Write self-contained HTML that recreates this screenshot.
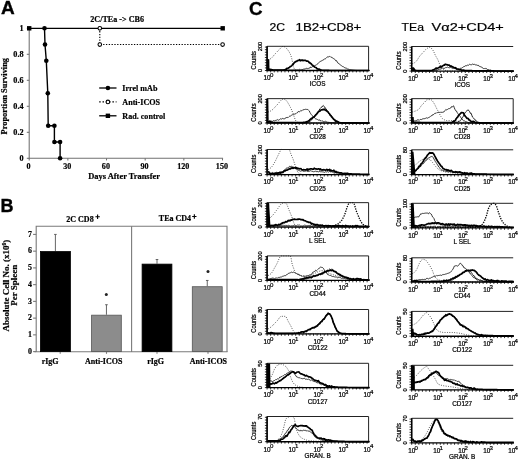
<!DOCTYPE html><html><head><meta charset="utf-8"><style>html,body{margin:0;padding:0;background:#fff;}svg{display:block;filter:blur(0.3px);}text{font-family:"Liberation Sans",sans-serif;}.s{font-family:"Liberation Serif",serif;font-weight:bold;stroke:#000;stroke-width:0.2px;}.c{stroke:#000;stroke-width:0.22px;}.t{stroke:#000;stroke-width:0.2px;}</style></head><body>
<svg width="520" height="460" viewBox="0 0 520 460">
<text x="1.1" y="14" stroke="#000" stroke-width="0.35" style="font-family:'Liberation Sans';font-weight:bold;font-size:19px">A</text>
<g stroke="#707070" stroke-width="1.05" fill="none">
<line x1="29.2" y1="27" x2="29.2" y2="158.8"/>
<line x1="28.7" y1="158.3" x2="223.1" y2="158.3"/>
<line x1="26.8" y1="158.3" x2="29.2" y2="158.3"/>
<line x1="26.8" y1="132.3" x2="29.2" y2="132.3"/>
<line x1="26.8" y1="106.3" x2="29.2" y2="106.3"/>
<line x1="26.8" y1="80.3" x2="29.2" y2="80.3"/>
<line x1="26.8" y1="54.3" x2="29.2" y2="54.3"/>
<line x1="26.8" y1="28.3" x2="29.2" y2="28.3"/>
<line x1="29.2" y1="158.3" x2="29.2" y2="160.4"/>
<line x1="67.86" y1="158.3" x2="67.86" y2="160.4"/>
<line x1="106.52" y1="158.3" x2="106.52" y2="160.4"/>
<line x1="145.18" y1="158.3" x2="145.18" y2="160.4"/>
<line x1="183.84" y1="158.3" x2="183.84" y2="160.4"/>
<line x1="222.5" y1="158.3" x2="222.5" y2="160.4"/>
</g>
<text class="s" x="23.6" y="160.9" text-anchor="end" font-size="8.2">0</text>
<text class="s" x="23.6" y="134.9" text-anchor="end" font-size="8.2">0.2</text>
<text class="s" x="23.6" y="108.9" text-anchor="end" font-size="8.2">0.4</text>
<text class="s" x="23.6" y="82.9" text-anchor="end" font-size="8.2">0.6</text>
<text class="s" x="23.6" y="56.9" text-anchor="end" font-size="8.2">0.8</text>
<text class="s" x="23.6" y="30.9" text-anchor="end" font-size="8.2">1</text>
<text class="s" x="28.6" y="168.9" text-anchor="middle" font-size="8.1">0</text>
<text class="s" x="67.26" y="168.9" text-anchor="middle" font-size="8.1">30</text>
<text class="s" x="105.92" y="168.9" text-anchor="middle" font-size="8.1">60</text>
<text class="s" x="144.58" y="168.9" text-anchor="middle" font-size="8.1">90</text>
<text class="s" x="183.24" y="168.9" text-anchor="middle" font-size="8.1">120</text>
<text class="s" x="221.91" y="168.9" text-anchor="middle" font-size="8.1">150</text>
<text class="s" x="124.1" y="179.4" text-anchor="middle" font-size="8.45">Days After Transfer</text>
<text class="s" transform="translate(7.2,96.2) rotate(-90)" text-anchor="middle" font-size="8.4">Proportion Surviving</text>
<text class="s" x="90.3" y="21.9" font-size="8.1">2C/TEa -&gt; CB6</text>
<line x1="29.2" y1="28.30000000000001" x2="222.6" y2="28.30000000000001" stroke="#000" stroke-width="1.2"/>
<rect x="27" y="26.100000000000012" width="4.4" height="4.4" fill="#000"/>
<rect x="220.5" y="26.100000000000012" width="4.4" height="4.4" fill="#000"/>
<path d="M99.8,28.30000000000001 V44.55000000000001 H222.6" stroke="#000" stroke-width="1.1" stroke-dasharray="1.3,1.5" fill="none"/>
<circle cx="99.8" cy="28.3" r="1.8" fill="#fff" stroke="#000" stroke-width="1.05"/>
<circle cx="99.8" cy="44.55" r="1.8" fill="#fff" stroke="#000" stroke-width="1.05"/>
<circle cx="222.6" cy="44.55" r="1.8" fill="#fff" stroke="#000" stroke-width="1.05"/>
<path d="M44.5,28.30000000000001 L45,44.55 L46.3,60.8 L47.8,93.3 L48.2,125.8 H54.4 V142.05 H60.1 V158.3" stroke="#000" stroke-width="1.4" fill="none"/>
<circle cx="44.5" cy="28.3" r="2.3" fill="#000"/>
<circle cx="45" cy="44.55" r="2.3" fill="#000"/>
<circle cx="46.3" cy="60.8" r="2.3" fill="#000"/>
<circle cx="47.8" cy="93.3" r="2.3" fill="#000"/>
<circle cx="48.2" cy="125.8" r="2.3" fill="#000"/>
<circle cx="54.4" cy="125.8" r="2.3" fill="#000"/>
<circle cx="54.4" cy="142.05" r="2.3" fill="#000"/>
<circle cx="60.1" cy="142.05" r="2.3" fill="#000"/>
<circle cx="60.1" cy="158.3" r="2.3" fill="#000"/>
<line x1="99.2" y1="88" x2="116.5" y2="88" stroke="#000" stroke-width="1.3"/>
<circle cx="107.9" cy="88" r="2.3" fill="#000"/>
<text class="s" x="122.3" y="90.9" font-size="8.1">Irrel mAb</text>
<line x1="99.2" y1="101.9" x2="116.5" y2="101.9" stroke="#000" stroke-width="1.2" stroke-dasharray="1.5,1.8"/>
<circle cx="107.9" cy="101.9" r="1.8" fill="#fff" stroke="#000" stroke-width="1.05"/>
<text class="s" x="122.3" y="104.8" font-size="8.1">Anti-ICOS</text>
<line x1="99.2" y1="115.8" x2="116.5" y2="115.8" stroke="#000" stroke-width="1.3"/>
<rect x="105.7" y="113.6" width="4.4" height="4.4" fill="#000"/>
<text class="s" x="122.3" y="118.7" font-size="8.1">Rad. control</text>
<text x="0.4" y="211.5" stroke="#000" stroke-width="0.35" style="font-family:'Liberation Sans';font-weight:bold;font-size:18px">B</text>
<g stroke="#7a7a7a" stroke-width="1.1" fill="none">
<path d="M36.2,352 V226.2 H227 V352"/>
<line x1="131.6" y1="226.2" x2="131.6" y2="352"/>
<line x1="34.5" y1="351.7" x2="227.5" y2="351.7"/>
<line x1="33.1" y1="351.6" x2="36.2" y2="351.6"/>
<line x1="33.1" y1="334.86" x2="36.2" y2="334.86"/>
<line x1="33.1" y1="318.12" x2="36.2" y2="318.12"/>
<line x1="33.1" y1="301.38" x2="36.2" y2="301.38"/>
<line x1="33.1" y1="284.64" x2="36.2" y2="284.64"/>
<line x1="33.1" y1="267.9" x2="36.2" y2="267.9"/>
<line x1="33.1" y1="251.16" x2="36.2" y2="251.16"/>
<line x1="33.1" y1="234.42" x2="36.2" y2="234.42"/>
<line x1="60.2" y1="351.6" x2="60.2" y2="353.8"/>
<line x1="106.5" y1="351.6" x2="106.5" y2="353.8"/>
<line x1="157" y1="351.6" x2="157" y2="353.8"/>
<line x1="208" y1="351.6" x2="208" y2="353.8"/>
</g>
<text class="s" x="31.9" y="353.9" text-anchor="end" font-size="7.9">0</text>
<text class="s" x="31.9" y="337.16" text-anchor="end" font-size="7.9">1</text>
<text class="s" x="31.9" y="320.42" text-anchor="end" font-size="7.9">2</text>
<text class="s" x="31.9" y="303.68" text-anchor="end" font-size="7.9">3</text>
<text class="s" x="31.9" y="286.94" text-anchor="end" font-size="7.9">4</text>
<text class="s" x="31.9" y="270.2" text-anchor="end" font-size="7.9">5</text>
<text class="s" x="31.9" y="253.46" text-anchor="end" font-size="7.9">6</text>
<text class="s" x="31.9" y="236.72" text-anchor="end" font-size="7.9">7</text>
<line x1="55.4" y1="251.16" x2="55.4" y2="234.42" stroke="#555" stroke-width="0.9"/>
<line x1="54.1" y1="234.42" x2="56.7" y2="234.42" stroke="#555" stroke-width="0.9"/>
<rect x="40.4" y="251.56" width="30" height="100.04" fill="#000" stroke="#000" stroke-width="0.8"/>
<line x1="106.45" y1="314.77" x2="106.45" y2="304.73" stroke="#555" stroke-width="0.9"/>
<line x1="105.15" y1="304.73" x2="107.75" y2="304.73" stroke="#555" stroke-width="0.9"/>
<rect x="91.6" y="315.17" width="29.7" height="36.43" fill="#8c8c8c" stroke="#555" stroke-width="0.8"/>
<line x1="157" y1="263.72" x2="157" y2="259.53" stroke="#555" stroke-width="0.9"/>
<line x1="155.7" y1="259.53" x2="158.3" y2="259.53" stroke="#555" stroke-width="0.9"/>
<rect x="142.1" y="264.12" width="29.8" height="87.48" fill="#000" stroke="#000" stroke-width="0.8"/>
<line x1="207.25" y1="286.31" x2="207.25" y2="280.46" stroke="#555" stroke-width="0.9"/>
<line x1="205.95" y1="280.46" x2="208.55" y2="280.46" stroke="#555" stroke-width="0.9"/>
<rect x="192.3" y="286.71" width="29.9" height="64.89" fill="#8c8c8c" stroke="#555" stroke-width="0.8"/>
<circle cx="106.3" cy="294.4" r="1.5" fill="#222"/>
<circle cx="208" cy="271.4" r="1.5" fill="#222"/>
<text class="s" x="50.1" y="364.2" text-anchor="middle" font-size="8">rIgG</text>
<text class="s" x="103.7" y="364.2" text-anchor="middle" font-size="8">Anti-ICOS</text>
<text class="s" x="155.6" y="364.2" text-anchor="middle" font-size="8">rIgG</text>
<text class="s" x="208.4" y="364.2" text-anchor="middle" font-size="8">Anti-ICOS</text>
<text class="s" x="66.3" y="221.5" font-size="8">2C CD8</text><path d="M95.4,216.7 H99.8 M97.6,214.5 V218.9" stroke="#000" stroke-width="1.1"/>
<text class="s" x="158.8" y="221" font-size="8">TEa CD4</text><path d="M192.2,216.5 H196.5 M194.35,214.3 V218.7" stroke="#000" stroke-width="1.1"/>
<text class="s" transform="translate(8.8,285.7) rotate(-90)" text-anchor="middle" font-size="9">Absolute Cell No. (x10<tspan dy="-3" font-size="5.5">6</tspan><tspan dy="3">)</tspan></text>
<text class="s" transform="translate(16.9,285.3) rotate(-90)" text-anchor="middle" font-size="9">Per Spleen</text>
<text x="249.1" y="14.9" stroke="#000" stroke-width="0.3" style="font-family:'Liberation Sans';font-weight:bold;font-size:18.8px">C</text>
<text x="269.4" y="30.9" font-size="11.6" class="t" textLength="15.6" lengthAdjust="spacingAndGlyphs">2C</text>
<text x="295.5" y="30.9" font-size="11.6" class="t" textLength="65.8" lengthAdjust="spacingAndGlyphs">1B2+CD8+</text>
<text x="401.6" y="30.8" font-size="11.6" class="t" textLength="22.4" lengthAdjust="spacingAndGlyphs">TEa</text>
<text x="431.6" y="30.8" font-size="11.6" class="t" textLength="72.2" lengthAdjust="spacingAndGlyphs">V&#945;2+CD4+</text>
<path d="M268,59.61 L268.7,59.49 L269.4,59.25 L270.1,58.94 L270.8,58.59 L271.5,58.08 L272.2,57.38 L272.9,56.57 L273.6,55.7 L274.3,54.84 L275,54.04 L275.7,53.29 L276.4,52.54 L277.1,51.78 L277.8,51.03 L278.5,50.31 L279.2,49.63 L279.9,48.95 L280.6,48.19 L281.3,47.44 L282,46.8 L282.7,46.4 L283.4,46.31 L284.1,46.54 L284.8,46.91 L285.5,47.38 L286.2,48.05 L286.9,48.84 L287.6,49.69 L288.3,50.61 L289,51.65 L289.7,52.86 L290.4,54.29 L291.1,56.23 L291.8,58.74 L292.5,62.09 L293.2,65.79 L293.9,67.93 L294.6,69.38 L295.3,69.91 L296,70.17 L296.7,70.36 L297.4,70.47 L298.1,70.5 L298.8,70.5 L299.5,70.5 L300.2,70.5 L300.9,70.5 L301.6,70.5 L302.3,70.5 L303,70.5 L303.7,70.5 L304.4,70.5 L305.1,70.5 L305.8,70.5 L306.5,70.5 L307.2,70.5 L307.9,70.5 L308.6,70.5 L309.3,70.5 L310,70.5 L310.7,70.5 L311.4,70.5 L312.1,70.5 L312.8,70.5 L313.5,70.5 L314.2,70.5 L314.9,70.5 L315.6,70.5 L316.3,70.5 L317,70.5 L317.7,70.5 L318.4,70.5 L319.1,70.5 L319.8,70.5 L320.5,70.5 L321.2,70.5 L321.9,70.5 L322.6,70.5 L323.3,70.5 L324,70.5 L324.7,70.5 L325.4,70.5 L326.1,70.5 L326.8,70.5 L327.5,70.5 L328.2,70.5 L328.9,70.5 L329.6,70.5 L330.3,70.5 L331,70.5 L331.7,70.5 L332.4,70.5 L333.1,70.5 L333.8,70.5 L334.5,70.5 L335.2,70.5 L335.9,70.5 L336.6,70.5 L337.3,70.5 L338,70.5 L338.7,70.5 L339.4,70.5 L340.1,70.5 L340.8,70.5 L341.5,70.5 L342.2,70.5 L342.9,70.5 L343.6,70.5 L344.3,70.5 L345,70.5 L345.7,70.5 L346.4,70.5 L347.1,70.5 L347.8,70.5 L348.5,70.5 L349.2,70.5 L349.9,70.5 L350.6,70.5 L351.3,70.5 L352,70.5 L352.7,70.5 L353.4,70.5 L354.1,70.5 L354.8,70.5 L355.5,70.5 L356.2,70.5 L356.9,70.5 L357.6,70.5 L358.3,70.5 L359,70.5 L359.7,70.5 L360.4,70.5 L361.1,70.5 L361.8,70.5 L362.5,70.5 L363.2,70.5 L363.9,70.5 L364.6,70.5 L365.3,70.5 L366,70.5 L366.7,70.5 L367.4,70.5 L368.1,70.5 L368.8,70.5 L369.5,70.5" stroke="#3a3a3a" stroke-width="0.95" fill="none" stroke-dasharray="0.9,1.5"/>
<path d="M268,70.02 L268.7,70.02 L269.4,70.02 L270.1,70.02 L270.8,70.02 L271.5,70.02 L272.2,70.02 L272.9,70.02 L273.6,70.02 L274.3,70.02 L275,70.02 L275.7,70.02 L276.4,70.02 L277.1,70.02 L277.8,70.02 L278.5,70.02 L279.2,70.02 L279.9,70.02 L280.6,70.02 L281.3,70.02 L282,70.02 L282.7,70.02 L283.4,70.02 L284.1,70.02 L284.8,70.02 L285.5,70.02 L286.2,70.02 L286.9,70.02 L287.6,70.02 L288.3,70.02 L289,70.01 L289.7,70.01 L290.4,70 L291.1,69.99 L291.8,69.97 L292.5,69.96 L293.2,69.94 L293.9,69.92 L294.6,69.9 L295.3,69.88 L296,69.85 L296.7,69.83 L297.4,69.8 L298.1,69.72 L298.8,69.87 L299.5,69.33 L300.2,69.36 L300.9,70.36 L301.6,69.49 L302.3,69.89 L303,69.01 L303.7,69.19 L304.4,68.98 L305.1,69.34 L305.8,68.38 L306.5,68.18 L307.2,68.9 L307.9,68.3 L308.6,68.4 L309.3,67.98 L310,68.1 L310.7,66.93 L311.4,67.47 L312.1,66.99 L312.8,66.45 L313.5,66.47 L314.2,66.02 L314.9,65.77 L315.6,65.24 L316.3,65.05 L317,64.3 L317.7,63.65 L318.4,63.11 L319.1,62.43 L319.8,62.01 L320.5,61.24 L321.2,61.09 L321.9,60.59 L322.6,60.31 L323.3,59.85 L324,59.65 L324.7,58.72 L325.4,58.79 L326.1,58.23 L326.8,57.39 L327.5,56.9 L328.2,56.76 L328.9,57.05 L329.6,56.4 L330.3,56.62 L331,57.4 L331.7,57.13 L332.4,57.97 L333.1,58.53 L333.8,58.61 L334.5,59.19 L335.2,59.7 L335.9,60.93 L336.6,60.7 L337.3,62.18 L338,63.22 L338.7,63.31 L339.4,64.23 L340.1,64.58 L340.8,65.28 L341.5,65.68 L342.2,66.06 L342.9,66.79 L343.6,66.79 L344.3,67.51 L345,67.98 L345.7,68.02 L346.4,68.2 L347.1,68.67 L347.8,69.13 L348.5,68.95 L349.2,69.88 L349.9,69.88 L350.6,69.75 L351.3,69.91 L352,70.02 L352.7,70.1 L353.4,70.19 L354.1,70.27 L354.8,70.34 L355.5,70.4 L356.2,70.44 L356.9,70.48 L357.6,70.5 L358.3,70.5 L359,70.5 L359.7,70.5 L360.4,70.5 L361.1,70.5 L361.8,70.5 L362.5,70.5 L363.2,70.5 L363.9,70.5 L364.6,70.5 L365.3,70.5 L366,70.5 L366.7,70.5 L367.4,70.5 L368.1,70.5 L368.8,70.5 L369.5,70.5" stroke="#2a2a2a" stroke-width="0.95" fill="none"/>
<path d="M268,69.25 L268.7,69.06 L269.4,69.25 L270.1,69.23 L270.8,69.69 L271.5,69.49 L272.2,69.9 L272.9,70.01 L273.6,70.02 L274.3,70.02 L275,70.02 L275.7,70.02 L276.4,70.02 L277.1,70.02 L277.8,70.02 L278.5,70.02 L279.2,70.02 L279.9,70.02 L280.6,70.02 L281.3,70.02 L282,70.02 L282.7,70.02 L283.4,70 L284.1,69.87 L284.8,70.06 L285.5,69.38 L286.2,69.51 L286.9,68.26 L287.6,68.31 L288.3,68.1 L289,67.75 L289.7,67.1 L290.4,66.51 L291.1,66.17 L291.8,65.55 L292.5,64.75 L293.2,64.25 L293.9,63.15 L294.6,62.37 L295.3,62.02 L296,61.31 L296.7,61.45 L297.4,60.61 L298.1,60.55 L298.8,60.2 L299.5,59.72 L300.2,60.76 L300.9,60.02 L301.6,60.44 L302.3,60 L303,60.62 L303.7,60.45 L304.4,60.33 L305.1,60.32 L305.8,60.62 L306.5,61.05 L307.2,61.19 L307.9,61.06 L308.6,61.76 L309.3,62.79 L310,62.69 L310.7,63.48 L311.4,64.02 L312.1,65.02 L312.8,65.27 L313.5,66.34 L314.2,66.42 L314.9,67.28 L315.6,67.47 L316.3,67.86 L317,68.8 L317.7,68.95 L318.4,69.18 L319.1,69.08 L319.8,69.44 L320.5,69.84 L321.2,70.01 L321.9,70.14 L322.6,70.23 L323.3,70.27 L324,70.31 L324.7,70.34 L325.4,70.37 L326.1,70.39 L326.8,70.42 L327.5,70.44 L328.2,70.46 L328.9,70.47 L329.6,70.48 L330.3,70.49 L331,70.5 L331.7,70.5 L332.4,70.5 L333.1,70.5 L333.8,70.5 L334.5,70.5 L335.2,70.5 L335.9,70.5 L336.6,70.5 L337.3,70.5 L338,70.5 L338.7,70.5 L339.4,70.5 L340.1,70.5 L340.8,70.5 L341.5,70.5 L342.2,70.5 L342.9,70.5 L343.6,70.5 L344.3,70.5 L345,70.5 L345.7,70.5 L346.4,70.5 L347.1,70.5 L347.8,70.5 L348.5,70.5 L349.2,70.5 L349.9,70.5 L350.6,70.5 L351.3,70.5 L352,70.5 L352.7,70.5 L353.4,70.5 L354.1,70.5 L354.8,70.5 L355.5,70.5 L356.2,70.5 L356.9,70.5 L357.6,70.5 L358.3,70.5 L359,70.5 L359.7,70.5 L360.4,70.5 L361.1,70.5 L361.8,70.5 L362.5,70.5 L363.2,70.5 L363.9,70.5 L364.6,70.5 L365.3,70.5 L366,70.5 L366.7,70.5 L367.4,70.5 L368.1,70.5 L368.8,70.5 L369.5,70.5" stroke="#000" stroke-width="1.7" fill="none" stroke-linejoin="round"/>
<path d="M266.7,70.5 V59.13 H269.3 L269.5,70.5 Z" fill="#000"/>
<path d="M267.1,70.5 V46.3 H368.6 V70.5" stroke="#222" stroke-width="1" fill="none"/>
<line x1="266.6" y1="70.5" x2="369" y2="70.5" stroke="#000" stroke-width="1.4"/>
<path d="M267.1,70.5 v1.9 M270.67,70.5 v1.9 M274.24,70.5 v1.9 M277.81,70.5 v1.9 M281.39,70.5 v1.9 M284.96,70.5 v1.9 M288.53,70.5 v1.9 M292.1,70.5 v1.9 M295.67,70.5 v1.9 M299.24,70.5 v1.9 M302.81,70.5 v1.9 M306.39,70.5 v1.9 M309.96,70.5 v1.9 M313.53,70.5 v1.9 M317.1,70.5 v1.9 M320.67,70.5 v1.9 M324.24,70.5 v1.9 M327.81,70.5 v1.9 M331.39,70.5 v1.9 M334.96,70.5 v1.9 M338.53,70.5 v1.9 M342.1,70.5 v1.9 M345.67,70.5 v1.9 M349.24,70.5 v1.9 M352.81,70.5 v1.9 M356.39,70.5 v1.9 M359.96,70.5 v1.9 M363.53,70.5 v1.9 M367.1,70.5 v1.9" stroke="#000" stroke-width="0.8"/>
<path d="M267.1,70.5 h-2.2 M267.1,67.9 h-2.2 M267.1,65.3 h-2.2 M267.1,62.69 h-2.2 M267.1,60.09 h-2.2 M267.1,57.49 h-2.2 M267.1,54.89 h-2.2 M267.1,52.28 h-2.2 M267.1,49.68 h-2.2 M267.1,47.08 h-2.2" stroke="#000" stroke-width="0.8"/>
<line x1="267.1" y1="46.3" x2="267.1" y2="70.5" stroke="#000" stroke-width="1.5"/>
<text class="c" x="267.1" y="80.3" text-anchor="middle" font-size="6.4">10</text>
<text class="c" x="270" y="77.1" font-size="6.1">0</text>
<text class="c" x="292.1" y="80.3" text-anchor="middle" font-size="6.4">10</text>
<text class="c" x="295" y="77.1" font-size="6.1">1</text>
<text class="c" x="317.1" y="80.3" text-anchor="middle" font-size="6.4">10</text>
<text class="c" x="320" y="77.1" font-size="6.1">2</text>
<text class="c" x="342.1" y="80.3" text-anchor="middle" font-size="6.4">10</text>
<text class="c" x="345" y="77.1" font-size="6.1">3</text>
<text class="c" x="367.1" y="80.3" text-anchor="middle" font-size="6.4">10</text>
<text class="c" x="370" y="77.1" font-size="6.1">4</text>
<text x="317.6" y="86.4" text-anchor="middle" font-size="6.4" class="c">ICOS</text>
<text transform="translate(261.9,46.5) rotate(-90)" text-anchor="middle" font-size="5.7" class="c">200</text>
<text transform="translate(261.9,70.5) rotate(-90)" text-anchor="middle" font-size="5.7" class="c">0</text>
<text transform="translate(255.9,60.2) rotate(-90)" text-anchor="middle" font-size="7" class="c" textLength="18.4" lengthAdjust="spacingAndGlyphs">Counts</text>
<path d="M268,112.04 L268.7,111.84 L269.4,111.57 L270.1,111.24 L270.8,110.87 L271.5,110.46 L272.2,109.94 L272.9,109.33 L273.6,108.63 L274.3,107.88 L275,107.11 L275.7,106.33 L276.4,105.58 L277.1,104.88 L277.8,104.13 L278.5,103.29 L279.2,102.41 L279.9,101.55 L280.6,100.75 L281.3,100.06 L282,99.53 L282.7,99.21 L283.4,99.14 L284.1,99.28 L284.8,99.54 L285.5,99.87 L286.2,100.41 L286.9,101.26 L287.6,102.32 L288.3,103.49 L289,104.66 L289.7,105.9 L290.4,107.27 L291.1,108.75 L291.8,110.34 L292.5,112.04 L293.2,114 L293.9,116.12 L294.6,118.01 L295.3,119.82 L296,121.05 L296.7,121.76 L297.4,122.27 L298.1,122.54 L298.8,122.68 L299.5,122.8 L300.2,122.89 L300.9,122.96 L301.6,122.99 L302.3,123 L303,123 L303.7,123 L304.4,123 L305.1,123 L305.8,123 L306.5,123 L307.2,123 L307.9,123 L308.6,123 L309.3,123 L310,123 L310.7,123 L311.4,123 L312.1,123 L312.8,123 L313.5,123 L314.2,123 L314.9,123 L315.6,123 L316.3,123 L317,123 L317.7,123 L318.4,123 L319.1,123 L319.8,123 L320.5,123 L321.2,123 L321.9,123 L322.6,123 L323.3,123 L324,123 L324.7,123 L325.4,123 L326.1,123 L326.8,123 L327.5,123 L328.2,123 L328.9,123 L329.6,123 L330.3,123 L331,123 L331.7,123 L332.4,123 L333.1,123 L333.8,123 L334.5,123 L335.2,123 L335.9,123 L336.6,123 L337.3,123 L338,123 L338.7,123 L339.4,123 L340.1,123 L340.8,123 L341.5,123 L342.2,123 L342.9,123 L343.6,123 L344.3,123 L345,123 L345.7,123 L346.4,123 L347.1,123 L347.8,123 L348.5,123 L349.2,123 L349.9,123 L350.6,123 L351.3,123 L352,123 L352.7,123 L353.4,123 L354.1,123 L354.8,123 L355.5,123 L356.2,123 L356.9,123 L357.6,123 L358.3,123 L359,123 L359.7,123 L360.4,123 L361.1,123 L361.8,123 L362.5,123 L363.2,123 L363.9,123 L364.6,123 L365.3,123 L366,123 L366.7,123 L367.4,123 L368.1,123 L368.8,123 L369.5,123" stroke="#3a3a3a" stroke-width="0.95" fill="none" stroke-dasharray="0.9,1.5"/>
<path d="M268,121.99 L268.7,121.36 L269.4,121.71 L270.1,122.08 L270.8,121.43 L271.5,120.94 L272.2,121.73 L272.9,120.8 L273.6,120.67 L274.3,120.87 L275,120.77 L275.7,120.36 L276.4,120.28 L277.1,119.63 L277.8,119.76 L278.5,120.2 L279.2,119.86 L279.9,119.27 L280.6,118.79 L281.3,119.09 L282,118.97 L282.7,118.36 L283.4,118.75 L284.1,118.66 L284.8,118.79 L285.5,118.31 L286.2,117.27 L286.9,118.05 L287.6,117.34 L288.3,117.44 L289,116.66 L289.7,116.1 L290.4,116.09 L291.1,115.46 L291.8,115.12 L292.5,114.87 L293.2,114.17 L293.9,114.12 L294.6,114.11 L295.3,113.89 L296,113.61 L296.7,112.89 L297.4,112.79 L298.1,111.58 L298.8,111.51 L299.5,111.74 L300.2,111.37 L300.9,110.37 L301.6,111.02 L302.3,110.24 L303,109.52 L303.7,109.83 L304.4,109.55 L305.1,109.47 L305.8,109.2 L306.5,109.41 L307.2,109.43 L307.9,109.54 L308.6,110.32 L309.3,110.94 L310,112.53 L310.7,113.68 L311.4,114.65 L312.1,115.54 L312.8,116.16 L313.5,116.56 L314.2,117.54 L314.9,118.3 L315.6,118.84 L316.3,119.03 L317,119.3 L317.7,119.63 L318.4,120.14 L319.1,120.09 L319.8,119.87 L320.5,121.01 L321.2,120.65 L321.9,121.4 L322.6,120.93 L323.3,121.41 L324,122 L324.7,121.56 L325.4,121.24 L326.1,121.9 L326.8,121.74 L327.5,122.22 L328.2,122.29 L328.9,122.38 L329.6,122.45 L330.3,122.53 L331,122.59 L331.7,122.65 L332.4,122.7 L333.1,122.73 L333.8,122.75 L334.5,122.76 L335.2,122.78 L335.9,122.79 L336.6,122.8 L337.3,122.81 L338,122.81 L338.7,122.82 L339.4,122.83 L340.1,122.84 L340.8,122.85 L341.5,122.86 L342.2,122.87 L342.9,122.87 L343.6,122.88 L344.3,122.89 L345,122.89 L345.7,122.9 L346.4,122.91 L347.1,122.91 L347.8,122.92 L348.5,122.93 L349.2,122.93 L349.9,122.94 L350.6,122.94 L351.3,122.95 L352,122.95 L352.7,122.95 L353.4,122.96 L354.1,122.96 L354.8,122.97 L355.5,122.97 L356.2,122.97 L356.9,122.98 L357.6,122.98 L358.3,122.98 L359,122.98 L359.7,122.99 L360.4,122.99 L361.1,122.99 L361.8,122.99 L362.5,122.99 L363.2,122.99 L363.9,123 L364.6,123 L365.3,123 L366,123 L366.7,123 L367.4,123 L368.1,123 L368.8,123 L369.5,123" stroke="#2a2a2a" stroke-width="0.95" fill="none"/>
<path d="M268,123 L268.7,123 L269.4,123 L270.1,123 L270.8,123 L271.5,123 L272.2,123 L272.9,123 L273.6,123 L274.3,123 L275,123 L275.7,123 L276.4,123 L277.1,123 L277.8,123 L278.5,123 L279.2,123 L279.9,123 L280.6,123 L281.3,123 L282,123 L282.7,123 L283.4,123 L284.1,123 L284.8,123 L285.5,123 L286.2,123 L286.9,123 L287.6,123 L288.3,123 L289,123 L289.7,123 L290.4,123 L291.1,123 L291.8,123 L292.5,123 L293.2,123 L293.9,123 L294.6,123 L295.3,123 L296,123 L296.7,123 L297.4,123 L298.1,123 L298.8,123 L299.5,123 L300.2,123 L300.9,123 L301.6,123 L302.3,123 L303,123 L303.7,123 L304.4,122.99 L305.1,122.96 L305.8,122.89 L306.5,122.79 L307.2,122.67 L307.9,122.53 L308.6,122.3 L309.3,121.42 L310,121.67 L310.7,120.73 L311.4,119.94 L312.1,118.85 L312.8,117.96 L313.5,117.82 L314.2,117.03 L314.9,116.24 L315.6,114.39 L316.3,113.87 L317,113.06 L317.7,111.89 L318.4,111.63 L319.1,110.45 L319.8,108.84 L320.5,108.21 L321.2,107.46 L321.9,107.03 L322.6,106.01 L323.3,105.45 L324,106.63 L324.7,107.03 L325.4,108.17 L326.1,108.99 L326.8,109.99 L327.5,110.95 L328.2,112.11 L328.9,112.8 L329.6,113.91 L330.3,114.68 L331,115.57 L331.7,116.28 L332.4,117.54 L333.1,118.29 L333.8,118.62 L334.5,119.64 L335.2,120.29 L335.9,120.55 L336.6,121.24 L337.3,121.72 L338,121.98 L338.7,122.62 L339.4,122.44 L340.1,122.62 L340.8,122.77 L341.5,122.89 L342.2,122.97 L342.9,123 L343.6,123 L344.3,123 L345,123 L345.7,123 L346.4,123 L347.1,123 L347.8,123 L348.5,123 L349.2,123 L349.9,123 L350.6,123 L351.3,123 L352,123 L352.7,123 L353.4,123 L354.1,123 L354.8,123 L355.5,123 L356.2,123 L356.9,123 L357.6,123 L358.3,123 L359,123 L359.7,123 L360.4,123 L361.1,123 L361.8,123 L362.5,123 L363.2,123 L363.9,123 L364.6,123 L365.3,123 L366,123 L366.7,123 L367.4,123 L368.1,123 L368.8,123 L369.5,123" stroke="#000" stroke-width="0.85" fill="none"/>
<path d="M268,121.47 L268.7,121.78 L269.4,121.42 L270.1,121.16 L270.8,122.16 L271.5,122.13 L272.2,122.36 L272.9,122.51 L273.6,122.51 L274.3,122.51 L275,122.51 L275.7,122.51 L276.4,122.51 L277.1,122.51 L277.8,122.51 L278.5,122.51 L279.2,122.51 L279.9,122.51 L280.6,122.51 L281.3,122.51 L282,122.51 L282.7,122.51 L283.4,122.51 L284.1,122.51 L284.8,122.51 L285.5,122.51 L286.2,122.51 L286.9,122.51 L287.6,122.51 L288.3,122.51 L289,122.51 L289.7,122.51 L290.4,122.51 L291.1,122.51 L291.8,122.51 L292.5,122.51 L293.2,122.51 L293.9,122.51 L294.6,122.51 L295.3,122.51 L296,122.51 L296.7,122.51 L297.4,122.51 L298.1,122.51 L298.8,122.51 L299.5,122.51 L300.2,122.51 L300.9,122.51 L301.6,122.51 L302.3,122.51 L303,122.47 L303.7,122.41 L304.4,122.31 L305.1,122.41 L305.8,122.14 L306.5,121.86 L307.2,121.68 L307.9,121.36 L308.6,120.85 L309.3,120.53 L310,119.56 L310.7,119 L311.4,118.41 L312.1,118.65 L312.8,117.36 L313.5,117.06 L314.2,116.92 L314.9,115.89 L315.6,115.08 L316.3,114.53 L317,113.68 L317.7,112.73 L318.4,111.84 L319.1,111.29 L319.8,111.21 L320.5,110.39 L321.2,109.87 L321.9,109.95 L322.6,109.49 L323.3,109.39 L324,109.62 L324.7,109.25 L325.4,110.38 L326.1,110.21 L326.8,111.03 L327.5,111.71 L328.2,112.09 L328.9,113.35 L329.6,113.85 L330.3,115.31 L331,115.81 L331.7,116.95 L332.4,117.65 L333.1,118.51 L333.8,119.44 L334.5,119.55 L335.2,120.72 L335.9,121.2 L336.6,121.12 L337.3,121.46 L338,121.83 L338.7,122.28 L339.4,122.5 L340.1,122.66 L340.8,122.75 L341.5,122.77 L342.2,122.78 L342.9,122.8 L343.6,122.81 L344.3,122.82 L345,122.83 L345.7,122.85 L346.4,122.86 L347.1,122.87 L347.8,122.88 L348.5,122.89 L349.2,122.9 L349.9,122.9 L350.6,122.91 L351.3,122.92 L352,122.93 L352.7,122.93 L353.4,122.94 L354.1,122.95 L354.8,122.95 L355.5,122.96 L356.2,122.96 L356.9,122.97 L357.6,122.97 L358.3,122.98 L359,122.98 L359.7,122.98 L360.4,122.98 L361.1,122.99 L361.8,122.99 L362.5,122.99 L363.2,122.99 L363.9,122.99 L364.6,123 L365.3,123 L366,123 L366.7,123 L367.4,123 L368.1,123 L368.8,123 L369.5,123" stroke="#000" stroke-width="1.7" fill="none" stroke-linejoin="round"/>
<path d="M266.7,123 V98.65 H268.3 L268.7,123 Z" fill="#000"/>
<path d="M267.1,123 V98.65 H368.6 V123" stroke="#222" stroke-width="1" fill="none"/>
<line x1="266.6" y1="123" x2="369" y2="123" stroke="#000" stroke-width="1.4"/>
<path d="M267.1,123 v1.9 M270.67,123 v1.9 M274.24,123 v1.9 M277.81,123 v1.9 M281.39,123 v1.9 M284.96,123 v1.9 M288.53,123 v1.9 M292.1,123 v1.9 M295.67,123 v1.9 M299.24,123 v1.9 M302.81,123 v1.9 M306.39,123 v1.9 M309.96,123 v1.9 M313.53,123 v1.9 M317.1,123 v1.9 M320.67,123 v1.9 M324.24,123 v1.9 M327.81,123 v1.9 M331.39,123 v1.9 M334.96,123 v1.9 M338.53,123 v1.9 M342.1,123 v1.9 M345.67,123 v1.9 M349.24,123 v1.9 M352.81,123 v1.9 M356.39,123 v1.9 M359.96,123 v1.9 M363.53,123 v1.9 M367.1,123 v1.9" stroke="#000" stroke-width="0.8"/>
<path d="M267.1,123 h-2.2 M267.1,120.38 h-2.2 M267.1,117.76 h-2.2 M267.1,115.15 h-2.2 M267.1,112.53 h-2.2 M267.1,109.91 h-2.2 M267.1,107.29 h-2.2 M267.1,104.67 h-2.2 M267.1,102.05 h-2.2 M267.1,99.44 h-2.2" stroke="#000" stroke-width="0.8"/>
<line x1="267.1" y1="98.65" x2="267.1" y2="123" stroke="#000" stroke-width="1.5"/>
<text class="c" x="267.1" y="132.8" text-anchor="middle" font-size="6.4">10</text>
<text class="c" x="270" y="129.6" font-size="6.1">0</text>
<text class="c" x="292.1" y="132.8" text-anchor="middle" font-size="6.4">10</text>
<text class="c" x="295" y="129.6" font-size="6.1">1</text>
<text class="c" x="317.1" y="132.8" text-anchor="middle" font-size="6.4">10</text>
<text class="c" x="320" y="129.6" font-size="6.1">2</text>
<text class="c" x="342.1" y="132.8" text-anchor="middle" font-size="6.4">10</text>
<text class="c" x="345" y="129.6" font-size="6.1">3</text>
<text class="c" x="367.1" y="132.8" text-anchor="middle" font-size="6.4">10</text>
<text class="c" x="370" y="129.6" font-size="6.1">4</text>
<text x="317.6" y="138.9" text-anchor="middle" font-size="6.4" class="c">CD28</text>
<text transform="translate(261.9,98.85) rotate(-90)" text-anchor="middle" font-size="5.7" class="c">200</text>
<text transform="translate(261.9,123) rotate(-90)" text-anchor="middle" font-size="5.7" class="c">0</text>
<text transform="translate(255.9,112.62) rotate(-90)" text-anchor="middle" font-size="7" class="c" textLength="18.4" lengthAdjust="spacingAndGlyphs">Counts</text>
<path d="M268,169.58 L268.7,169.3 L269.4,168.89 L270.1,168.37 L270.8,167.78 L271.5,167.12 L272.2,166.29 L272.9,165.28 L273.6,164.15 L274.3,162.97 L275,161.72 L275.7,160.32 L276.4,158.84 L277.1,157.35 L277.8,155.92 L278.5,154.49 L279.2,153.06 L279.9,151.65 L280.6,150.04 L281.3,149.5 L282,149.5 L282.7,149.5 L283.4,149.5 L284.1,149.5 L284.8,149.5 L285.5,149.5 L286.2,149.5 L286.9,149.5 L287.6,149.5 L288.3,149.5 L289,149.5 L289.7,150.46 L290.4,152.53 L291.1,154.51 L291.8,156.12 L292.5,157.74 L293.2,159.46 L293.9,161.45 L294.6,163.83 L295.3,166.12 L296,168.35 L296.7,170.27 L297.4,171.43 L298.1,172.35 L298.8,173.09 L299.5,173.62 L300.2,173.91 L300.9,174.12 L301.6,174.3 L302.3,174.44 L303,174.54 L303.7,174.59 L304.4,174.6 L305.1,174.6 L305.8,174.6 L306.5,174.6 L307.2,174.6 L307.9,174.6 L308.6,174.6 L309.3,174.6 L310,174.6 L310.7,174.6 L311.4,174.6 L312.1,174.6 L312.8,174.6 L313.5,174.6 L314.2,174.6 L314.9,174.6 L315.6,174.6 L316.3,174.6 L317,174.6 L317.7,174.6 L318.4,174.6 L319.1,174.6 L319.8,174.6 L320.5,174.6 L321.2,174.6 L321.9,174.6 L322.6,174.6 L323.3,174.6 L324,174.6 L324.7,174.6 L325.4,174.6 L326.1,174.6 L326.8,174.6 L327.5,174.6 L328.2,174.6 L328.9,174.6 L329.6,174.6 L330.3,174.6 L331,174.6 L331.7,174.6 L332.4,174.6 L333.1,174.6 L333.8,174.6 L334.5,174.6 L335.2,174.6 L335.9,174.6 L336.6,174.6 L337.3,174.6 L338,174.6 L338.7,174.6 L339.4,174.6 L340.1,174.6 L340.8,174.6 L341.5,174.6 L342.2,174.6 L342.9,174.6 L343.6,174.6 L344.3,174.6 L345,174.6 L345.7,174.6 L346.4,174.6 L347.1,174.6 L347.8,174.6 L348.5,174.6 L349.2,174.6 L349.9,174.6 L350.6,174.6 L351.3,174.6 L352,174.6 L352.7,174.6 L353.4,174.6 L354.1,174.6 L354.8,174.6 L355.5,174.6 L356.2,174.6 L356.9,174.6 L357.6,174.6 L358.3,174.6 L359,174.6 L359.7,174.6 L360.4,174.6 L361.1,174.6 L361.8,174.6 L362.5,174.6 L363.2,174.6 L363.9,174.6 L364.6,174.6 L365.3,174.6 L366,174.6 L366.7,174.6 L367.4,174.6 L368.1,174.6 L368.8,174.6 L369.5,174.6" stroke="#3a3a3a" stroke-width="0.95" fill="none" stroke-dasharray="0.9,1.5"/>
<path d="M268,173.33 L268.7,173.33 L269.4,173.57 L270.1,172.55 L270.8,173.37 L271.5,173.06 L272.2,172.62 L272.9,172.53 L273.6,173.1 L274.3,172.84 L275,172.89 L275.7,172.44 L276.4,172.03 L277.1,173.31 L277.8,172.45 L278.5,173.54 L279.2,172.62 L279.9,172.88 L280.6,171.76 L281.3,172.01 L282,171.89 L282.7,171.38 L283.4,170.93 L284.1,170.23 L284.8,169.88 L285.5,169.13 L286.2,168.27 L286.9,167.9 L287.6,167.91 L288.3,167.56 L289,167.02 L289.7,166.28 L290.4,166.53 L291.1,166.53 L291.8,166.3 L292.5,166.97 L293.2,167.21 L293.9,167.07 L294.6,167.67 L295.3,168.16 L296,168.43 L296.7,169.24 L297.4,169.79 L298.1,170.2 L298.8,170.28 L299.5,170.71 L300.2,171.22 L300.9,171.03 L301.6,170.81 L302.3,170.51 L303,171.48 L303.7,171.08 L304.4,171.31 L305.1,171.02 L305.8,171.16 L306.5,170.87 L307.2,171.18 L307.9,171.5 L308.6,171.5 L309.3,171.21 L310,171.22 L310.7,170.61 L311.4,170.83 L312.1,171.69 L312.8,171.23 L313.5,171.74 L314.2,171.84 L314.9,171.13 L315.6,171.22 L316.3,171.73 L317,170.96 L317.7,171.79 L318.4,171.9 L319.1,171.4 L319.8,171.58 L320.5,171.74 L321.2,171.76 L321.9,171.72 L322.6,171.86 L323.3,171.9 L324,172.45 L324.7,172.3 L325.4,171.74 L326.1,172.15 L326.8,171.8 L327.5,171.61 L328.2,172.11 L328.9,171.95 L329.6,171.44 L330.3,171.9 L331,171.62 L331.7,171.8 L332.4,172.14 L333.1,172.52 L333.8,172.86 L334.5,173.08 L335.2,172.73 L335.9,172.87 L336.6,173.19 L337.3,172.99 L338,173.53 L338.7,173.1 L339.4,173.52 L340.1,173.63 L340.8,173.71 L341.5,173.83 L342.2,173.88 L342.9,173.95 L343.6,174.01 L344.3,174.06 L345,174.1 L345.7,174.13 L346.4,174.15 L347.1,174.18 L347.8,174.2 L348.5,174.23 L349.2,174.25 L349.9,174.27 L350.6,174.3 L351.3,174.32 L352,174.34 L352.7,174.36 L353.4,174.38 L354.1,174.4 L354.8,174.41 L355.5,174.43 L356.2,174.45 L356.9,174.46 L357.6,174.48 L358.3,174.49 L359,174.5 L359.7,174.52 L360.4,174.53 L361.1,174.54 L361.8,174.55 L362.5,174.56 L363.2,174.56 L363.9,174.57 L364.6,174.58 L365.3,174.58 L366,174.59 L366.7,174.59 L367.4,174.6 L368.1,174.6 L368.8,174.6 L369.5,174.6" stroke="#2a2a2a" stroke-width="0.95" fill="none"/>
<path d="M268,172.51 L268.7,171.76 L269.4,172.98 L270.1,173.88 L270.8,173.83 L271.5,173.92 L272.2,173.67 L272.9,173.67 L273.6,173.83 L274.3,174.45 L275,173.64 L275.7,173.43 L276.4,173.33 L277.1,173.43 L277.8,173.11 L278.5,172.78 L279.2,173.05 L279.9,172.27 L280.6,173.09 L281.3,172.66 L282,172.32 L282.7,172.55 L283.4,171.87 L284.1,170.95 L284.8,170.71 L285.5,170.79 L286.2,169.98 L286.9,170.07 L287.6,169.93 L288.3,169.34 L289,169.1 L289.7,168.53 L290.4,168.94 L291.1,168 L291.8,168.28 L292.5,167.74 L293.2,168.35 L293.9,167.95 L294.6,167.82 L295.3,167.65 L296,168.42 L296.7,167.7 L297.4,168.23 L298.1,168.69 L298.8,168.33 L299.5,168.86 L300.2,168.76 L300.9,168.64 L301.6,169.31 L302.3,169.86 L303,169.94 L303.7,169.65 L304.4,169.73 L305.1,170.03 L305.8,169.93 L306.5,169.47 L307.2,168.91 L307.9,170.34 L308.6,169.23 L309.3,169.38 L310,168.93 L310.7,168.75 L311.4,168.85 L312.1,169.04 L312.8,169.06 L313.5,169.15 L314.2,168.22 L314.9,168.7 L315.6,168.88 L316.3,168.9 L317,169.35 L317.7,168.97 L318.4,168.79 L319.1,168.94 L319.8,169.83 L320.5,169.01 L321.2,169.71 L321.9,170.11 L322.6,169.95 L323.3,169.91 L324,169.67 L324.7,170.02 L325.4,170.21 L326.1,169.88 L326.8,169.28 L327.5,170.13 L328.2,169.85 L328.9,170.05 L329.6,169.37 L330.3,170.86 L331,170.11 L331.7,170.99 L332.4,170.97 L333.1,171.01 L333.8,170.22 L334.5,171.61 L335.2,172.14 L335.9,171.37 L336.6,172.2 L337.3,172.22 L338,172.36 L338.7,172.53 L339.4,172.8 L340.1,172.84 L340.8,172.95 L341.5,172.91 L342.2,173.39 L342.9,173.56 L343.6,173.73 L344.3,173.3 L345,173.55 L345.7,173.42 L346.4,173.48 L347.1,173.18 L347.8,173.68 L348.5,173.56 L349.2,174.19 L349.9,173.87 L350.6,173.91 L351.3,173.95 L352,173.98 L352.7,174.02 L353.4,174.04 L354.1,174.07 L354.8,174.09 L355.5,174.11 L356.2,174.13 L356.9,174.15 L357.6,174.17 L358.3,174.18 L359,174.2 L359.7,174.22 L360.4,174.23 L361.1,174.25 L361.8,174.26 L362.5,174.28 L363.2,174.29 L363.9,174.3 L364.6,174.31 L365.3,174.32 L366,174.33 L366.7,174.34 L367.4,174.34 L368.1,174.35 L368.8,174.35 L369.5,174.35" stroke="#000" stroke-width="1.7" fill="none" stroke-linejoin="round"/>
<path d="M267.1,174.6 V149.5 H368.6 V174.6" stroke="#222" stroke-width="1" fill="none"/>
<line x1="266.6" y1="174.6" x2="369" y2="174.6" stroke="#000" stroke-width="1.4"/>
<path d="M267.1,174.6 v1.9 M270.67,174.6 v1.9 M274.24,174.6 v1.9 M277.81,174.6 v1.9 M281.39,174.6 v1.9 M284.96,174.6 v1.9 M288.53,174.6 v1.9 M292.1,174.6 v1.9 M295.67,174.6 v1.9 M299.24,174.6 v1.9 M302.81,174.6 v1.9 M306.39,174.6 v1.9 M309.96,174.6 v1.9 M313.53,174.6 v1.9 M317.1,174.6 v1.9 M320.67,174.6 v1.9 M324.24,174.6 v1.9 M327.81,174.6 v1.9 M331.39,174.6 v1.9 M334.96,174.6 v1.9 M338.53,174.6 v1.9 M342.1,174.6 v1.9 M345.67,174.6 v1.9 M349.24,174.6 v1.9 M352.81,174.6 v1.9 M356.39,174.6 v1.9 M359.96,174.6 v1.9 M363.53,174.6 v1.9 M367.1,174.6 v1.9" stroke="#000" stroke-width="0.8"/>
<path d="M267.1,174.6 h-2.2 M267.1,171.9 h-2.2 M267.1,169.2 h-2.2 M267.1,166.5 h-2.2 M267.1,163.8 h-2.2 M267.1,161.11 h-2.2 M267.1,158.41 h-2.2 M267.1,155.71 h-2.2 M267.1,153.01 h-2.2 M267.1,150.31 h-2.2" stroke="#000" stroke-width="0.8"/>
<line x1="267.1" y1="149.5" x2="267.1" y2="174.6" stroke="#000" stroke-width="1.5"/>
<text class="c" x="267.1" y="184.4" text-anchor="middle" font-size="6.4">10</text>
<text class="c" x="270" y="181.2" font-size="6.1">0</text>
<text class="c" x="292.1" y="184.4" text-anchor="middle" font-size="6.4">10</text>
<text class="c" x="295" y="181.2" font-size="6.1">1</text>
<text class="c" x="317.1" y="184.4" text-anchor="middle" font-size="6.4">10</text>
<text class="c" x="320" y="181.2" font-size="6.1">2</text>
<text class="c" x="342.1" y="184.4" text-anchor="middle" font-size="6.4">10</text>
<text class="c" x="345" y="181.2" font-size="6.1">3</text>
<text class="c" x="367.1" y="184.4" text-anchor="middle" font-size="6.4">10</text>
<text class="c" x="370" y="181.2" font-size="6.1">4</text>
<text x="317.6" y="190.5" text-anchor="middle" font-size="6.4" class="c">CD25</text>
<text transform="translate(261.9,149.7) rotate(-90)" text-anchor="middle" font-size="5.7" class="c">200</text>
<text transform="translate(261.9,174.6) rotate(-90)" text-anchor="middle" font-size="5.7" class="c">0</text>
<text transform="translate(255.9,163.85) rotate(-90)" text-anchor="middle" font-size="7" class="c" textLength="18.4" lengthAdjust="spacingAndGlyphs">Counts</text>
<path d="M268,219.69 L268.7,219.14 L269.4,218.54 L270.1,217.91 L270.8,217.23 L271.5,216.53 L272.2,215.79 L272.9,215.03 L273.6,214.23 L274.3,213.36 L275,212.43 L275.7,211.46 L276.4,210.47 L277.1,209.51 L277.8,208.58 L278.5,207.55 L279.2,206.47 L279.9,205.45 L280.6,204.55 L281.3,203.88 L282,203.48 L282.7,203.16 L283.4,202.9 L284.1,202.72 L284.8,202.65 L285.5,202.91 L286.2,203.54 L286.9,204.51 L287.6,206.28 L288.3,208.24 L289,209.96 L289.7,211.66 L290.4,213.36 L291.1,215.03 L291.8,216.73 L292.5,218.78 L293.2,221.15 L293.9,223.14 L294.6,224.51 L295.3,225.66 L296,226.27 L296.7,226.5 L297.4,226.69 L298.1,226.83 L298.8,226.93 L299.5,226.99 L300.2,227 L300.9,227 L301.6,227 L302.3,227 L303,227 L303.7,227 L304.4,227 L305.1,227 L305.8,227 L306.5,227 L307.2,227 L307.9,227 L308.6,227 L309.3,227 L310,227 L310.7,227 L311.4,227 L312.1,227 L312.8,227 L313.5,227 L314.2,227 L314.9,227 L315.6,227 L316.3,227 L317,227 L317.7,227 L318.4,227 L319.1,227 L319.8,227 L320.5,227 L321.2,227 L321.9,227 L322.6,227 L323.3,227 L324,227 L324.7,227 L325.4,227 L326.1,227 L326.8,227 L327.5,227" stroke="#3a3a3a" stroke-width="0.95" fill="none" stroke-dasharray="0.9,1.5"/>
<path d="M328,227 L328.7,226.83 L329.4,226.66 L330.1,226.49 L330.8,226.32 L331.5,226.16 L332.2,225.99 L332.9,225.83 L333.6,225.66 L334.3,225.46 L335,225.25 L335.7,225 L336.4,224.72 L337.1,224.38 L337.8,223.95 L338.5,223.46 L339.2,222.9 L339.9,222.27 L340.6,221.58 L341.3,220.81 L342,219.85 L342.7,218.7 L343.4,217.39 L344.1,215.93 L344.8,214.34 L345.5,212.26 L346.2,209.93 L346.9,207.79 L347.6,205.91 L348.3,204.24 L349,203.3 L349.7,202.72 L350.4,202.65 L351.1,202.65 L351.8,202.65 L352.5,202.65 L353.2,202.69 L353.9,203.36 L354.6,204.88 L355.3,207.72 L356,210.24 L356.7,212.09 L357.4,213.74 L358.1,215.34 L358.8,217 L359.5,218.69 L360.2,220.24 L360.9,221.48 L361.6,222.55 L362.3,223.51 L363,224.3 L363.7,224.88 L364.4,225.32 L365.1,225.7 L365.8,226.02 L366.5,226.29 L367.2,226.51 L367.9,226.7 L368.6,226.86 L369.3,226.98" stroke="#000" stroke-width="1.3" fill="none" stroke-dasharray="1.3,1.2"/>
<path d="M268,226.74 L268.7,226 L269.4,225.92 L270.1,225.84 L270.8,226.25 L271.5,225.84 L272.2,225.86 L272.9,226.42 L273.6,226.53 L274.3,225.73 L275,226.13 L275.7,225.55 L276.4,225.2 L277.1,225.97 L277.8,225.99 L278.5,225.77 L279.2,225.55 L279.9,226.06 L280.6,225.34 L281.3,225.39 L282,225.47 L282.7,225.8 L283.4,225.35 L284.1,225.35 L284.8,225.93 L285.5,224.95 L286.2,225.64 L286.9,225.44 L287.6,225.69 L288.3,225.43 L289,225.2 L289.7,225.77 L290.4,226.02 L291.1,225.67 L291.8,225.92 L292.5,225.76 L293.2,225.58 L293.9,225.56 L294.6,225.16 L295.3,225.84 L296,225.44 L296.7,225.69 L297.4,225.14 L298.1,224.8 L298.8,225.45 L299.5,225.05 L300.2,225.69 L300.9,226.01 L301.6,225.91 L302.3,226 L303,225.82 L303.7,225.61 L304.4,225.2 L305.1,225.33 L305.8,225.4 L306.5,225.66 L307.2,225.75 L307.9,225.53 L308.6,225.5 L309.3,225.47 L310,225.45 L310.7,225.61 L311.4,226.15 L312.1,225.94 L312.8,225.87 L313.5,225.16 L314.2,225.8 L314.9,225.5 L315.6,225.3 L316.3,225.65 L317,225.88 L317.7,225.86 L318.4,226.09 L319.1,225.71 L319.8,225.48 L320.5,225.65 L321.2,225.61 L321.9,225.63 L322.6,225.26 L323.3,226.04 L324,225.82 L324.7,225.67 L325.4,225.52 L326.1,226.6 L326.8,226.05 L327.5,225.97 L328.2,226.21 L328.9,225.67 L329.6,225.86 L330.3,226.05 L331,226.42 L331.7,226.34 L332.4,226.25 L333.1,225.83 L333.8,226.33 L334.5,226.59 L335.2,226.41 L335.9,226.17 L336.6,225.52 L337.3,225.29 L338,226.17 L338.7,225.76 L339.4,225.64 L340.1,225.68 L340.8,226.1 L341.5,226.46 L342.2,226.23 L342.9,226.65 L343.6,226.04 L344.3,225.9 L345,226.69 L345.7,226.16 L346.4,226.07 L347.1,225.81 L347.8,225.78 L348.5,225.96 L349.2,226.41 L349.9,226.33 L350.6,225.88 L351.3,226.42 L352,226.27 L352.7,225.81 L353.4,226.28 L354.1,226.29 L354.8,226.3 L355.5,226.31 L356.2,226.32 L356.9,226.33 L357.6,226.34 L358.3,226.35 L359,226.36 L359.7,226.37 L360.4,226.38 L361.1,226.39 L361.8,226.4 L362.5,226.41 L363.2,226.42 L363.9,226.43 L364.6,226.44 L365.3,226.45 L366,226.46 L366.7,226.47 L367.4,226.48 L368.1,226.49 L368.8,226.5 L369.5,226.51" stroke="#2a2a2a" stroke-width="0.95" fill="none"/>
<path d="M268,225.66 L268.7,225.43 L269.4,225.33 L270.1,225.4 L270.8,225.75 L271.5,225.4 L272.2,225.52 L272.9,225.47 L273.6,225.89 L274.3,225.13 L275,225.29 L275.7,224.67 L276.4,224.89 L277.1,225.3 L277.8,225.27 L278.5,224.42 L279.2,224.89 L279.9,224.3 L280.6,224.38 L281.3,223.4 L282,223.67 L282.7,222.9 L283.4,222.6 L284.1,222.8 L284.8,222.47 L285.5,221.69 L286.2,221.87 L286.9,221.89 L287.6,221.06 L288.3,220.44 L289,220.98 L289.7,220.35 L290.4,220.58 L291.1,219.89 L291.8,220.09 L292.5,219.38 L293.2,219.38 L293.9,219.41 L294.6,219.16 L295.3,219.35 L296,219.52 L296.7,219.5 L297.4,219.21 L298.1,219.5 L298.8,219.08 L299.5,219.11 L300.2,219.23 L300.9,219.65 L301.6,219.65 L302.3,219.86 L303,219.65 L303.7,220.45 L304.4,220.56 L305.1,220.79 L305.8,221.07 L306.5,221.57 L307.2,221.87 L307.9,221.71 L308.6,222.5 L309.3,222.33 L310,222.29 L310.7,222.8 L311.4,223.99 L312.1,223.5 L312.8,223.84 L313.5,224.05 L314.2,224.89 L314.9,224.4 L315.6,225.13 L316.3,224.61 L317,224.82 L317.7,224.5 L318.4,225.42 L319.1,225.81 L319.8,225.11 L320.5,225.21 L321.2,225.62 L321.9,225.15 L322.6,225.38 L323.3,225.99 L324,225.74 L324.7,225.8 L325.4,225.72 L326.1,225.66 L326.8,225.94 L327.5,225.81 L328.2,225.6 L328.9,225.81 L329.6,225.88 L330.3,225.91 L331,225.86 L331.7,226.4 L332.4,225.81 L333.1,226.17 L333.8,225.85 L334.5,226.32 L335.2,225.63 L335.9,225.84 L336.6,226.31 L337.3,225.86 L338,226.16 L338.7,225.42 L339.4,225.81 L340.1,226.2 L340.8,225.91 L341.5,225.99 L342.2,225.65 L342.9,225.9 L343.6,225.87 L344.3,226.35 L345,225.81 L345.7,225.44 L346.4,225.87 L347.1,226.08 L347.8,226.03 L348.5,226.37 L349.2,226.05 L349.9,226.44 L350.6,226.11 L351.3,226.25 L352,226.39 L352.7,225.99 L353.4,226.61 L354.1,226.19 L354.8,226.58 L355.5,225.67 L356.2,225.64 L356.9,225.98 L357.6,225.69 L358.3,226.28 L359,226.29 L359.7,226.3 L360.4,226.32 L361.1,226.33 L361.8,226.34 L362.5,226.36 L363.2,226.37 L363.9,226.39 L364.6,226.4 L365.3,226.42 L366,226.43 L366.7,226.45 L367.4,226.46 L368.1,226.48 L368.8,226.5 L369.5,226.51" stroke="#000" stroke-width="1.7" fill="none" stroke-linejoin="round"/>
<path d="M266.7,227 V202.65 H269.1 L270.5,227 Z" fill="#000"/>
<path d="M267.1,227 V202.65 H368.6 V227" stroke="#222" stroke-width="1" fill="none"/>
<line x1="266.6" y1="227" x2="369" y2="227" stroke="#000" stroke-width="1.4"/>
<path d="M267.1,227 v1.9 M270.67,227 v1.9 M274.24,227 v1.9 M277.81,227 v1.9 M281.39,227 v1.9 M284.96,227 v1.9 M288.53,227 v1.9 M292.1,227 v1.9 M295.67,227 v1.9 M299.24,227 v1.9 M302.81,227 v1.9 M306.39,227 v1.9 M309.96,227 v1.9 M313.53,227 v1.9 M317.1,227 v1.9 M320.67,227 v1.9 M324.24,227 v1.9 M327.81,227 v1.9 M331.39,227 v1.9 M334.96,227 v1.9 M338.53,227 v1.9 M342.1,227 v1.9 M345.67,227 v1.9 M349.24,227 v1.9 M352.81,227 v1.9 M356.39,227 v1.9 M359.96,227 v1.9 M363.53,227 v1.9 M367.1,227 v1.9" stroke="#000" stroke-width="0.8"/>
<path d="M267.1,227 h-2.2 M267.1,224.38 h-2.2 M267.1,221.76 h-2.2 M267.1,219.15 h-2.2 M267.1,216.53 h-2.2 M267.1,213.91 h-2.2 M267.1,211.29 h-2.2 M267.1,208.67 h-2.2 M267.1,206.05 h-2.2 M267.1,203.44 h-2.2" stroke="#000" stroke-width="0.8"/>
<line x1="267.1" y1="202.65" x2="267.1" y2="227" stroke="#000" stroke-width="1.5"/>
<text class="c" x="267.1" y="236.8" text-anchor="middle" font-size="6.4">10</text>
<text class="c" x="270" y="233.6" font-size="6.1">0</text>
<text class="c" x="292.1" y="236.8" text-anchor="middle" font-size="6.4">10</text>
<text class="c" x="295" y="233.6" font-size="6.1">1</text>
<text class="c" x="317.1" y="236.8" text-anchor="middle" font-size="6.4">10</text>
<text class="c" x="320" y="233.6" font-size="6.1">2</text>
<text class="c" x="342.1" y="236.8" text-anchor="middle" font-size="6.4">10</text>
<text class="c" x="345" y="233.6" font-size="6.1">3</text>
<text class="c" x="367.1" y="236.8" text-anchor="middle" font-size="6.4">10</text>
<text class="c" x="370" y="233.6" font-size="6.1">4</text>
<text x="317.6" y="242.9" text-anchor="middle" font-size="6.4" class="c">L SEL</text>
<text transform="translate(261.9,202.85) rotate(-90)" text-anchor="middle" font-size="5.7" class="c">200</text>
<text transform="translate(261.9,227) rotate(-90)" text-anchor="middle" font-size="5.7" class="c">0</text>
<text transform="translate(255.9,216.62) rotate(-90)" text-anchor="middle" font-size="7" class="c" textLength="18.4" lengthAdjust="spacingAndGlyphs">Counts</text>
<path d="M268,275.5 L268.7,275.29 L269.4,274.9 L270.1,274.38 L270.8,273.77 L271.5,273.09 L272.2,272.13 L272.9,270.93 L273.6,269.62 L274.3,268.33 L275,267.11 L275.7,265.9 L276.4,264.65 L277.1,263.32 L277.8,261.85 L278.5,260.07 L279.2,258.37 L279.9,257.12 L280.6,256.11 L281.3,255.9 L282,255.9 L282.7,255.9 L283.4,255.9 L284.1,255.9 L284.8,255.9 L285.5,255.9 L286.2,255.9 L286.9,255.9 L287.6,255.9 L288.3,255.9 L289,255.9 L289.7,255.9 L290.4,255.9 L291.1,258.04 L291.8,262.57 L292.5,265.16 L293.2,267.08 L293.9,269.02 L294.6,271.1 L295.3,272.43 L296,273.14 L296.7,273.68 L297.4,274.1 L298.1,274.43 L298.8,274.73 L299.5,275.02 L300.2,275.29 L300.9,275.53 L301.6,275.73 L302.3,275.88 L303,275.97 L303.7,275.99 L304.4,275.99 L305.1,275.99 L305.8,275.99 L306.5,275.99 L307.2,275.99 L307.9,275.99 L308.6,275.99 L309.3,275.93 L310,275.74 L310.7,275.45 L311.4,275.09 L312.1,274.7 L312.8,274.3 L313.5,273.93 L314.2,273.6 L314.9,273.26 L315.6,272.91 L316.3,272.57 L317,272.24 L317.7,271.94 L318.4,271.67 L319.1,271.38 L319.8,271.1 L320.5,270.86 L321.2,270.68 L321.9,270.6 L322.6,270.65 L323.3,270.8 L324,271.03 L324.7,271.31 L325.4,271.59 L326.1,271.86 L326.8,272.14 L327.5,272.45 L328.2,272.79 L328.9,273.12 L329.6,273.45 L330.3,273.76 L331,274.03 L331.7,274.27 L332.4,274.49 L333.1,274.69 L333.8,274.89 L334.5,275.08 L335.2,275.27 L335.9,275.47 L336.6,275.67 L337.3,275.88 L338,276.08 L338.7,276.29 L339.4,276.49 L340.1,276.69 L340.8,276.89 L341.5,277.08 L342.2,277.26 L342.9,277.44 L343.6,277.6 L344.3,277.77 L345,277.93 L345.7,278.09 L346.4,278.25 L347.1,278.4 L347.8,278.54 L348.5,278.67 L349.2,278.8 L349.9,278.91 L350.6,279.02 L351.3,279.13 L352,279.23 L352.7,279.33 L353.4,279.43 L354.1,279.52 L354.8,279.61 L355.5,279.69 L356.2,279.76 L356.9,279.83 L357.6,279.88 L358.3,279.93 L359,279.97 L359.7,280.02 L360.4,280.06 L361.1,280.11 L361.8,280.15 L362.5,280.18 L363.2,280.22 L363.9,280.26 L364.6,280.29 L365.3,280.32 L366,280.34 L366.7,280.36 L367.4,280.38 L368.1,280.39 L368.8,280.4 L369.5,280.4" stroke="#3a3a3a" stroke-width="0.95" fill="none" stroke-dasharray="0.9,1.5"/>
<path d="M268,279.83 L268.7,279.09 L269.4,279.08 L270.1,278.93 L270.8,278.5 L271.5,278.37 L272.2,278.2 L272.9,277.95 L273.6,278.27 L274.3,278.76 L275,278.16 L275.7,278.12 L276.4,278.01 L277.1,278.1 L277.8,278.07 L278.5,277.45 L279.2,277.26 L279.9,277.71 L280.6,277.02 L281.3,277 L282,276.8 L282.7,276.2 L283.4,276.12 L284.1,275.96 L284.8,275.48 L285.5,275.74 L286.2,274.92 L286.9,274.45 L287.6,274.3 L288.3,273.44 L289,273.06 L289.7,273.06 L290.4,272.76 L291.1,272.35 L291.8,272.11 L292.5,272.56 L293.2,272.21 L293.9,272.11 L294.6,272.64 L295.3,273.14 L296,273.44 L296.7,273.61 L297.4,274.22 L298.1,273.76 L298.8,274.96 L299.5,275.07 L300.2,275.41 L300.9,275.48 L301.6,275.97 L302.3,276.42 L303,275.71 L303.7,276.35 L304.4,276.38 L305.1,276.41 L305.8,276.1 L306.5,276.12 L307.2,275.78 L307.9,275.58 L308.6,275.44 L309.3,275.04 L310,274.98 L310.7,274.96 L311.4,274.03 L312.1,273.79 L312.8,272.2 L313.5,271.97 L314.2,271.55 L314.9,271.53 L315.6,270.26 L316.3,270.89 L317,270.21 L317.7,269.5 L318.4,268.99 L319.1,268.17 L319.8,267.79 L320.5,267.11 L321.2,267.37 L321.9,267.3 L322.6,267.55 L323.3,268.25 L324,269.44 L324.7,270.78 L325.4,271.51 L326.1,272.36 L326.8,272.98 L327.5,274.47 L328.2,274.85 L328.9,274.76 L329.6,275.46 L330.3,275.33 L331,275.8 L331.7,276.12 L332.4,276.49 L333.1,276.32 L333.8,276.69 L334.5,276.84 L335.2,277.01 L335.9,276.93 L336.6,277.08 L337.3,277.77 L338,277.45 L338.7,277.41 L339.4,277.35 L340.1,277.55 L340.8,277.85 L341.5,278.38 L342.2,278.41 L342.9,278.05 L343.6,278.67 L344.3,278.29 L345,278.35 L345.7,279.16 L346.4,278.83 L347.1,279.1 L347.8,278.56 L348.5,278.98 L349.2,279.45 L349.9,279.24 L350.6,279.69 L351.3,279.52 L352,279.47 L352.7,279.54 L353.4,279.54 L354.1,279.68 L354.8,279.73 L355.5,279.77 L356.2,279.81 L356.9,279.85 L357.6,279.89 L358.3,279.93 L359,279.96 L359.7,280 L360.4,280.04 L361.1,280.07 L361.8,280.11 L362.5,280.14 L363.2,280.17 L363.9,280.2 L364.6,280.23 L365.3,280.26 L366,280.29 L366.7,280.31 L367.4,280.34 L368.1,280.36 L368.8,280.38 L369.5,280.4" stroke="#2a2a2a" stroke-width="0.95" fill="none"/>
<path d="M268,279.91 L268.7,279.91 L269.4,279.91 L270.1,279.91 L270.8,279.91 L271.5,279.91 L272.2,279.91 L272.9,279.91 L273.6,279.91 L274.3,279.91 L275,279.91 L275.7,279.91 L276.4,279.91 L277.1,279.91 L277.8,279.91 L278.5,279.91 L279.2,279.91 L279.9,279.91 L280.6,279.91 L281.3,279.91 L282,279.91 L282.7,279.91 L283.4,279.91 L284.1,279.91 L284.8,279.91 L285.5,279.91 L286.2,279.91 L286.9,279.91 L287.6,279.91 L288.3,279.91 L289,279.91 L289.7,279.91 L290.4,279.91 L291.1,279.91 L291.8,279.91 L292.5,279.91 L293.2,279.91 L293.9,279.91 L294.6,279.91 L295.3,279.91 L296,279.91 L296.7,279.91 L297.4,279.91 L298.1,279.91 L298.8,279.9 L299.5,279.86 L300.2,279.81 L300.9,279.73 L301.6,279.22 L302.3,279.35 L303,279.76 L303.7,279.56 L304.4,279.37 L305.1,279.06 L305.8,279.02 L306.5,278.86 L307.2,278.88 L307.9,278.18 L308.6,278.06 L309.3,277.86 L310,277.98 L310.7,277.61 L311.4,277.8 L312.1,277.59 L312.8,277.21 L313.5,276.63 L314.2,276.58 L314.9,276.6 L315.6,275.96 L316.3,275.58 L317,275.37 L317.7,275.33 L318.4,274.82 L319.1,274.65 L319.8,274.3 L320.5,273.88 L321.2,273.28 L321.9,272.6 L322.6,272.32 L323.3,272.23 L324,272.19 L324.7,271.8 L325.4,271.41 L326.1,270.61 L326.8,271.39 L327.5,270.15 L328.2,270.5 L328.9,269.65 L329.6,269.03 L330.3,269.49 L331,269.8 L331.7,268.93 L332.4,269.32 L333.1,270.21 L333.8,270.57 L334.5,271.7 L335.2,271.68 L335.9,272.13 L336.6,273.04 L337.3,273.73 L338,273.98 L338.7,274.5 L339.4,275.45 L340.1,275.2 L340.8,275.73 L341.5,276.23 L342.2,276.21 L342.9,276.61 L343.6,276.94 L344.3,277.56 L345,277.4 L345.7,278.19 L346.4,278.1 L347.1,278.75 L347.8,278.94 L348.5,278.49 L349.2,278.81 L349.9,278.92 L350.6,278.91 L351.3,279.11 L352,279.57 L352.7,279.37 L353.4,279.47 L354.1,279.66 L354.8,279.6 L355.5,279.72 L356.2,279.85 L356.9,279.71 L357.6,279.75 L358.3,279.8 L359,279.84 L359.7,279.88 L360.4,279.91 L361.1,279.95 L361.8,279.98 L362.5,280.01 L363.2,280.04 L363.9,280.06 L364.6,280.08 L365.3,280.1 L366,280.12 L366.7,280.13 L367.4,280.14 L368.1,280.15 L368.8,280.15 L369.5,280.15" stroke="#000" stroke-width="0.85" fill="none"/>
<path d="M268,279.07 L268.7,279.87 L269.4,279.55 L270.1,279.7 L270.8,279.47 L271.5,279.56 L272.2,279.5 L272.9,279.63 L273.6,279.66 L274.3,280.04 L275,279.6 L275.7,279.52 L276.4,279.81 L277.1,279.85 L277.8,279.85 L278.5,279.66 L279.2,279.66 L279.9,279.66 L280.6,279.66 L281.3,279.66 L282,279.66 L282.7,279.66 L283.4,279.66 L284.1,279.66 L284.8,279.66 L285.5,279.66 L286.2,279.66 L286.9,279.66 L287.6,279.66 L288.3,279.66 L289,279.66 L289.7,279.66 L290.4,279.66 L291.1,279.66 L291.8,279.66 L292.5,279.66 L293.2,279.66 L293.9,279.66 L294.6,279.66 L295.3,279.66 L296,279.66 L296.7,279.66 L297.4,279.66 L298.1,279.88 L298.8,279.71 L299.5,279.9 L300.2,279.11 L300.9,279.8 L301.6,279.03 L302.3,278.93 L303,278.69 L303.7,278.93 L304.4,278.15 L305.1,278 L305.8,278.08 L306.5,277.88 L307.2,277.86 L307.9,277.47 L308.6,277.73 L309.3,277.16 L310,277.03 L310.7,277.38 L311.4,277.56 L312.1,276.64 L312.8,276.46 L313.5,275.87 L314.2,276.01 L314.9,275.97 L315.6,276.02 L316.3,275.44 L317,275.37 L317.7,275.3 L318.4,274.8 L319.1,274.22 L319.8,274.27 L320.5,274.37 L321.2,273.71 L321.9,273.86 L322.6,273.71 L323.3,272.77 L324,272.73 L324.7,271.89 L325.4,271.79 L326.1,271.8 L326.8,271.23 L327.5,270.65 L328.2,270.81 L328.9,270.81 L329.6,270.49 L330.3,270.39 L331,270.46 L331.7,270.6 L332.4,270.33 L333.1,270.46 L333.8,271.28 L334.5,271.33 L335.2,271.66 L335.9,271.83 L336.6,272.82 L337.3,273.33 L338,273.57 L338.7,274.12 L339.4,274.47 L340.1,274.53 L340.8,275.37 L341.5,275.49 L342.2,276.15 L342.9,276.19 L343.6,276.62 L344.3,276.91 L345,277 L345.7,277.31 L346.4,277.32 L347.1,277.46 L347.8,278.41 L348.5,277.94 L349.2,279.13 L349.9,278.61 L350.6,278.62 L351.3,279.11 L352,279 L352.7,279.16 L353.4,278.67 L354.1,279.86 L354.8,279.22 L355.5,279.5 L356.2,278.87 L356.9,278.55 L357.6,278.58 L358.3,278.75 L359,278.93 L359.7,279.32 L360.4,278.85 L361.1,279.15 L361.8,279.7 L362.5,279.93 L363.2,279.82 L363.9,279.68 L364.6,279.73 L365.3,279.77 L366,279.81 L366.7,279.84 L367.4,279.87 L368.1,279.89 L368.8,279.91 L369.5,279.91" stroke="#000" stroke-width="1.7" fill="none" stroke-linejoin="round"/>
<path d="M267.1,280.4 V255.9 H368.6 V280.4" stroke="#222" stroke-width="1" fill="none"/>
<line x1="266.6" y1="280.4" x2="369" y2="280.4" stroke="#000" stroke-width="1.4"/>
<path d="M267.1,280.4 v1.9 M270.67,280.4 v1.9 M274.24,280.4 v1.9 M277.81,280.4 v1.9 M281.39,280.4 v1.9 M284.96,280.4 v1.9 M288.53,280.4 v1.9 M292.1,280.4 v1.9 M295.67,280.4 v1.9 M299.24,280.4 v1.9 M302.81,280.4 v1.9 M306.39,280.4 v1.9 M309.96,280.4 v1.9 M313.53,280.4 v1.9 M317.1,280.4 v1.9 M320.67,280.4 v1.9 M324.24,280.4 v1.9 M327.81,280.4 v1.9 M331.39,280.4 v1.9 M334.96,280.4 v1.9 M338.53,280.4 v1.9 M342.1,280.4 v1.9 M345.67,280.4 v1.9 M349.24,280.4 v1.9 M352.81,280.4 v1.9 M356.39,280.4 v1.9 M359.96,280.4 v1.9 M363.53,280.4 v1.9 M367.1,280.4 v1.9" stroke="#000" stroke-width="0.8"/>
<path d="M267.1,280.4 h-2.2 M267.1,277.77 h-2.2 M267.1,275.13 h-2.2 M267.1,272.5 h-2.2 M267.1,269.86 h-2.2 M267.1,267.23 h-2.2 M267.1,264.59 h-2.2 M267.1,261.96 h-2.2 M267.1,259.32 h-2.2 M267.1,256.69 h-2.2" stroke="#000" stroke-width="0.8"/>
<line x1="267.1" y1="255.9" x2="267.1" y2="280.4" stroke="#000" stroke-width="1.5"/>
<text class="c" x="267.1" y="290.2" text-anchor="middle" font-size="6.4">10</text>
<text class="c" x="270" y="287" font-size="6.1">0</text>
<text class="c" x="292.1" y="290.2" text-anchor="middle" font-size="6.4">10</text>
<text class="c" x="295" y="287" font-size="6.1">1</text>
<text class="c" x="317.1" y="290.2" text-anchor="middle" font-size="6.4">10</text>
<text class="c" x="320" y="287" font-size="6.1">2</text>
<text class="c" x="342.1" y="290.2" text-anchor="middle" font-size="6.4">10</text>
<text class="c" x="345" y="287" font-size="6.1">3</text>
<text class="c" x="367.1" y="290.2" text-anchor="middle" font-size="6.4">10</text>
<text class="c" x="370" y="287" font-size="6.1">4</text>
<text x="317.6" y="296.3" text-anchor="middle" font-size="6.4" class="c">CD44</text>
<text transform="translate(261.9,256.1) rotate(-90)" text-anchor="middle" font-size="5.7" class="c">200</text>
<text transform="translate(261.9,280.4) rotate(-90)" text-anchor="middle" font-size="5.7" class="c">0</text>
<text transform="translate(255.9,269.95) rotate(-90)" text-anchor="middle" font-size="7" class="c" textLength="18.4" lengthAdjust="spacingAndGlyphs">Counts</text>
<path d="M268,329.02 L268.7,328.63 L269.4,328.19 L270.1,327.69 L270.8,327.16 L271.5,326.59 L272.2,325.98 L272.9,325.27 L273.6,324.51 L274.3,323.76 L275,323.04 L275.7,322.34 L276.4,321.63 L277.1,320.91 L277.8,320.13 L278.5,319.13 L279.2,318.07 L279.9,317.12 L280.6,316.49 L281.3,316.33 L282,316.33 L282.7,316.33 L283.4,316.33 L284.1,316.33 L284.8,316.33 L285.5,316.37 L286.2,317.1 L286.9,318.44 L287.6,320.04 L288.3,321.52 L289,322.75 L289.7,323.98 L290.4,325.23 L291.1,326.53 L291.8,328 L292.5,329.48 L293.2,330.62 L293.9,331.56 L294.6,332.41 L295.3,333.07 L296,333.41 L296.7,333.56 L297.4,333.68 L298.1,333.78 L298.8,333.85 L299.5,333.89 L300.2,333.9 L300.9,333.9 L301.6,333.9 L302.3,333.9 L303,333.9 L303.7,333.9 L304.4,333.9 L305.1,333.9 L305.8,333.9 L306.5,333.9 L307.2,333.9 L307.9,333.9 L308.6,333.9 L309.3,333.9 L310,333.9 L310.7,333.9 L311.4,333.9 L312.1,333.9 L312.8,333.9 L313.5,333.9 L314.2,333.9 L314.9,333.9 L315.6,333.9 L316.3,333.9 L317,333.9 L317.7,333.9 L318.4,333.9 L319.1,333.9 L319.8,333.9 L320.5,333.9 L321.2,333.9 L321.9,333.9 L322.6,333.9 L323.3,333.9 L324,333.9 L324.7,333.9 L325.4,333.9 L326.1,333.9 L326.8,333.9 L327.5,333.9 L328.2,333.9 L328.9,333.9 L329.6,333.9 L330.3,333.9 L331,333.9 L331.7,333.9 L332.4,333.9 L333.1,333.9 L333.8,333.9 L334.5,333.9 L335.2,333.9 L335.9,333.9 L336.6,333.9 L337.3,333.9 L338,333.9 L338.7,333.9 L339.4,333.9 L340.1,333.9 L340.8,333.9 L341.5,333.9 L342.2,333.9 L342.9,333.9 L343.6,333.9 L344.3,333.9 L345,333.9 L345.7,333.9 L346.4,333.9 L347.1,333.9 L347.8,333.9 L348.5,333.9 L349.2,333.9 L349.9,333.9 L350.6,333.9 L351.3,333.9 L352,333.9 L352.7,333.9 L353.4,333.9 L354.1,333.9 L354.8,333.9 L355.5,333.9 L356.2,333.9 L356.9,333.9 L357.6,333.9 L358.3,333.9 L359,333.9 L359.7,333.9 L360.4,333.9 L361.1,333.9 L361.8,333.9 L362.5,333.9 L363.2,333.9 L363.9,333.9 L364.6,333.9 L365.3,333.9 L366,333.9 L366.7,333.9 L367.4,333.9 L368.1,333.9 L368.8,333.9 L369.5,333.9" stroke="#3a3a3a" stroke-width="0.95" fill="none" stroke-dasharray="0.9,1.5"/>
<path d="M268,333.41 L268.7,333.41 L269.4,333.41 L270.1,333.41 L270.8,333.41 L271.5,333.41 L272.2,333.41 L272.9,333.41 L273.6,333.41 L274.3,333.41 L275,333.41 L275.7,333.4 L276.4,333.4 L277.1,333.4 L277.8,333.4 L278.5,333.4 L279.2,333.39 L279.9,333.39 L280.6,333.39 L281.3,333.38 L282,333.38 L282.7,333.37 L283.4,333.37 L284.1,333.36 L284.8,333.36 L285.5,333.35 L286.2,333.35 L286.9,333.34 L287.6,333.33 L288.3,333.33 L289,333.32 L289.7,333.31 L290.4,333.3 L291.1,333.29 L291.8,333.28 L292.5,333.27 L293.2,333.26 L293.9,333.25 L294.6,333.24 L295.3,333.22 L296,333.21 L296.7,333.2 L297.4,333.18 L298.1,333.59 L298.8,332.81 L299.5,332.84 L300.2,332.17 L300.9,332.1 L301.6,331.78 L302.3,331.6 L303,331.58 L303.7,331.44 L304.4,331.71 L305.1,331.65 L305.8,330.5 L306.5,330.42 L307.2,330.7 L307.9,329.35 L308.6,329.74 L309.3,329.01 L310,328.66 L310.7,328.4 L311.4,327.93 L312.1,328.2 L312.8,327.5 L313.5,327.25 L314.2,326.82 L314.9,326.57 L315.6,326.28 L316.3,325.87 L317,324.89 L317.7,324.83 L318.4,323.86 L319.1,323.21 L319.8,322.65 L320.5,321.79 L321.2,321.04 L321.9,320.64 L322.6,319.64 L323.3,318.41 L324,318.47 L324.7,317.41 L325.4,316.68 L326.1,314.82 L326.8,314.56 L327.5,313.17 L328.2,312.67 L328.9,313.61 L329.6,314.17 L330.3,315.29 L331,316.6 L331.7,317.83 L332.4,319.5 L333.1,321.58 L333.8,323.34 L334.5,325.14 L335.2,326.69 L335.9,328.98 L336.6,329.87 L337.3,331.29 L338,332.35 L338.7,332.57 L339.4,332.57 L340.1,332.94 L340.8,333.26 L341.5,333.45 L342.2,333.58 L342.9,333.65 L343.6,333.67 L344.3,333.69 L345,333.7 L345.7,333.71 L346.4,333.73 L347.1,333.74 L347.8,333.75 L348.5,333.76 L349.2,333.77 L349.9,333.79 L350.6,333.79 L351.3,333.8 L352,333.81 L352.7,333.82 L353.4,333.83 L354.1,333.84 L354.8,333.84 L355.5,333.85 L356.2,333.85 L356.9,333.86 L357.6,333.87 L358.3,333.87 L359,333.87 L359.7,333.88 L360.4,333.88 L361.1,333.88 L361.8,333.89 L362.5,333.89 L363.2,333.89 L363.9,333.89 L364.6,333.9 L365.3,333.9 L366,333.9 L366.7,333.9 L367.4,333.9 L368.1,333.9 L368.8,333.9 L369.5,333.9" stroke="#2a2a2a" stroke-width="0.95" fill="none"/>
<path d="M268,333.5 L268.7,332.82 L269.4,333.07 L270.1,333.24 L270.8,332.65 L271.5,332.58 L272.2,333.17 L272.9,332.87 L273.6,333.43 L274.3,333.19 L275,333.25 L275.7,333.31 L276.4,333.36 L277.1,333.39 L277.8,333.41 L278.5,333.41 L279.2,333.41 L279.9,333.41 L280.6,333.41 L281.3,333.41 L282,333.41 L282.7,333.4 L283.4,333.4 L284.1,333.4 L284.8,333.39 L285.5,333.39 L286.2,333.38 L286.9,333.38 L287.6,333.37 L288.3,333.36 L289,333.36 L289.7,333.35 L290.4,333.34 L291.1,333.33 L291.8,333.32 L292.5,333.3 L293.2,333.29 L293.9,333.28 L294.6,333.26 L295.3,333.24 L296,333.23 L296.7,333.21 L297.4,333.19 L298.1,333.24 L298.8,332.71 L299.5,333.1 L300.2,332.74 L300.9,332.25 L301.6,331.93 L302.3,331.88 L303,331.74 L303.7,332.48 L304.4,331.57 L305.1,331.44 L305.8,331.17 L306.5,331.3 L307.2,330.63 L307.9,330.12 L308.6,329.56 L309.3,329.56 L310,329.65 L310.7,328.91 L311.4,328.44 L312.1,328.19 L312.8,327.51 L313.5,327.84 L314.2,327.78 L314.9,327.35 L315.6,326.62 L316.3,326.62 L317,326.21 L317.7,325.6 L318.4,324.39 L319.1,324.02 L319.8,323.5 L320.5,322.44 L321.2,321.75 L321.9,321.49 L322.6,320.18 L323.3,319.5 L324,319.28 L324.7,318.14 L325.4,316.86 L326.1,315.87 L326.8,315.04 L327.5,314.31 L328.2,313.39 L328.9,314.02 L329.6,313.83 L330.3,314.84 L331,315.75 L331.7,317.46 L332.4,319.09 L333.1,322.1 L333.8,323.62 L334.5,325.16 L335.2,327.24 L335.9,328.2 L336.6,329.92 L337.3,331.32 L338,331.47 L338.7,332.37 L339.4,332.58 L340.1,333.2 L340.8,333.26 L341.5,333.45 L342.2,333.58 L342.9,333.65 L343.6,333.67 L344.3,333.69 L345,333.7 L345.7,333.71 L346.4,333.73 L347.1,333.74 L347.8,333.75 L348.5,333.76 L349.2,333.77 L349.9,333.79 L350.6,333.79 L351.3,333.8 L352,333.81 L352.7,333.82 L353.4,333.83 L354.1,333.84 L354.8,333.84 L355.5,333.85 L356.2,333.85 L356.9,333.86 L357.6,333.87 L358.3,333.87 L359,333.87 L359.7,333.88 L360.4,333.88 L361.1,333.88 L361.8,333.89 L362.5,333.89 L363.2,333.89 L363.9,333.89 L364.6,333.9 L365.3,333.9 L366,333.9 L366.7,333.9 L367.4,333.9 L368.1,333.9 L368.8,333.9 L369.5,333.9" stroke="#000" stroke-width="1.7" fill="none" stroke-linejoin="round"/>
<path d="M267.1,333.9 V309.5 H368.6 V333.9" stroke="#222" stroke-width="1" fill="none"/>
<line x1="266.6" y1="333.9" x2="369" y2="333.9" stroke="#000" stroke-width="1.4"/>
<path d="M267.1,333.9 v1.9 M270.67,333.9 v1.9 M274.24,333.9 v1.9 M277.81,333.9 v1.9 M281.39,333.9 v1.9 M284.96,333.9 v1.9 M288.53,333.9 v1.9 M292.1,333.9 v1.9 M295.67,333.9 v1.9 M299.24,333.9 v1.9 M302.81,333.9 v1.9 M306.39,333.9 v1.9 M309.96,333.9 v1.9 M313.53,333.9 v1.9 M317.1,333.9 v1.9 M320.67,333.9 v1.9 M324.24,333.9 v1.9 M327.81,333.9 v1.9 M331.39,333.9 v1.9 M334.96,333.9 v1.9 M338.53,333.9 v1.9 M342.1,333.9 v1.9 M345.67,333.9 v1.9 M349.24,333.9 v1.9 M352.81,333.9 v1.9 M356.39,333.9 v1.9 M359.96,333.9 v1.9 M363.53,333.9 v1.9 M367.1,333.9 v1.9" stroke="#000" stroke-width="0.8"/>
<path d="M267.1,333.9 h-2.2 M267.1,331.28 h-2.2 M267.1,328.65 h-2.2 M267.1,326.03 h-2.2 M267.1,323.41 h-2.2 M267.1,320.78 h-2.2 M267.1,318.16 h-2.2 M267.1,315.53 h-2.2 M267.1,312.91 h-2.2 M267.1,310.29 h-2.2" stroke="#000" stroke-width="0.8"/>
<line x1="267.1" y1="309.5" x2="267.1" y2="333.9" stroke="#000" stroke-width="1.5"/>
<text class="c" x="267.1" y="343.7" text-anchor="middle" font-size="6.4">10</text>
<text class="c" x="270" y="340.5" font-size="6.1">0</text>
<text class="c" x="292.1" y="343.7" text-anchor="middle" font-size="6.4">10</text>
<text class="c" x="295" y="340.5" font-size="6.1">1</text>
<text class="c" x="317.1" y="343.7" text-anchor="middle" font-size="6.4">10</text>
<text class="c" x="320" y="340.5" font-size="6.1">2</text>
<text class="c" x="342.1" y="343.7" text-anchor="middle" font-size="6.4">10</text>
<text class="c" x="345" y="340.5" font-size="6.1">3</text>
<text class="c" x="367.1" y="343.7" text-anchor="middle" font-size="6.4">10</text>
<text class="c" x="370" y="340.5" font-size="6.1">4</text>
<text x="317.6" y="349.8" text-anchor="middle" font-size="6.4" class="c">CD122</text>
<text transform="translate(261.9,309.7) rotate(-90)" text-anchor="middle" font-size="5.7" class="c">80</text>
<text transform="translate(261.9,333.9) rotate(-90)" text-anchor="middle" font-size="5.7" class="c">0</text>
<text transform="translate(255.9,323.5) rotate(-90)" text-anchor="middle" font-size="7" class="c" textLength="18.4" lengthAdjust="spacingAndGlyphs">Counts</text>
<path d="M268,380.31 L268.7,379.86 L269.4,379.17 L270.1,378.3 L270.8,377.27 L271.5,376.12 L272.2,374.9 L272.9,373.33 L273.6,371.32 L274.3,369.56 L275,368.33 L275.7,367.2 L276.4,366.24 L277.1,365.52 L277.8,365.08 L278.5,364.72 L279.2,364.41 L279.9,364.18 L280.6,364.05 L281.3,364.04 L282,364.19 L282.7,364.47 L283.4,364.84 L284.1,365.27 L284.8,365.73 L285.5,366.27 L286.2,366.98 L286.9,367.86 L287.6,368.89 L288.3,370.18 L289,372.1 L289.7,374.31 L290.4,376.4 L291.1,378.27 L291.8,380.1 L292.5,381.6 L293.2,382.71 L293.9,383.67 L294.6,384.45 L295.3,384.99 L296,385.4 L296.7,385.77 L297.4,386.09 L298.1,386.36 L298.8,386.58 L299.5,386.77 L300.2,386.91 L300.9,387.04 L301.6,387.16 L302.3,387.28 L303,387.38 L303.7,387.46 L304.4,387.53 L305.1,387.58 L305.8,387.6 L306.5,387.6 L307.2,387.6 L307.9,387.6 L308.6,387.6 L309.3,387.6 L310,387.6 L310.7,387.6 L311.4,387.6 L312.1,387.6 L312.8,387.6 L313.5,387.6 L314.2,387.6 L314.9,387.6 L315.6,387.6 L316.3,387.6 L317,387.6 L317.7,387.6 L318.4,387.6 L319.1,387.6 L319.8,387.6 L320.5,387.6 L321.2,387.6 L321.9,387.6 L322.6,387.6 L323.3,387.6 L324,387.6 L324.7,387.6 L325.4,387.6 L326.1,387.6 L326.8,387.6 L327.5,387.6 L328.2,387.6 L328.9,387.6 L329.6,387.6 L330.3,387.6 L331,387.6 L331.7,387.6 L332.4,387.6 L333.1,387.6 L333.8,387.6 L334.5,387.6 L335.2,387.6 L335.9,387.6 L336.6,387.6 L337.3,387.6 L338,387.6 L338.7,387.6 L339.4,387.6 L340.1,387.6 L340.8,387.6 L341.5,387.6 L342.2,387.6 L342.9,387.6 L343.6,387.6 L344.3,387.6 L345,387.6 L345.7,387.6 L346.4,387.6 L347.1,387.6 L347.8,387.6 L348.5,387.6 L349.2,387.6 L349.9,387.6 L350.6,387.6 L351.3,387.6 L352,387.6 L352.7,387.6 L353.4,387.6 L354.1,387.6 L354.8,387.6 L355.5,387.6 L356.2,387.6 L356.9,387.6 L357.6,387.6 L358.3,387.6 L359,387.6 L359.7,387.6 L360.4,387.6 L361.1,387.6 L361.8,387.6 L362.5,387.6 L363.2,387.6 L363.9,387.6 L364.6,387.6 L365.3,387.6 L366,387.6 L366.7,387.6 L367.4,387.6 L368.1,387.6 L368.8,387.6 L369.5,387.6" stroke="#3a3a3a" stroke-width="0.95" fill="none" stroke-dasharray="0.9,1.5"/>
<path d="M268,379.88 L268.7,380.81 L269.4,380.04 L270.1,380.77 L270.8,381.02 L271.5,380.82 L272.2,381.96 L272.9,381.25 L273.6,380.89 L274.3,380.59 L275,380.29 L275.7,379.5 L276.4,379.62 L277.1,379.01 L277.8,378.71 L278.5,378.95 L279.2,378.29 L279.9,376.97 L280.6,377.16 L281.3,376.61 L282,376.51 L282.7,375.79 L283.4,375.69 L284.1,375.13 L284.8,374.45 L285.5,374.52 L286.2,374.12 L286.9,373.19 L287.6,373.06 L288.3,372.59 L289,371.82 L289.7,371.63 L290.4,371.1 L291.1,371.44 L291.8,370.87 L292.5,371.63 L293.2,372.13 L293.9,373.29 L294.6,373.88 L295.3,374.98 L296,375.96 L296.7,376.98 L297.4,377.19 L298.1,377.32 L298.8,377.86 L299.5,377.77 L300.2,377.8 L300.9,378.5 L301.6,378.49 L302.3,378.77 L303,378.39 L303.7,378.54 L304.4,378.14 L305.1,379.03 L305.8,379.42 L306.5,379.13 L307.2,379.42 L307.9,379.4 L308.6,379.19 L309.3,379.76 L310,379.61 L310.7,380.63 L311.4,379.94 L312.1,380.48 L312.8,380.89 L313.5,381.28 L314.2,381.04 L314.9,381.93 L315.6,381.72 L316.3,382.52 L317,382.66 L317.7,382.87 L318.4,382.69 L319.1,383.51 L319.8,383.81 L320.5,384.18 L321.2,384.5 L321.9,384.83 L322.6,384.34 L323.3,384.65 L324,385.48 L324.7,385.43 L325.4,386.01 L326.1,385.58 L326.8,385.82 L327.5,386.15 L328.2,386.56 L328.9,386.23 L329.6,386.39 L330.3,386.72 L331,386.54 L331.7,387.24 L332.4,386.93 L333.1,387.01 L333.8,387.09 L334.5,387.16 L335.2,387.22 L335.9,387.27 L336.6,387.31 L337.3,387.34 L338,387.36 L338.7,387.37 L339.4,387.38 L340.1,387.39 L340.8,387.4 L341.5,387.41 L342.2,387.42 L342.9,387.43 L343.6,387.44 L344.3,387.45 L345,387.46 L345.7,387.47 L346.4,387.48 L347.1,387.48 L347.8,387.49 L348.5,387.5 L349.2,387.51 L349.9,387.51 L350.6,387.52 L351.3,387.53 L352,387.53 L352.7,387.54 L353.4,387.54 L354.1,387.55 L354.8,387.55 L355.5,387.56 L356.2,387.56 L356.9,387.57 L357.6,387.57 L358.3,387.57 L359,387.58 L359.7,387.58 L360.4,387.58 L361.1,387.59 L361.8,387.59 L362.5,387.59 L363.2,387.59 L363.9,387.59 L364.6,387.6 L365.3,387.6 L366,387.6 L366.7,387.6 L367.4,387.6 L368.1,387.6 L368.8,387.6 L369.5,387.6" stroke="#2a2a2a" stroke-width="0.95" fill="none"/>
<path d="M268,383.99 L268.7,383.7 L269.4,383.43 L270.1,383.86 L270.8,384.27 L271.5,383.81 L272.2,383.85 L272.9,382.94 L273.6,383.38 L274.3,383.81 L275,383.38 L275.7,382.65 L276.4,383.08 L277.1,382.49 L277.8,381.92 L278.5,381.52 L279.2,381.21 L279.9,380.58 L280.6,380.58 L281.3,379.86 L282,379.37 L282.7,378.77 L283.4,378.25 L284.1,377.65 L284.8,377.26 L285.5,376.78 L286.2,376.06 L286.9,375.4 L287.6,374.88 L288.3,375.01 L289,374.11 L289.7,373.49 L290.4,373.3 L291.1,372.51 L291.8,372.16 L292.5,371.59 L293.2,372.02 L293.9,371.91 L294.6,372.88 L295.3,373.24 L296,372.95 L296.7,372.28 L297.4,371.98 L298.1,371.99 L298.8,371.91 L299.5,372.66 L300.2,373.34 L300.9,373.88 L301.6,373.74 L302.3,374.18 L303,374.53 L303.7,374.9 L304.4,374.91 L305.1,375.83 L305.8,376.01 L306.5,375.4 L307.2,375.87 L307.9,376.31 L308.6,376.96 L309.3,376.79 L310,376.9 L310.7,377.23 L311.4,377.68 L312.1,378.39 L312.8,378.56 L313.5,379.75 L314.2,379.89 L314.9,380.35 L315.6,380.25 L316.3,380.73 L317,380.85 L317.7,381.37 L318.4,380.64 L319.1,381.87 L319.8,382.66 L320.5,382.8 L321.2,383.27 L321.9,383.26 L322.6,383.52 L323.3,384.01 L324,384.5 L324.7,384.96 L325.4,384.6 L326.1,385.02 L326.8,386.45 L327.5,385.78 L328.2,386.22 L328.9,386.24 L329.6,385.77 L330.3,386.72 L331,386.81 L331.7,385.9 L332.4,386.85 L333.1,386.87 L333.8,386.87 L334.5,386.95 L335.2,387.02 L335.9,387.09 L336.6,387.16 L337.3,387.22 L338,387.27 L338.7,387.31 L339.4,387.34 L340.1,387.36 L340.8,387.37 L341.5,387.38 L342.2,387.39 L342.9,387.41 L343.6,387.42 L344.3,387.43 L345,387.44 L345.7,387.45 L346.4,387.46 L347.1,387.47 L347.8,387.48 L348.5,387.48 L349.2,387.49 L349.9,387.5 L350.6,387.51 L351.3,387.51 L352,387.52 L352.7,387.53 L353.4,387.53 L354.1,387.54 L354.8,387.55 L355.5,387.55 L356.2,387.56 L356.9,387.56 L357.6,387.57 L358.3,387.57 L359,387.57 L359.7,387.58 L360.4,387.58 L361.1,387.58 L361.8,387.59 L362.5,387.59 L363.2,387.59 L363.9,387.59 L364.6,387.59 L365.3,387.6 L366,387.6 L366.7,387.6 L367.4,387.6 L368.1,387.6 L368.8,387.6 L369.5,387.6" stroke="#000" stroke-width="1.7" fill="none" stroke-linejoin="round"/>
<path d="M266.7,387.6 V363.3 H270.1 L270.5,387.6 Z" fill="#000"/>
<path d="M267.1,387.6 V363.3 H368.6 V387.6" stroke="#222" stroke-width="1" fill="none"/>
<line x1="266.6" y1="387.6" x2="369" y2="387.6" stroke="#000" stroke-width="1.4"/>
<path d="M267.1,387.6 v1.9 M270.67,387.6 v1.9 M274.24,387.6 v1.9 M277.81,387.6 v1.9 M281.39,387.6 v1.9 M284.96,387.6 v1.9 M288.53,387.6 v1.9 M292.1,387.6 v1.9 M295.67,387.6 v1.9 M299.24,387.6 v1.9 M302.81,387.6 v1.9 M306.39,387.6 v1.9 M309.96,387.6 v1.9 M313.53,387.6 v1.9 M317.1,387.6 v1.9 M320.67,387.6 v1.9 M324.24,387.6 v1.9 M327.81,387.6 v1.9 M331.39,387.6 v1.9 M334.96,387.6 v1.9 M338.53,387.6 v1.9 M342.1,387.6 v1.9 M345.67,387.6 v1.9 M349.24,387.6 v1.9 M352.81,387.6 v1.9 M356.39,387.6 v1.9 M359.96,387.6 v1.9 M363.53,387.6 v1.9 M367.1,387.6 v1.9" stroke="#000" stroke-width="0.8"/>
<path d="M267.1,387.6 h-2.2 M267.1,384.99 h-2.2 M267.1,382.37 h-2.2 M267.1,379.76 h-2.2 M267.1,377.15 h-2.2 M267.1,374.54 h-2.2 M267.1,371.92 h-2.2 M267.1,369.31 h-2.2 M267.1,366.7 h-2.2 M267.1,364.08 h-2.2" stroke="#000" stroke-width="0.8"/>
<line x1="267.1" y1="363.3" x2="267.1" y2="387.6" stroke="#000" stroke-width="1.5"/>
<text class="c" x="267.1" y="397.4" text-anchor="middle" font-size="6.4">10</text>
<text class="c" x="270" y="394.2" font-size="6.1">0</text>
<text class="c" x="292.1" y="397.4" text-anchor="middle" font-size="6.4">10</text>
<text class="c" x="295" y="394.2" font-size="6.1">1</text>
<text class="c" x="317.1" y="397.4" text-anchor="middle" font-size="6.4">10</text>
<text class="c" x="320" y="394.2" font-size="6.1">2</text>
<text class="c" x="342.1" y="397.4" text-anchor="middle" font-size="6.4">10</text>
<text class="c" x="345" y="394.2" font-size="6.1">3</text>
<text class="c" x="367.1" y="397.4" text-anchor="middle" font-size="6.4">10</text>
<text class="c" x="370" y="394.2" font-size="6.1">4</text>
<text x="317.6" y="403.5" text-anchor="middle" font-size="6.4" class="c">CD127</text>
<text transform="translate(261.9,363.5) rotate(-90)" text-anchor="middle" font-size="5.7" class="c">50</text>
<text transform="translate(261.9,387.6) rotate(-90)" text-anchor="middle" font-size="5.7" class="c">0</text>
<text transform="translate(255.9,377.25) rotate(-90)" text-anchor="middle" font-size="7" class="c" textLength="18.4" lengthAdjust="spacingAndGlyphs">Counts</text>
<path d="M268,441.7 L268.7,441.7 L269.4,441.69 L270.1,441.67 L270.8,441.64 L271.5,441.61 L272.2,441.57 L272.9,441.52 L273.6,441.46 L274.3,441.39 L275,441.32 L275.7,441.23 L276.4,441.09 L277.1,440.69 L277.8,440.07 L278.5,439.29 L279.2,438.43 L279.9,437.52 L280.6,436.39 L281.3,435 L282,433.38 L282.7,431.37 L283.4,428.74 L284.1,425.96 L284.8,422.91 L285.5,419.99 L286.2,418.69 L286.9,417.91 L287.6,417.4 L288.3,417.1 L289,416.85 L289.7,416.66 L290.4,416.54 L291.1,416.5 L291.8,416.54 L292.5,416.65 L293.2,416.85 L293.9,417.15 L294.6,419.91 L295.3,425.03 L296,427.96 L296.7,430.3 L297.4,432.09 L298.1,433.6 L298.8,434.91 L299.5,435.99 L300.2,436.82 L300.9,437.42 L301.6,437.92 L302.3,438.34 L303,438.7 L303.7,439.02 L304.4,439.32 L305.1,439.61 L305.8,439.88 L306.5,440.11 L307.2,440.29 L307.9,440.43 L308.6,440.52 L309.3,440.6 L310,440.67 L310.7,440.74 L311.4,440.8 L312.1,440.85 L312.8,440.9 L313.5,440.94 L314.2,440.98 L314.9,441.02 L315.6,441.06 L316.3,441.1 L317,441.14 L317.7,441.18 L318.4,441.22 L319.1,441.27 L319.8,441.31 L320.5,441.36 L321.2,441.41 L321.9,441.45 L322.6,441.5 L323.3,441.54 L324,441.58 L324.7,441.62 L325.4,441.65 L326.1,441.67 L326.8,441.69 L327.5,441.7 L328.2,441.7 L328.9,441.7 L329.6,441.7 L330.3,441.7 L331,441.7 L331.7,441.7 L332.4,441.7 L333.1,441.7 L333.8,441.7 L334.5,441.7 L335.2,441.7 L335.9,441.7 L336.6,441.7 L337.3,441.7 L338,441.7 L338.7,441.7 L339.4,441.7 L340.1,441.7 L340.8,441.7 L341.5,441.7 L342.2,441.7 L342.9,441.7 L343.6,441.7 L344.3,441.7 L345,441.7 L345.7,441.7 L346.4,441.7 L347.1,441.7 L347.8,441.7 L348.5,441.7 L349.2,441.7 L349.9,441.7 L350.6,441.7 L351.3,441.7 L352,441.7 L352.7,441.7 L353.4,441.7 L354.1,441.7 L354.8,441.7 L355.5,441.7 L356.2,441.7 L356.9,441.7 L357.6,441.7 L358.3,441.7 L359,441.7 L359.7,441.7 L360.4,441.7 L361.1,441.7 L361.8,441.7 L362.5,441.7 L363.2,441.7 L363.9,441.7 L364.6,441.7 L365.3,441.7 L366,441.7 L366.7,441.7 L367.4,441.7 L368.1,441.7 L368.8,441.7 L369.5,441.7" stroke="#3a3a3a" stroke-width="0.95" fill="none" stroke-dasharray="0.9,1.5"/>
<path d="M268,441.7 L268.7,441.7 L269.4,441.68 L270.1,441.66 L270.8,441.64 L271.5,441.6 L272.2,441.56 L272.9,441.51 L273.6,441.45 L274.3,441.39 L275,441.31 L275.7,441.23 L276.4,441.12 L277.1,441.16 L277.8,440.52 L278.5,439.75 L279.2,440 L279.9,439.72 L280.6,438.75 L281.3,437.99 L282,437.25 L282.7,437.08 L283.4,436.71 L284.1,434.94 L284.8,434.18 L285.5,433.04 L286.2,432.78 L286.9,431.24 L287.6,430.04 L288.3,429.91 L289,428.16 L289.7,427.16 L290.4,426.53 L291.1,425.82 L291.8,425.38 L292.5,425.69 L293.2,426.2 L293.9,426.29 L294.6,426.55 L295.3,427.74 L296,428.11 L296.7,429.09 L297.4,429.49 L298.1,430.44 L298.8,430.14 L299.5,430.72 L300.2,430.16 L300.9,431.14 L301.6,430.52 L302.3,430.74 L303,430.73 L303.7,430.1 L304.4,430.33 L305.1,430.88 L305.8,430.2 L306.5,430.85 L307.2,430.47 L307.9,431.32 L308.6,431 L309.3,431.13 L310,431.32 L310.7,432.17 L311.4,432.95 L312.1,433.15 L312.8,433.71 L313.5,434.66 L314.2,435.64 L314.9,436.85 L315.6,437.19 L316.3,437.79 L317,438.26 L317.7,438.37 L318.4,438.71 L319.1,438.94 L319.8,439.4 L320.5,439.8 L321.2,439.8 L321.9,440.01 L322.6,440.58 L323.3,440.35 L324,440.89 L324.7,441.11 L325.4,440.88 L326.1,440.94 L326.8,440.62 L327.5,441 L328.2,440.96 L328.9,441.02 L329.6,441.07 L330.3,441.12 L331,441.16 L331.7,441.21 L332.4,441.25 L333.1,441.28 L333.8,441.32 L334.5,441.35 L335.2,441.37 L335.9,441.4 L336.6,441.42 L337.3,441.44 L338,441.45 L338.7,441.46 L339.4,441.47 L340.1,441.48 L340.8,441.49 L341.5,441.5 L342.2,441.51 L342.9,441.52 L343.6,441.53 L344.3,441.54 L345,441.55 L345.7,441.56 L346.4,441.56 L347.1,441.57 L347.8,441.58 L348.5,441.59 L349.2,441.59 L349.9,441.6 L350.6,441.61 L351.3,441.61 L352,441.62 L352.7,441.63 L353.4,441.63 L354.1,441.64 L354.8,441.64 L355.5,441.65 L356.2,441.65 L356.9,441.66 L357.6,441.66 L358.3,441.67 L359,441.67 L359.7,441.68 L360.4,441.68 L361.1,441.68 L361.8,441.68 L362.5,441.69 L363.2,441.69 L363.9,441.69 L364.6,441.69 L365.3,441.7 L366,441.7 L366.7,441.7 L367.4,441.7 L368.1,441.7 L368.8,441.7 L369.5,441.7" stroke="#2a2a2a" stroke-width="0.95" fill="none"/>
<path d="M268,440.94 L268.7,440.94 L269.4,440.94 L270.1,440.94 L270.8,440.94 L271.5,440.94 L272.2,440.94 L272.9,440.94 L273.6,440.94 L274.3,440.94 L275,440.94 L275.7,440.94 L276.4,440.94 L277.1,440.94 L277.8,440.94 L278.5,440.4 L279.2,440.9 L279.9,440.54 L280.6,439.94 L281.3,439.19 L282,439.28 L282.7,439.07 L283.4,438.64 L284.1,437.75 L284.8,437.42 L285.5,435.91 L286.2,435.6 L286.9,436.26 L287.6,434.83 L288.3,433.61 L289,432.12 L289.7,432.5 L290.4,431.06 L291.1,429.61 L291.8,429.14 L292.5,427.79 L293.2,426.89 L293.9,425.6 L294.6,425.31 L295.3,424.57 L296,425.71 L296.7,425.97 L297.4,426.38 L298.1,426.39 L298.8,426.04 L299.5,425.73 L300.2,425.69 L300.9,425.53 L301.6,425.5 L302.3,425.68 L303,425.91 L303.7,425.93 L304.4,426.04 L305.1,425.87 L305.8,426.09 L306.5,425.77 L307.2,426.74 L307.9,427.08 L308.6,427.75 L309.3,428.04 L310,428.73 L310.7,429.43 L311.4,429.8 L312.1,430.18 L312.8,431.88 L313.5,433.33 L314.2,434.43 L314.9,435.26 L315.6,435.71 L316.3,436.92 L317,437.21 L317.7,437.72 L318.4,438.01 L319.1,438.11 L319.8,438.5 L320.5,438.21 L321.2,438.19 L321.9,438.84 L322.6,439.06 L323.3,438.61 L324,439.23 L324.7,438.87 L325.4,440.34 L326.1,439.65 L326.8,440.04 L327.5,440.03 L328.2,439.76 L328.9,439.81 L329.6,440.33 L330.3,440.13 L331,440.89 L331.7,440.59 L332.4,440.83 L333.1,441.39 L333.8,440.94 L334.5,441 L335.2,441.06 L335.9,441.11 L336.6,441.16 L337.3,441.21 L338,441.25 L338.7,441.29 L339.4,441.33 L340.1,441.36 L340.8,441.39 L341.5,441.41 L342.2,441.43 L342.9,441.45 L343.6,441.46 L344.3,441.47 L345,441.48 L345.7,441.5 L346.4,441.51 L347.1,441.52 L347.8,441.53 L348.5,441.54 L349.2,441.55 L349.9,441.56 L350.6,441.57 L351.3,441.58 L352,441.59 L352.7,441.6 L353.4,441.6 L354.1,441.61 L354.8,441.62 L355.5,441.63 L356.2,441.63 L356.9,441.64 L357.6,441.65 L358.3,441.65 L359,441.66 L359.7,441.66 L360.4,441.67 L361.1,441.67 L361.8,441.68 L362.5,441.68 L363.2,441.68 L363.9,441.69 L364.6,441.69 L365.3,441.69 L366,441.7 L366.7,441.7 L367.4,441.7 L368.1,441.7 L368.8,441.7 L369.5,441.7" stroke="#000" stroke-width="1.7" fill="none" stroke-linejoin="round"/>
<path d="M267.1,441.7 V416.5 H368.6 V441.7" stroke="#222" stroke-width="1" fill="none"/>
<line x1="266.6" y1="441.7" x2="369" y2="441.7" stroke="#000" stroke-width="1.4"/>
<path d="M267.1,441.7 v1.9 M270.67,441.7 v1.9 M274.24,441.7 v1.9 M277.81,441.7 v1.9 M281.39,441.7 v1.9 M284.96,441.7 v1.9 M288.53,441.7 v1.9 M292.1,441.7 v1.9 M295.67,441.7 v1.9 M299.24,441.7 v1.9 M302.81,441.7 v1.9 M306.39,441.7 v1.9 M309.96,441.7 v1.9 M313.53,441.7 v1.9 M317.1,441.7 v1.9 M320.67,441.7 v1.9 M324.24,441.7 v1.9 M327.81,441.7 v1.9 M331.39,441.7 v1.9 M334.96,441.7 v1.9 M338.53,441.7 v1.9 M342.1,441.7 v1.9 M345.67,441.7 v1.9 M349.24,441.7 v1.9 M352.81,441.7 v1.9 M356.39,441.7 v1.9 M359.96,441.7 v1.9 M363.53,441.7 v1.9 M367.1,441.7 v1.9" stroke="#000" stroke-width="0.8"/>
<path d="M267.1,441.7 h-2.2 M267.1,438.99 h-2.2 M267.1,436.28 h-2.2 M267.1,433.57 h-2.2 M267.1,430.86 h-2.2 M267.1,428.15 h-2.2 M267.1,425.44 h-2.2 M267.1,422.73 h-2.2 M267.1,420.02 h-2.2 M267.1,417.31 h-2.2" stroke="#000" stroke-width="0.8"/>
<line x1="267.1" y1="416.5" x2="267.1" y2="441.7" stroke="#000" stroke-width="1.5"/>
<text class="c" x="267.1" y="451.5" text-anchor="middle" font-size="6.4">10</text>
<text class="c" x="270" y="448.3" font-size="6.1">0</text>
<text class="c" x="292.1" y="451.5" text-anchor="middle" font-size="6.4">10</text>
<text class="c" x="295" y="448.3" font-size="6.1">1</text>
<text class="c" x="317.1" y="451.5" text-anchor="middle" font-size="6.4">10</text>
<text class="c" x="320" y="448.3" font-size="6.1">2</text>
<text class="c" x="342.1" y="451.5" text-anchor="middle" font-size="6.4">10</text>
<text class="c" x="345" y="448.3" font-size="6.1">3</text>
<text class="c" x="367.1" y="451.5" text-anchor="middle" font-size="6.4">10</text>
<text class="c" x="370" y="448.3" font-size="6.1">4</text>
<text x="317.6" y="457.6" text-anchor="middle" font-size="6.4" class="c">GRAN. B</text>
<text transform="translate(261.9,416.7) rotate(-90)" text-anchor="middle" font-size="5.7" class="c">70</text>
<text transform="translate(261.9,441.7) rotate(-90)" text-anchor="middle" font-size="5.7" class="c">0</text>
<text transform="translate(255.9,430.9) rotate(-90)" text-anchor="middle" font-size="7" class="c" textLength="18.4" lengthAdjust="spacingAndGlyphs">Counts</text>
<path d="M412.3,63.72 L413,63.56 L413.7,63.24 L414.4,62.81 L415.1,62.29 L415.8,61.7 L416.5,61.06 L417.2,60.14 L417.9,58.99 L418.6,57.79 L419.3,56.72 L420,55.84 L420.7,55.02 L421.4,54.24 L422.1,53.49 L422.8,52.76 L423.5,52.02 L424.2,51.24 L424.9,50.43 L425.6,49.67 L426.3,49.01 L427,48.52 L427.7,48.05 L428.4,47.64 L429.1,47.35 L429.8,47.24 L430.5,47.46 L431.2,48.04 L431.9,48.86 L432.6,49.79 L433.3,50.81 L434,52.24 L434.7,53.87 L435.4,55.41 L436.1,56.68 L436.8,57.85 L437.5,59.06 L438.2,60.51 L438.9,62.47 L439.6,64.1 L440.3,65.49 L441,66.65 L441.7,67.54 L442.4,68.35 L443.1,69.04 L443.8,69.58 L444.5,69.96 L445.2,70.29 L445.9,70.58 L446.6,70.82 L447.3,71 L448,71.09 L448.7,71.1 L449.4,71.1 L450.1,71.1 L450.8,71.1 L451.5,71.1 L452.2,71.1 L452.9,71.1 L453.6,71.1 L454.3,71.1 L455,71.1 L455.7,71.1 L456.4,71.1 L457.1,71.1 L457.8,71.1 L458.5,71.1 L459.2,71.1 L459.9,71.1 L460.6,71.1 L461.3,71.1 L462,71.1 L462.7,71.1 L463.4,71.1 L464.1,71.1 L464.8,71.1 L465.5,71.1 L466.2,71.1 L466.9,71.1 L467.6,71.1 L468.3,71.1 L469,71.1 L469.7,71.1 L470.4,71.1 L471.1,71.1 L471.8,71.1 L472.5,71.1 L473.2,71.1 L473.9,71.1 L474.6,71.1 L475.3,71.1 L476,71.1 L476.7,71.1 L477.4,71.1 L478.1,71.1 L478.8,71.1 L479.5,71.1 L480.2,71.1 L480.9,71.1 L481.6,71.1 L482.3,71.1 L483,71.1 L483.7,71.1 L484.4,71.1 L485.1,71.1 L485.8,71.1 L486.5,71.1 L487.2,71.1 L487.9,71.1 L488.6,71.1 L489.3,71.1 L490,71.1 L490.7,71.1 L491.4,71.1 L492.1,71.1 L492.8,71.1 L493.5,71.1 L494.2,71.1 L494.9,71.1 L495.6,71.1 L496.3,71.1 L497,71.1 L497.7,71.1 L498.4,71.1 L499.1,71.1 L499.8,71.1 L500.5,71.1 L501.2,71.1 L501.9,71.1 L502.6,71.1 L503.3,71.1 L504,71.1 L504.7,71.1 L505.4,71.1 L506.1,71.1 L506.8,71.1 L507.5,71.1 L508.2,71.1 L508.9,71.1 L509.6,71.1 L510.3,71.1 L511,71.1 L511.7,71.1 L512.4,71.1 L513.1,71.1 L513.8,71.1" stroke="#3a3a3a" stroke-width="0.95" fill="none" stroke-dasharray="0.9,1.5"/>
<path d="M412.3,70.61 L413,70.61 L413.7,70.61 L414.4,70.61 L415.1,70.61 L415.8,70.61 L416.5,70.61 L417.2,70.61 L417.9,70.61 L418.6,70.61 L419.3,70.61 L420,70.61 L420.7,70.61 L421.4,70.61 L422.1,70.61 L422.8,70.61 L423.5,70.61 L424.2,70.61 L424.9,70.61 L425.6,70.61 L426.3,70.61 L427,70.61 L427.7,70.61 L428.4,70.61 L429.1,70.61 L429.8,70.61 L430.5,70.61 L431.2,70.61 L431.9,70.61 L432.6,70.61 L433.3,70.6 L434,70.58 L434.7,70.55 L435.4,70.52 L436.1,70.47 L436.8,70.41 L437.5,70.37 L438.2,69.67 L438.9,69.42 L439.6,69.18 L440.3,68.85 L441,69.41 L441.7,68.26 L442.4,68.08 L443.1,67.76 L443.8,68.78 L444.5,68.28 L445.2,68.08 L445.9,67.3 L446.6,67.52 L447.3,67.06 L448,67.36 L448.7,67.62 L449.4,67.79 L450.1,67.61 L450.8,67.15 L451.5,68 L452.2,68.49 L452.9,68.1 L453.6,67.96 L454.3,67.81 L455,68.35 L455.7,68.62 L456.4,69.57 L457.1,69.23 L457.8,69.22 L458.5,69.01 L459.2,69.24 L459.9,68.63 L460.6,68.28 L461.3,68.27 L462,67.97 L462.7,67.37 L463.4,66.87 L464.1,66.36 L464.8,66.56 L465.5,65.61 L466.2,65.77 L466.9,65.59 L467.6,65.12 L468.3,65.35 L469,64.74 L469.7,64.25 L470.4,64.65 L471.1,64.62 L471.8,64.74 L472.5,64.09 L473.2,64.14 L473.9,64.9 L474.6,64.19 L475.3,64.77 L476,65.09 L476.7,64.97 L477.4,65.38 L478.1,65.1 L478.8,66.06 L479.5,66.35 L480.2,66.61 L480.9,66.76 L481.6,66.96 L482.3,67.85 L483,68.1 L483.7,68.65 L484.4,68.5 L485.1,68.99 L485.8,68.27 L486.5,68.55 L487.2,69.59 L487.9,69.46 L488.6,69.55 L489.3,70.01 L490,70.14 L490.7,70 L491.4,70.42 L492.1,70.47 L492.8,70.57 L493.5,70.65 L494.2,70.72 L494.9,70.79 L495.6,70.86 L496.3,70.92 L497,70.97 L497.7,71.02 L498.4,71.05 L499.1,71.08 L499.8,71.1 L500.5,71.1 L501.2,71.1 L501.9,71.1 L502.6,71.1 L503.3,71.1 L504,71.1 L504.7,71.1 L505.4,71.1 L506.1,71.1 L506.8,71.1 L507.5,71.1 L508.2,71.1 L508.9,71.1 L509.6,71.1 L510.3,71.1 L511,71.1 L511.7,71.1 L512.4,71.1 L513.1,71.1 L513.8,71.1" stroke="#2a2a2a" stroke-width="0.95" fill="none"/>
<path d="M412.3,68.43 L413,67.91 L413.7,68.44 L414.4,69.53 L415.1,70.39 L415.8,70.44 L416.5,70.48 L417.2,70.51 L417.9,70.54 L418.6,70.56 L419.3,70.58 L420,70.59 L420.7,70.6 L421.4,70.61 L422.1,70.61 L422.8,70.61 L423.5,70.61 L424.2,70.61 L424.9,70.61 L425.6,70.61 L426.3,70.61 L427,70.61 L427.7,70.61 L428.4,70.61 L429.1,70.61 L429.8,70.61 L430.5,70.6 L431.2,70.48 L431.9,70.35 L432.6,70.12 L433.3,69.74 L434,69.56 L434.7,69.15 L435.4,68.72 L436.1,68.02 L436.8,68.85 L437.5,68.51 L438.2,67.84 L438.9,67.53 L439.6,67.25 L440.3,66.35 L441,67.09 L441.7,66.25 L442.4,66.23 L443.1,65.62 L443.8,65.05 L444.5,65.26 L445.2,64.2 L445.9,64.52 L446.6,64.53 L447.3,64.87 L448,64.89 L448.7,65.27 L449.4,65.15 L450.1,66.17 L450.8,65.97 L451.5,66.12 L452.2,66.78 L452.9,66.82 L453.6,67.57 L454.3,67.56 L455,68.1 L455.7,67.68 L456.4,68.71 L457.1,68.99 L457.8,69.01 L458.5,69.49 L459.2,69.59 L459.9,69.61 L460.6,69.61 L461.3,70.18 L462,70.1 L462.7,70.26 L463.4,70.09 L464.1,70.37 L464.8,70.45 L465.5,70.51 L466.2,70.56 L466.9,70.59 L467.6,70.62 L468.3,70.64 L469,70.66 L469.7,70.67 L470.4,70.69 L471.1,70.71 L471.8,70.72 L472.5,70.73 L473.2,70.74 L473.9,70.76 L474.6,70.77 L475.3,70.78 L476,70.79 L476.7,70.79 L477.4,70.8 L478.1,70.81 L478.8,70.82 L479.5,70.82 L480.2,70.83 L480.9,70.84 L481.6,70.85 L482.3,70.85 L483,70.86 L483.7,70.87 L484.4,70.88 L485.1,70.88 L485.8,70.89 L486.5,70.9 L487.2,70.91 L487.9,70.91 L488.6,70.92 L489.3,70.93 L490,70.94 L490.7,70.94 L491.4,70.95 L492.1,70.96 L492.8,70.96 L493.5,70.97 L494.2,70.98 L494.9,70.98 L495.6,70.99 L496.3,71 L497,71 L497.7,71.01 L498.4,71.02 L499.1,71.02 L499.8,71.03 L500.5,71.03 L501.2,71.04 L501.9,71.04 L502.6,71.05 L503.3,71.05 L504,71.06 L504.7,71.06 L505.4,71.07 L506.1,71.07 L506.8,71.07 L507.5,71.08 L508.2,71.08 L508.9,71.08 L509.6,71.09 L510.3,71.09 L511,71.09 L511.7,71.09 L512.4,71.1 L513.1,71.1 L513.8,71.1" stroke="#000" stroke-width="1.7" fill="none" stroke-linejoin="round"/>
<path d="M411.3,71.1 V67.9 H413.9 L414.3,71.1 Z" fill="#000"/>
<path d="M411.7,71.1 V46.5 H513.2" stroke="#222" stroke-width="1" fill="none"/>
<line x1="411.2" y1="71.1" x2="513.6" y2="71.1" stroke="#000" stroke-width="1.4"/>
<path d="M411.7,71.1 v1.9 M415.27,71.1 v1.9 M418.84,71.1 v1.9 M422.41,71.1 v1.9 M425.99,71.1 v1.9 M429.56,71.1 v1.9 M433.13,71.1 v1.9 M436.7,71.1 v1.9 M440.27,71.1 v1.9 M443.84,71.1 v1.9 M447.41,71.1 v1.9 M450.99,71.1 v1.9 M454.56,71.1 v1.9 M458.13,71.1 v1.9 M461.7,71.1 v1.9 M465.27,71.1 v1.9 M468.84,71.1 v1.9 M472.41,71.1 v1.9 M475.99,71.1 v1.9 M479.56,71.1 v1.9 M483.13,71.1 v1.9 M486.7,71.1 v1.9 M490.27,71.1 v1.9 M493.84,71.1 v1.9 M497.41,71.1 v1.9 M500.99,71.1 v1.9 M504.56,71.1 v1.9 M508.13,71.1 v1.9 M511.7,71.1 v1.9" stroke="#000" stroke-width="0.8"/>
<path d="M411.7,71.1 h-2.2 M411.7,68.45 h-2.2 M411.7,65.81 h-2.2 M411.7,63.16 h-2.2 M411.7,60.52 h-2.2 M411.7,57.87 h-2.2 M411.7,55.23 h-2.2 M411.7,52.58 h-2.2 M411.7,49.94 h-2.2 M411.7,47.29 h-2.2" stroke="#000" stroke-width="0.8"/>
<line x1="411.7" y1="46.5" x2="411.7" y2="71.1" stroke="#000" stroke-width="1.5"/>
<text class="c" x="411.7" y="80.9" text-anchor="middle" font-size="6.4">10</text>
<text class="c" x="414.6" y="77.7" font-size="6.1">0</text>
<text class="c" x="436.7" y="80.9" text-anchor="middle" font-size="6.4">10</text>
<text class="c" x="439.6" y="77.7" font-size="6.1">1</text>
<text class="c" x="461.7" y="80.9" text-anchor="middle" font-size="6.4">10</text>
<text class="c" x="464.6" y="77.7" font-size="6.1">2</text>
<text class="c" x="486.7" y="80.9" text-anchor="middle" font-size="6.4">10</text>
<text class="c" x="489.6" y="77.7" font-size="6.1">3</text>
<text class="c" x="511.7" y="80.9" text-anchor="middle" font-size="6.4">10</text>
<text class="c" x="514.6" y="77.7" font-size="6.1">4</text>
<text x="462.2" y="87" text-anchor="middle" font-size="6.4" class="c">ICOS</text>
<text transform="translate(406.5,46.7) rotate(-90)" text-anchor="middle" font-size="5.7" class="c">200</text>
<text transform="translate(406.5,71.1) rotate(-90)" text-anchor="middle" font-size="5.7" class="c">0</text>
<text transform="translate(400.5,60.6) rotate(-90)" text-anchor="middle" font-size="7" class="c" textLength="18.4" lengthAdjust="spacingAndGlyphs">Counts</text>
<path d="M412.3,112.04 L413,111.85 L413.7,111.64 L414.4,111.4 L415.1,111.14 L415.8,110.88 L416.5,110.61 L417.2,110.3 L417.9,109.93 L418.6,109.45 L419.3,108.66 L420,107.64 L420.7,106.56 L421.4,105.59 L422.1,104.8 L422.8,104.08 L423.5,103.39 L424.2,102.71 L424.9,101.96 L425.6,101.03 L426.3,100.16 L427,99.65 L427.7,99.62 L428.4,99.62 L429.1,99.62 L429.8,99.62 L430.5,99.62 L431.2,99.72 L431.9,100.26 L432.6,101.15 L433.3,102.21 L434,103.28 L434.7,104.47 L435.4,105.89 L436.1,107.38 L436.8,108.77 L437.5,110.1 L438.2,111.41 L438.9,112.71 L439.6,114.02 L440.3,115.38 L441,116.61 L441.7,117.63 L442.4,118.55 L443.1,119.23 L443.8,119.6 L444.5,119.91 L445.2,120.18 L445.9,120.39 L446.6,120.52 L447.3,120.56 L448,120.56 L448.7,120.56 L449.4,120.56 L450.1,120.56 L450.8,120.56 L451.5,120.56 L452.2,120.56 L452.9,120.58 L453.6,120.64 L454.3,120.73 L455,120.85 L455.7,120.98 L456.4,121.12 L457.1,121.26 L457.8,121.4 L458.5,121.57 L459.2,121.76 L459.9,121.96 L460.6,122.15 L461.3,122.33 L462,122.47 L462.7,122.57 L463.4,122.67 L464.1,122.76 L464.8,122.84 L465.5,122.91 L466.2,122.97 L466.9,123 L467.6,123 L468.3,123 L469,123 L469.7,123 L470.4,123 L471.1,123 L471.8,123 L472.5,123 L473.2,123 L473.9,123 L474.6,123 L475.3,123 L476,123 L476.7,123 L477.4,123 L478.1,123 L478.8,123 L479.5,123 L480.2,123 L480.9,123 L481.6,123 L482.3,123 L483,123 L483.7,123 L484.4,123 L485.1,123 L485.8,123 L486.5,123 L487.2,123 L487.9,123 L488.6,123 L489.3,123 L490,123 L490.7,123 L491.4,123 L492.1,123 L492.8,123 L493.5,123 L494.2,123 L494.9,123 L495.6,123 L496.3,123 L497,123 L497.7,123 L498.4,123 L499.1,123 L499.8,123 L500.5,123 L501.2,123 L501.9,123 L502.6,123 L503.3,123 L504,123 L504.7,123 L505.4,123 L506.1,123 L506.8,123 L507.5,123 L508.2,123 L508.9,123 L509.6,123 L510.3,123 L511,123 L511.7,123 L512.4,123 L513.1,123 L513.8,123" stroke="#3a3a3a" stroke-width="0.95" fill="none" stroke-dasharray="0.9,1.5"/>
<path d="M412.3,121.53 L413,121.78 L413.7,121.19 L414.4,120.86 L415.1,120.77 L415.8,120.82 L416.5,120.71 L417.2,119.71 L417.9,120.13 L418.6,119.87 L419.3,120.27 L420,119.49 L420.7,119.46 L421.4,119.63 L422.1,118.84 L422.8,119.06 L423.5,118.7 L424.2,118.58 L424.9,118.74 L425.6,118.28 L426.3,117.78 L427,118.32 L427.7,118.09 L428.4,117.81 L429.1,117.06 L429.8,117.06 L430.5,116.42 L431.2,115.71 L431.9,115.9 L432.6,114.66 L433.3,114.63 L434,114.29 L434.7,113.38 L435.4,113.25 L436.1,113.34 L436.8,112.62 L437.5,112.58 L438.2,112.21 L438.9,112.42 L439.6,112.39 L440.3,112.01 L441,112.78 L441.7,112.2 L442.4,112.35 L443.1,111.91 L443.8,112.14 L444.5,111.06 L445.2,110.33 L445.9,109.36 L446.6,109.91 L447.3,109.59 L448,109.06 L448.7,108.64 L449.4,108.62 L450.1,108.03 L450.8,108.06 L451.5,106.61 L452.2,106.8 L452.9,106.43 L453.6,105.84 L454.3,107.81 L455,109.45 L455.7,110.72 L456.4,110.92 L457.1,112.37 L457.8,113.49 L458.5,114.33 L459.2,115.42 L459.9,116.13 L460.6,117.16 L461.3,118.17 L462,118.98 L462.7,120.07 L463.4,120.74 L464.1,120.73 L464.8,121.11 L465.5,121.54 L466.2,121.76 L466.9,121.89 L467.6,122.29 L468.3,122.48 L469,122.63 L469.7,122.72 L470.4,122.76 L471.1,122.77 L471.8,122.78 L472.5,122.79 L473.2,122.8 L473.9,122.81 L474.6,122.81 L475.3,122.82 L476,122.83 L476.7,122.84 L477.4,122.85 L478.1,122.85 L478.8,122.86 L479.5,122.87 L480.2,122.88 L480.9,122.88 L481.6,122.89 L482.3,122.89 L483,122.9 L483.7,122.91 L484.4,122.91 L485.1,122.92 L485.8,122.92 L486.5,122.93 L487.2,122.93 L487.9,122.94 L488.6,122.94 L489.3,122.94 L490,122.95 L490.7,122.95 L491.4,122.96 L492.1,122.96 L492.8,122.96 L493.5,122.97 L494.2,122.97 L494.9,122.97 L495.6,122.97 L496.3,122.98 L497,122.98 L497.7,122.98 L498.4,122.98 L499.1,122.98 L499.8,122.99 L500.5,122.99 L501.2,122.99 L501.9,122.99 L502.6,122.99 L503.3,122.99 L504,122.99 L504.7,122.99 L505.4,123 L506.1,123 L506.8,123 L507.5,123 L508.2,123 L508.9,123 L509.6,123 L510.3,123 L511,123 L511.7,123 L512.4,123 L513.1,123 L513.8,123" stroke="#2a2a2a" stroke-width="0.95" fill="none"/>
<path d="M412.3,123 L413,123 L413.7,123 L414.4,123 L415.1,123 L415.8,123 L416.5,123 L417.2,123 L417.9,123 L418.6,123 L419.3,123 L420,122.99 L420.7,122.99 L421.4,122.99 L422.1,122.99 L422.8,122.99 L423.5,122.99 L424.2,122.98 L424.9,122.98 L425.6,122.98 L426.3,122.97 L427,122.97 L427.7,122.97 L428.4,122.96 L429.1,122.96 L429.8,122.96 L430.5,122.95 L431.2,122.95 L431.9,122.94 L432.6,122.94 L433.3,122.93 L434,122.92 L434.7,122.92 L435.4,122.91 L436.1,122.9 L436.8,122.9 L437.5,122.89 L438.2,122.88 L438.9,122.87 L439.6,122.86 L440.3,122.85 L441,122.84 L441.7,122.83 L442.4,122.82 L443.1,122.81 L443.8,122.8 L444.5,122.79 L445.2,122.78 L445.9,122.76 L446.6,122.75 L447.3,122.74 L448,122.72 L448.7,122.71 L449.4,122.69 L450.1,122.68 L450.8,122.66 L451.5,122.64 L452.2,122.63 L452.9,122.61 L453.6,122.59 L454.3,122.57 L455,122.55 L455.7,122.53 L456.4,122.51 L457.1,122.35 L457.8,122.21 L458.5,121.21 L459.2,121.41 L459.9,120.98 L460.6,120.26 L461.3,119.43 L462,117.94 L462.7,117.37 L463.4,116.12 L464.1,114.32 L464.8,113.19 L465.5,112.15 L466.2,111.51 L466.9,110.89 L467.6,110 L468.3,109.85 L469,111.01 L469.7,111.68 L470.4,113.39 L471.1,113.19 L471.8,115.2 L472.5,117.02 L473.2,117.61 L473.9,118.76 L474.6,119.33 L475.3,119.67 L476,121.11 L476.7,121.29 L477.4,121.83 L478.1,122.22 L478.8,122.27 L479.5,122.48 L480.2,122.68 L480.9,122.84 L481.6,122.96 L482.3,123 L483,123 L483.7,123 L484.4,123 L485.1,123 L485.8,123 L486.5,123 L487.2,123 L487.9,123 L488.6,123 L489.3,123 L490,123 L490.7,123 L491.4,123 L492.1,123 L492.8,123 L493.5,123 L494.2,123 L494.9,123 L495.6,123 L496.3,123 L497,123 L497.7,123 L498.4,123 L499.1,123 L499.8,123 L500.5,123 L501.2,123 L501.9,123 L502.6,123 L503.3,123 L504,123 L504.7,123 L505.4,123 L506.1,123 L506.8,123 L507.5,123 L508.2,123 L508.9,123 L509.6,123 L510.3,123 L511,123 L511.7,123 L512.4,123 L513.1,123 L513.8,123" stroke="#000" stroke-width="0.85" fill="none"/>
<path d="M412.3,122.27 L413,122.27 L413.7,122.27 L414.4,122.27 L415.1,122.27 L415.8,122.28 L416.5,122.3 L417.2,122.33 L417.9,122.36 L418.6,122.4 L419.3,122.43 L420,122.46 L420.7,122.49 L421.4,122.5 L422.1,122.51 L422.8,122.51 L423.5,122.51 L424.2,122.51 L424.9,122.51 L425.6,122.51 L426.3,122.51 L427,122.51 L427.7,122.51 L428.4,122.51 L429.1,122.51 L429.8,122.51 L430.5,122.51 L431.2,122.51 L431.9,122.51 L432.6,122.51 L433.3,122.51 L434,122.51 L434.7,122.51 L435.4,122.51 L436.1,122.51 L436.8,122.51 L437.5,122.51 L438.2,122.51 L438.9,122.51 L439.6,122.51 L440.3,122.51 L441,122.51 L441.7,122.51 L442.4,122.51 L443.1,122.51 L443.8,122.51 L444.5,122.51 L445.2,122.51 L445.9,122.51 L446.6,122.51 L447.3,122.51 L448,122.51 L448.7,122.51 L449.4,122.51 L450.1,122.51 L450.8,122.48 L451.5,122.36 L452.2,122.22 L452.9,121.86 L453.6,121.12 L454.3,121.24 L455,120.81 L455.7,119.56 L456.4,118.58 L457.1,117.41 L457.8,116.97 L458.5,115.44 L459.2,114.77 L459.9,114.09 L460.6,113.47 L461.3,112.67 L462,112.56 L462.7,112.74 L463.4,112.9 L464.1,114.44 L464.8,115.66 L465.5,116.48 L466.2,117.33 L466.9,118.36 L467.6,118.25 L468.3,118.68 L469,120.01 L469.7,120.08 L470.4,120.98 L471.1,121.28 L471.8,121.87 L472.5,121.61 L473.2,121.44 L473.9,121.61 L474.6,121.99 L475.3,122.31 L476,122.46 L476.7,122.6 L477.4,122.7 L478.1,122.75 L478.8,122.77 L479.5,122.78 L480.2,122.79 L480.9,122.8 L481.6,122.81 L482.3,122.82 L483,122.83 L483.7,122.84 L484.4,122.85 L485.1,122.86 L485.8,122.87 L486.5,122.87 L487.2,122.88 L487.9,122.89 L488.6,122.9 L489.3,122.9 L490,122.91 L490.7,122.92 L491.4,122.92 L492.1,122.93 L492.8,122.93 L493.5,122.94 L494.2,122.94 L494.9,122.95 L495.6,122.95 L496.3,122.96 L497,122.96 L497.7,122.96 L498.4,122.97 L499.1,122.97 L499.8,122.97 L500.5,122.98 L501.2,122.98 L501.9,122.98 L502.6,122.98 L503.3,122.99 L504,122.99 L504.7,122.99 L505.4,122.99 L506.1,122.99 L506.8,122.99 L507.5,123 L508.2,123 L508.9,123 L509.6,123 L510.3,123 L511,123 L511.7,123 L512.4,123 L513.1,123 L513.8,123" stroke="#000" stroke-width="1.7" fill="none" stroke-linejoin="round"/>
<path d="M411.3,123 V116.91 H413.7 L414.1,123 Z" fill="#000"/>
<path d="M411.7,123 V98.65 H513.2 V123" stroke="#222" stroke-width="1" fill="none"/>
<line x1="411.2" y1="123" x2="513.6" y2="123" stroke="#000" stroke-width="1.4"/>
<path d="M411.7,123 v1.9 M415.27,123 v1.9 M418.84,123 v1.9 M422.41,123 v1.9 M425.99,123 v1.9 M429.56,123 v1.9 M433.13,123 v1.9 M436.7,123 v1.9 M440.27,123 v1.9 M443.84,123 v1.9 M447.41,123 v1.9 M450.99,123 v1.9 M454.56,123 v1.9 M458.13,123 v1.9 M461.7,123 v1.9 M465.27,123 v1.9 M468.84,123 v1.9 M472.41,123 v1.9 M475.99,123 v1.9 M479.56,123 v1.9 M483.13,123 v1.9 M486.7,123 v1.9 M490.27,123 v1.9 M493.84,123 v1.9 M497.41,123 v1.9 M500.99,123 v1.9 M504.56,123 v1.9 M508.13,123 v1.9 M511.7,123 v1.9" stroke="#000" stroke-width="0.8"/>
<path d="M411.7,123 h-2.2 M411.7,120.38 h-2.2 M411.7,117.76 h-2.2 M411.7,115.15 h-2.2 M411.7,112.53 h-2.2 M411.7,109.91 h-2.2 M411.7,107.29 h-2.2 M411.7,104.67 h-2.2 M411.7,102.05 h-2.2 M411.7,99.44 h-2.2" stroke="#000" stroke-width="0.8"/>
<line x1="411.7" y1="98.65" x2="411.7" y2="123" stroke="#000" stroke-width="1.5"/>
<text class="c" x="411.7" y="132.8" text-anchor="middle" font-size="6.4">10</text>
<text class="c" x="414.6" y="129.6" font-size="6.1">0</text>
<text class="c" x="436.7" y="132.8" text-anchor="middle" font-size="6.4">10</text>
<text class="c" x="439.6" y="129.6" font-size="6.1">1</text>
<text class="c" x="461.7" y="132.8" text-anchor="middle" font-size="6.4">10</text>
<text class="c" x="464.6" y="129.6" font-size="6.1">2</text>
<text class="c" x="486.7" y="132.8" text-anchor="middle" font-size="6.4">10</text>
<text class="c" x="489.6" y="129.6" font-size="6.1">3</text>
<text class="c" x="511.7" y="132.8" text-anchor="middle" font-size="6.4">10</text>
<text class="c" x="514.6" y="129.6" font-size="6.1">4</text>
<text x="462.2" y="138.9" text-anchor="middle" font-size="6.4" class="c">CD28</text>
<text transform="translate(406.5,98.85) rotate(-90)" text-anchor="middle" font-size="5.7" class="c">200</text>
<text transform="translate(406.5,123) rotate(-90)" text-anchor="middle" font-size="5.7" class="c">0</text>
<text transform="translate(400.5,112.62) rotate(-90)" text-anchor="middle" font-size="7" class="c" textLength="18.4" lengthAdjust="spacingAndGlyphs">Counts</text>
<path d="M412.3,167.16 L413,166.78 L413.7,166.35 L414.4,165.86 L415.1,165.33 L415.8,164.73 L416.5,164.01 L417.2,163.24 L417.9,162.54 L418.6,161.97 L419.3,161.44 L420,160.95 L420.7,160.5 L421.4,160.11 L422.1,159.79 L422.8,159.54 L423.5,159.3 L424.2,159.08 L424.9,158.89 L425.6,158.77 L426.3,158.73 L427,158.76 L427.7,158.85 L428.4,158.99 L429.1,159.17 L429.8,159.47 L430.5,160.08 L431.2,160.88 L431.9,161.74 L432.6,162.54 L433.3,163.41 L434,164.34 L434.7,165.27 L435.4,166.16 L436.1,166.96 L436.8,167.65 L437.5,168.32 L438.2,168.95 L438.9,169.53 L439.6,170.01 L440.3,170.38 L441,170.68 L441.7,170.94 L442.4,171.18 L443.1,171.4 L443.8,171.59 L444.5,171.76 L445.2,171.91 L445.9,172.05 L446.6,172.17 L447.3,172.28 L448,172.39 L448.7,172.49 L449.4,172.59 L450.1,172.68 L450.8,172.76 L451.5,172.84 L452.2,172.92 L452.9,172.99 L453.6,173.06 L454.3,173.12 L455,173.18 L455.7,173.24 L456.4,173.29 L457.1,173.35 L457.8,173.39 L458.5,173.44 L459.2,173.49 L459.9,173.54 L460.6,173.58 L461.3,173.63 L462,173.67 L462.7,173.71 L463.4,173.75 L464.1,173.79 L464.8,173.82 L465.5,173.86 L466.2,173.89 L466.9,173.92 L467.6,173.95 L468.3,173.98 L469,174.01 L469.7,174.03 L470.4,174.06 L471.1,174.08 L471.8,174.09 L472.5,174.11 L473.2,174.12 L473.9,174.14 L474.6,174.15 L475.3,174.17 L476,174.18 L476.7,174.19 L477.4,174.21 L478.1,174.22 L478.8,174.24 L479.5,174.25 L480.2,174.26 L480.9,174.27 L481.6,174.29 L482.3,174.3 L483,174.31 L483.7,174.32 L484.4,174.34 L485.1,174.35 L485.8,174.36 L486.5,174.37 L487.2,174.38 L487.9,174.39 L488.6,174.4 L489.3,174.41 L490,174.42 L490.7,174.43 L491.4,174.44 L492.1,174.45 L492.8,174.46 L493.5,174.47 L494.2,174.48 L494.9,174.48 L495.6,174.49 L496.3,174.5 L497,174.51 L497.7,174.52 L498.4,174.52 L499.1,174.53 L499.8,174.54 L500.5,174.54 L501.2,174.55 L501.9,174.55 L502.6,174.56 L503.3,174.56 L504,174.57 L504.7,174.57 L505.4,174.58 L506.1,174.58 L506.8,174.58 L507.5,174.59 L508.2,174.59 L508.9,174.59 L509.6,174.59 L510.3,174.6 L511,174.6 L511.7,174.6 L512.4,174.6 L513.1,174.6 L513.8,174.6" stroke="#3a3a3a" stroke-width="0.95" fill="none" stroke-dasharray="0.9,1.5"/>
<path d="M412.3,172.32 L413,172.47 L413.7,171.53 L414.4,171.73 L415.1,171.36 L415.8,171.35 L416.5,170.33 L417.2,169.27 L417.9,168.58 L418.6,168.57 L419.3,167.58 L420,166.7 L420.7,166.58 L421.4,165.51 L422.1,164.44 L422.8,163.58 L423.5,163.57 L424.2,162.69 L424.9,161.24 L425.6,160.96 L426.3,160.03 L427,159.84 L427.7,158.54 L428.4,158.19 L429.1,157.35 L429.8,157.56 L430.5,156.91 L431.2,156.62 L431.9,156.41 L432.6,156.86 L433.3,157.46 L434,159.15 L434.7,160.26 L435.4,161.64 L436.1,162.56 L436.8,163.67 L437.5,164.86 L438.2,165.86 L438.9,167.09 L439.6,167.71 L440.3,168.77 L441,169.55 L441.7,170.15 L442.4,170.2 L443.1,170.46 L443.8,170.32 L444.5,171.12 L445.2,170.66 L445.9,171.67 L446.6,171.32 L447.3,170.66 L448,171.53 L448.7,171.76 L449.4,171.87 L450.1,170.98 L450.8,171.36 L451.5,172 L452.2,172.07 L452.9,172.78 L453.6,172.2 L454.3,171.79 L455,172.93 L455.7,172.13 L456.4,172.36 L457.1,172.16 L457.8,172.87 L458.5,172.71 L459.2,172.47 L459.9,172.8 L460.6,172.81 L461.3,173.2 L462,173.23 L462.7,173.42 L463.4,173.28 L464.1,173.37 L464.8,173.52 L465.5,174.14 L466.2,173.98 L466.9,173.63 L467.6,173.31 L468.3,173.97 L469,173.9 L469.7,173.8 L470.4,173.54 L471.1,173.37 L471.8,173.88 L472.5,173.92 L473.2,173.95 L473.9,173.99 L474.6,174.02 L475.3,174.04 L476,174.07 L476.7,174.09 L477.4,174.11 L478.1,174.12 L478.8,174.14 L479.5,174.16 L480.2,174.17 L480.9,174.19 L481.6,174.2 L482.3,174.22 L483,174.23 L483.7,174.25 L484.4,174.26 L485.1,174.28 L485.8,174.29 L486.5,174.31 L487.2,174.32 L487.9,174.33 L488.6,174.35 L489.3,174.36 L490,174.37 L490.7,174.38 L491.4,174.4 L492.1,174.41 L492.8,174.42 L493.5,174.43 L494.2,174.44 L494.9,174.45 L495.6,174.46 L496.3,174.47 L497,174.48 L497.7,174.49 L498.4,174.5 L499.1,174.51 L499.8,174.52 L500.5,174.52 L501.2,174.53 L501.9,174.54 L502.6,174.55 L503.3,174.55 L504,174.56 L504.7,174.56 L505.4,174.57 L506.1,174.57 L506.8,174.58 L507.5,174.58 L508.2,174.59 L508.9,174.59 L509.6,174.59 L510.3,174.59 L511,174.6 L511.7,174.6 L512.4,174.6 L513.1,174.6 L513.8,174.6" stroke="#2a2a2a" stroke-width="0.95" fill="none"/>
<path d="M412.3,170.67 L413,170.37 L413.7,170.71 L414.4,171.01 L415.1,170.74 L415.8,170.42 L416.5,169.4 L417.2,168.92 L417.9,168.33 L418.6,167.02 L419.3,165.98 L420,166.03 L420.7,164.35 L421.4,163.62 L422.1,163.04 L422.8,162.01 L423.5,160.91 L424.2,159.2 L424.9,158.84 L425.6,157.48 L426.3,157.19 L427,155.78 L427.7,154.76 L428.4,154.13 L429.1,153.28 L429.8,152.63 L430.5,153.25 L431.2,152.79 L431.9,153.17 L432.6,152.82 L433.3,153.37 L434,154.48 L434.7,155.88 L435.4,157.19 L436.1,158.49 L436.8,159.81 L437.5,160.94 L438.2,161.98 L438.9,163.05 L439.6,163.84 L440.3,165.03 L441,166.17 L441.7,166.28 L442.4,167.47 L443.1,168.44 L443.8,168.82 L444.5,169.13 L445.2,169.55 L445.9,169.83 L446.6,169.65 L447.3,170.77 L448,169.91 L448.7,170.34 L449.4,170.48 L450.1,171.06 L450.8,170.49 L451.5,170.41 L452.2,171.29 L452.9,171.87 L453.6,172.21 L454.3,172.03 L455,172.12 L455.7,171.65 L456.4,172.27 L457.1,171.89 L457.8,172.49 L458.5,172.19 L459.2,171.8 L459.9,172.21 L460.6,172.03 L461.3,172.71 L462,172.81 L462.7,172.9 L463.4,173.28 L464.1,173.23 L464.8,172.74 L465.5,173.32 L466.2,173.24 L466.9,172.91 L467.6,173.42 L468.3,173.52 L469,173.67 L469.7,173.24 L470.4,173.35 L471.1,173.07 L471.8,173.12 L472.5,174.24 L473.2,173.86 L473.9,173.92 L474.6,173.97 L475.3,174.02 L476,174.06 L476.7,174.09 L477.4,174.11 L478.1,174.12 L478.8,174.13 L479.5,174.14 L480.2,174.15 L480.9,174.16 L481.6,174.16 L482.3,174.17 L483,174.18 L483.7,174.19 L484.4,174.2 L485.1,174.21 L485.8,174.21 L486.5,174.22 L487.2,174.23 L487.9,174.24 L488.6,174.24 L489.3,174.25 L490,174.26 L490.7,174.26 L491.4,174.27 L492.1,174.27 L492.8,174.28 L493.5,174.28 L494.2,174.29 L494.9,174.29 L495.6,174.3 L496.3,174.3 L497,174.31 L497.7,174.31 L498.4,174.31 L499.1,174.32 L499.8,174.32 L500.5,174.32 L501.2,174.33 L501.9,174.33 L502.6,174.33 L503.3,174.34 L504,174.34 L504.7,174.34 L505.4,174.34 L506.1,174.34 L506.8,174.34 L507.5,174.35 L508.2,174.35 L508.9,174.35 L509.6,174.35 L510.3,174.35 L511,174.35 L511.7,174.35 L512.4,174.35 L513.1,174.35 L513.8,174.35" stroke="#000" stroke-width="1.7" fill="none" stroke-linejoin="round"/>
<path d="M411.3,174.6 V151.78 H413.5 L415.5,174.6 Z" fill="#000"/>
<path d="M411.7,174.6 V149.8 H513.2" stroke="#222" stroke-width="1" fill="none"/>
<line x1="411.2" y1="174.6" x2="513.6" y2="174.6" stroke="#000" stroke-width="1.4"/>
<path d="M411.7,174.6 v1.9 M415.27,174.6 v1.9 M418.84,174.6 v1.9 M422.41,174.6 v1.9 M425.99,174.6 v1.9 M429.56,174.6 v1.9 M433.13,174.6 v1.9 M436.7,174.6 v1.9 M440.27,174.6 v1.9 M443.84,174.6 v1.9 M447.41,174.6 v1.9 M450.99,174.6 v1.9 M454.56,174.6 v1.9 M458.13,174.6 v1.9 M461.7,174.6 v1.9 M465.27,174.6 v1.9 M468.84,174.6 v1.9 M472.41,174.6 v1.9 M475.99,174.6 v1.9 M479.56,174.6 v1.9 M483.13,174.6 v1.9 M486.7,174.6 v1.9 M490.27,174.6 v1.9 M493.84,174.6 v1.9 M497.41,174.6 v1.9 M500.99,174.6 v1.9 M504.56,174.6 v1.9 M508.13,174.6 v1.9 M511.7,174.6 v1.9" stroke="#000" stroke-width="0.8"/>
<path d="M411.7,174.6 h-2.2 M411.7,171.93 h-2.2 M411.7,169.27 h-2.2 M411.7,166.6 h-2.2 M411.7,163.93 h-2.2 M411.7,161.27 h-2.2 M411.7,158.6 h-2.2 M411.7,155.93 h-2.2 M411.7,153.27 h-2.2 M411.7,150.6 h-2.2" stroke="#000" stroke-width="0.8"/>
<line x1="411.7" y1="149.8" x2="411.7" y2="174.6" stroke="#000" stroke-width="1.5"/>
<text class="c" x="411.7" y="184.4" text-anchor="middle" font-size="6.4">10</text>
<text class="c" x="414.6" y="181.2" font-size="6.1">0</text>
<text class="c" x="436.7" y="184.4" text-anchor="middle" font-size="6.4">10</text>
<text class="c" x="439.6" y="181.2" font-size="6.1">1</text>
<text class="c" x="461.7" y="184.4" text-anchor="middle" font-size="6.4">10</text>
<text class="c" x="464.6" y="181.2" font-size="6.1">2</text>
<text class="c" x="486.7" y="184.4" text-anchor="middle" font-size="6.4">10</text>
<text class="c" x="489.6" y="181.2" font-size="6.1">3</text>
<text class="c" x="511.7" y="184.4" text-anchor="middle" font-size="6.4">10</text>
<text class="c" x="514.6" y="181.2" font-size="6.1">4</text>
<text x="462.2" y="190.5" text-anchor="middle" font-size="6.4" class="c">CD25</text>
<text transform="translate(406.5,150) rotate(-90)" text-anchor="middle" font-size="5.7" class="c">80</text>
<text transform="translate(406.5,174.6) rotate(-90)" text-anchor="middle" font-size="5.7" class="c">0</text>
<text transform="translate(400.5,164) rotate(-90)" text-anchor="middle" font-size="7" class="c" textLength="18.4" lengthAdjust="spacingAndGlyphs">Counts</text>
<path d="M412.3,227.41 L413,227.41 L413.7,227.41 L414.4,227.41 L415.1,227.41 L415.8,227.41 L416.5,227.41 L417.2,227.41 L417.9,227.41 L418.6,227.41 L419.3,227.41 L420,227.41 L420.7,227.41 L421.4,227.41 L422.1,227.41 L422.8,227.41 L423.5,227.41 L424.2,227.41 L424.9,227.41 L425.6,227.41 L426.3,227.41 L427,227.41 L427.7,227.41 L428.4,227.41 L429.1,227.41 L429.8,227.41 L430.5,227.41 L431.2,227.41 L431.9,227.41 L432.6,227.41 L433.3,227.41 L434,227.41 L434.7,227.41 L435.4,227.41 L436.1,227.41 L436.8,227.41 L437.5,227.41 L438.2,227.41 L438.9,227.41 L439.6,227.41 L440.3,227.41 L441,227.41 L441.7,227.41 L442.4,227.41 L443.1,227.41 L443.8,227.41 L444.5,227.41 L445.2,227.41 L445.9,227.41 L446.6,227.41 L447.3,227.41 L448,227.41 L448.7,227.41 L449.4,227.41 L450.1,227.41 L450.8,227.41 L451.5,227.41 L452.2,227.41 L452.9,227.41 L453.6,227.41 L454.3,227.41 L455,227.41 L455.7,227.41 L456.4,227.41 L457.1,227.41 L457.8,227.41 L458.5,227.41 L459.2,227.41 L459.9,227.41 L460.6,227.41 L461.3,227.41 L462,227.41 L462.7,227.41 L463.4,227.41 L464.1,227.41 L464.8,227.41 L465.5,227.41 L466.2,227.41 L466.9,227.41 L467.6,227.41 L468.3,227.41 L469,227.41 L469.7,227.41 L470.4,227.41 L471.1,227.41 L471.8,227.41 L472.5,227.41 L473.2,227.4 L473.9,227.38 L474.6,227.35 L475.3,227.31 L476,227.27 L476.7,227.21 L477.4,227.15 L478.1,227.01 L478.8,226.77 L479.5,226.42 L480.2,225.99 L480.9,225.49 L481.6,224.92 L482.3,224.3 L483,223.51 L483.7,222.37 L484.4,220.96 L485.1,219.34 L485.8,217.59 L486.5,215.52 L487.2,212.82 L487.9,210.17 L488.6,208.25 L489.3,206.72 L490,205.45 L490.7,204.61 L491.4,204.13 L492.1,203.73 L492.8,203.45 L493.5,203.31 L494.2,203.41 L494.9,203.9 L495.6,204.64 L496.3,205.58 L497,207.4 L497.7,209.8 L498.4,212.12 L499.1,214.08 L499.8,216.05 L500.5,217.89 L501.2,219.47 L501.9,220.71 L502.6,221.81 L503.3,222.79 L504,223.65 L504.7,224.36 L505.4,224.93 L506.1,225.43 L506.8,225.87 L507.5,226.24 L508.2,226.54 L508.9,226.76 L509.6,226.96 L510.3,227.14 L511,227.31 L511.7,227.45 L512.4,227.56 L513.1,227.63 L513.8,227.65" stroke="#000" stroke-width="1.3" fill="none" stroke-dasharray="1.3,1.2"/>
<path d="M412.3,218.06 L413,218.14 L413.7,217.14 L414.4,217.47 L415.1,217.02 L415.8,217.12 L416.5,217.01 L417.2,216.73 L417.9,216.86 L418.6,217.03 L419.3,215.73 L420,215.21 L420.7,213.78 L421.4,213.94 L422.1,213.47 L422.8,213.39 L423.5,213.46 L424.2,213.33 L424.9,213.22 L425.6,213.1 L426.3,213.07 L427,213.13 L427.7,213.15 L428.4,213.81 L429.1,212.74 L429.8,212.95 L430.5,213.56 L431.2,214.02 L431.9,215.47 L432.6,216.96 L433.3,217.49 L434,218.54 L434.7,220.67 L435.4,221.84 L436.1,222.45 L436.8,222.71 L437.5,223.23 L438.2,223.76 L438.9,224.01 L439.6,223.94 L440.3,224.55 L441,225.24 L441.7,224.7 L442.4,224.89 L443.1,224.63 L443.8,225.04 L444.5,225.12 L445.2,225.2 L445.9,225.44 L446.6,225.15 L447.3,225.42 L448,225.59 L448.7,225.34 L449.4,225.31 L450.1,225.25 L450.8,225.19 L451.5,224.76 L452.2,225.52 L452.9,225.07 L453.6,225.49 L454.3,225.49 L455,225.31 L455.7,225.83 L456.4,225.63 L457.1,225.43 L457.8,226.09 L458.5,225.97 L459.2,225.85 L459.9,225.75 L460.6,225.54 L461.3,226.17 L462,225.4 L462.7,225.63 L463.4,225.69 L464.1,226.47 L464.8,225.82 L465.5,226.17 L466.2,225.75 L466.9,226.02 L467.6,226.14 L468.3,226.31 L469,226.13 L469.7,225.89 L470.4,226.6 L471.1,226.36 L471.8,226.24 L472.5,226.25 L473.2,226.35 L473.9,226.19 L474.6,226.25 L475.3,226.92 L476,226.02 L476.7,226.77 L477.4,226.03 L478.1,226.18 L478.8,226.95 L479.5,226.43 L480.2,226.09 L480.9,226.11 L481.6,226.49 L482.3,226.8 L483,226.24 L483.7,227.07 L484.4,227.09 L485.1,226.45 L485.8,227.06 L486.5,226.57 L487.2,227.07 L487.9,226.97 L488.6,226.46 L489.3,226.85 L490,226.66 L490.7,226.93 L491.4,227.03 L492.1,227.12 L492.8,227.2 L493.5,226.83 L494.2,226.84 L494.9,226.5 L495.6,226.92 L496.3,227.1 L497,226.9 L497.7,226.64 L498.4,227.51 L499.1,226.61 L499.8,227.36 L500.5,227.37 L501.2,226.39 L501.9,227.17 L502.6,227.19 L503.3,227.2 L504,227.22 L504.7,227.23 L505.4,227.25 L506.1,227.26 L506.8,227.28 L507.5,227.29 L508.2,227.31 L508.9,227.32 L509.6,227.34 L510.3,227.35 L511,227.36 L511.7,227.37 L512.4,227.39 L513.1,227.4 L513.8,227.41" stroke="#2a2a2a" stroke-width="0.95" fill="none"/>
<path d="M412.3,227.1 L413,226.67 L413.7,226.07 L414.4,226.66 L415.1,226.5 L415.8,226.68 L416.5,227.46 L417.2,226.49 L417.9,226.74 L418.6,227.11 L419.3,226.46 L420,226.68 L420.7,225.8 L421.4,227.33 L422.1,226.91 L422.8,226.66 L423.5,226.78 L424.2,226.48 L424.9,226.41 L425.6,226.53 L426.3,226.65 L427,226.87 L427.7,226.62 L428.4,226.41 L429.1,226.63 L429.8,227.29 L430.5,226.17 L431.2,226.82 L431.9,226.41 L432.6,226.82 L433.3,226.35 L434,226.77 L434.7,226.23 L435.4,226.28 L436.1,226.86 L436.8,227.53 L437.5,226.57 L438.2,226.96 L438.9,226.38 L439.6,226.56 L440.3,226.78 L441,226.95 L441.7,226.92 L442.4,226.24 L443.1,226.38 L443.8,226.73 L444.5,226.57 L445.2,226.4 L445.9,226.72 L446.6,227.2 L447.3,226.18 L448,226.76 L448.7,226.85 L449.4,226.66 L450.1,226.95 L450.8,226.99 L451.5,226.6 L452.2,226.88 L452.9,226.54 L453.6,226.55 L454.3,226.08 L455,226.75 L455.7,226.64 L456.4,226.83 L457.1,226.32 L457.8,226.53 L458.5,226.57 L459.2,226.13 L459.9,226.6 L460.6,226.61 L461.3,227.08 L462,227.22 L462.7,226.86 L463.4,226.68 L464.1,227.04 L464.8,227.01 L465.5,226.51 L466.2,226.9 L466.9,226.92 L467.6,226.85 L468.3,227.08 L469,226.51 L469.7,226.35 L470.4,226.47 L471.1,226.33 L471.8,227.38 L472.5,226.53 L473.2,226.85 L473.9,226.41 L474.6,227.01 L475.3,226.59 L476,226.31 L476.7,226.66 L477.4,226.81 L478.1,226.9 L478.8,226.71 L479.5,226.93 L480.2,227.22 L480.9,226.7 L481.6,226.4 L482.3,226.78 L483,226.59 L483.7,226.55 L484.4,226.91 L485.1,226.95 L485.8,227.17 L486.5,226.87 L487.2,226.8 L487.9,227.24 L488.6,227.06 L489.3,226.67 L490,227.18 L490.7,226.78 L491.4,226.9 L492.1,227.11 L492.8,226.76 L493.5,226.85 L494.2,227.06 L494.9,227.03 L495.6,226.95 L496.3,226.93 L497,226.96 L497.7,226.89 L498.4,227.26 L499.1,226.69 L499.8,227.16 L500.5,227.17 L501.2,227.18 L501.9,227.19 L502.6,227.2 L503.3,227.21 L504,227.23 L504.7,227.24 L505.4,227.25 L506.1,227.26 L506.8,227.28 L507.5,227.29 L508.2,227.3 L508.9,227.32 L509.6,227.33 L510.3,227.34 L511,227.35 L511.7,227.37 L512.4,227.38 L513.1,227.39 L513.8,227.41" stroke="#000" stroke-width="0.85" fill="none"/>
<path d="M412.3,225.91 L413,225.87 L413.7,225.71 L414.4,226.1 L415.1,225.68 L415.8,225.86 L416.5,225.79 L417.2,226.55 L417.9,226.09 L418.6,225.69 L419.3,225.73 L420,225.18 L420.7,225.79 L421.4,224.89 L422.1,224.91 L422.8,224.98 L423.5,225.09 L424.2,225.18 L424.9,225.06 L425.6,224.76 L426.3,224.39 L427,224.02 L427.7,223.84 L428.4,223.56 L429.1,223.43 L429.8,223.8 L430.5,223.65 L431.2,223.09 L431.9,223.57 L432.6,222.95 L433.3,223.17 L434,223.52 L434.7,222.93 L435.4,222.95 L436.1,223.22 L436.8,223.67 L437.5,222.89 L438.2,222.93 L438.9,222.95 L439.6,223.24 L440.3,223.75 L441,224.21 L441.7,223.9 L442.4,223.67 L443.1,224.05 L443.8,224.45 L444.5,224.64 L445.2,224.97 L445.9,224.19 L446.6,224.16 L447.3,224.97 L448,224.55 L448.7,223.99 L449.4,225.06 L450.1,224.02 L450.8,224.14 L451.5,224.25 L452.2,224.38 L452.9,224.39 L453.6,224.37 L454.3,224.09 L455,224.92 L455.7,225.13 L456.4,225.22 L457.1,224.59 L457.8,224.38 L458.5,224.93 L459.2,224.63 L459.9,224.74 L460.6,224.51 L461.3,224.7 L462,224.85 L462.7,225.23 L463.4,225.21 L464.1,224.9 L464.8,225.17 L465.5,224.9 L466.2,225.53 L466.9,225.11 L467.6,225.49 L468.3,225.36 L469,226.04 L469.7,225.37 L470.4,225.88 L471.1,225.31 L471.8,225.45 L472.5,225.93 L473.2,225.35 L473.9,225.38 L474.6,225.35 L475.3,225.53 L476,226.04 L476.7,225.54 L477.4,226.37 L478.1,226.14 L478.8,225.98 L479.5,226.58 L480.2,225.79 L480.9,226 L481.6,226.25 L482.3,226.88 L483,226.48 L483.7,226.08 L484.4,226.16 L485.1,226.65 L485.8,226.8 L486.5,226.44 L487.2,226.82 L487.9,226.99 L488.6,226.12 L489.3,226.57 L490,226.5 L490.7,226.71 L491.4,226.38 L492.1,226.41 L492.8,226.77 L493.5,226.88 L494.2,226.9 L494.9,226.54 L495.6,226.79 L496.3,227.21 L497,226.49 L497.7,226.9 L498.4,226.79 L499.1,226.54 L499.8,226.83 L500.5,226.76 L501.2,227.05 L501.9,226.87 L502.6,226.81 L503.3,226.98 L504,227.14 L504.7,227.19 L505.4,227.18 L506.1,227.2 L506.8,227.22 L507.5,227.24 L508.2,227.26 L508.9,227.28 L509.6,227.3 L510.3,227.32 L511,227.34 L511.7,227.36 L512.4,227.37 L513.1,227.39 L513.8,227.41" stroke="#000" stroke-width="1.7" fill="none" stroke-linejoin="round"/>
<path d="M411.3,227.9 V203.3 H413.7 L414.9,227.9 Z" fill="#000"/>
<path d="M411.7,227.9 V203.3 H513.2" stroke="#222" stroke-width="1" fill="none"/>
<line x1="411.2" y1="227.9" x2="513.6" y2="227.9" stroke="#000" stroke-width="1.4"/>
<path d="M411.7,227.9 v1.9 M415.27,227.9 v1.9 M418.84,227.9 v1.9 M422.41,227.9 v1.9 M425.99,227.9 v1.9 M429.56,227.9 v1.9 M433.13,227.9 v1.9 M436.7,227.9 v1.9 M440.27,227.9 v1.9 M443.84,227.9 v1.9 M447.41,227.9 v1.9 M450.99,227.9 v1.9 M454.56,227.9 v1.9 M458.13,227.9 v1.9 M461.7,227.9 v1.9 M465.27,227.9 v1.9 M468.84,227.9 v1.9 M472.41,227.9 v1.9 M475.99,227.9 v1.9 M479.56,227.9 v1.9 M483.13,227.9 v1.9 M486.7,227.9 v1.9 M490.27,227.9 v1.9 M493.84,227.9 v1.9 M497.41,227.9 v1.9 M500.99,227.9 v1.9 M504.56,227.9 v1.9 M508.13,227.9 v1.9 M511.7,227.9 v1.9" stroke="#000" stroke-width="0.8"/>
<path d="M411.7,227.9 h-2.2 M411.7,225.25 h-2.2 M411.7,222.61 h-2.2 M411.7,219.96 h-2.2 M411.7,217.32 h-2.2 M411.7,214.67 h-2.2 M411.7,212.03 h-2.2 M411.7,209.38 h-2.2 M411.7,206.74 h-2.2 M411.7,204.09 h-2.2" stroke="#000" stroke-width="0.8"/>
<line x1="411.7" y1="203.3" x2="411.7" y2="227.9" stroke="#000" stroke-width="1.5"/>
<text class="c" x="411.7" y="237.7" text-anchor="middle" font-size="6.4">10</text>
<text class="c" x="414.6" y="234.5" font-size="6.1">0</text>
<text class="c" x="436.7" y="237.7" text-anchor="middle" font-size="6.4">10</text>
<text class="c" x="439.6" y="234.5" font-size="6.1">1</text>
<text class="c" x="461.7" y="237.7" text-anchor="middle" font-size="6.4">10</text>
<text class="c" x="464.6" y="234.5" font-size="6.1">2</text>
<text class="c" x="486.7" y="237.7" text-anchor="middle" font-size="6.4">10</text>
<text class="c" x="489.6" y="234.5" font-size="6.1">3</text>
<text class="c" x="511.7" y="237.7" text-anchor="middle" font-size="6.4">10</text>
<text class="c" x="514.6" y="234.5" font-size="6.1">4</text>
<text x="462.2" y="243.8" text-anchor="middle" font-size="6.4" class="c">L SEL</text>
<text transform="translate(406.5,203.5) rotate(-90)" text-anchor="middle" font-size="5.7" class="c">100</text>
<text transform="translate(406.5,227.9) rotate(-90)" text-anchor="middle" font-size="5.7" class="c">0</text>
<text transform="translate(400.5,217.4) rotate(-90)" text-anchor="middle" font-size="7" class="c" textLength="18.4" lengthAdjust="spacingAndGlyphs">Counts</text>
<path d="M412.3,273.53 L413,273.38 L413.7,272.98 L414.4,272.38 L415.1,271.63 L415.8,270.78 L416.5,269.85 L417.2,268.43 L417.9,266.7 L418.6,265.1 L419.3,263.45 L420,261.94 L420.7,260.97 L421.4,260.22 L422.1,259.63 L422.8,259.29 L423.5,259.28 L424.2,259.47 L424.9,259.78 L425.6,260.16 L426.3,260.73 L427,261.62 L427.7,262.65 L428.4,263.64 L429.1,264.63 L429.8,265.69 L430.5,266.86 L431.2,268.14 L431.9,269.55 L432.6,271.09 L433.3,273.01 L434,274.91 L434.7,276.28 L435.4,277.35 L436.1,278.24 L436.8,278.9 L437.5,279.31 L438.2,279.64 L438.9,279.93 L439.6,280.18 L440.3,280.39 L441,280.57 L441.7,280.7 L442.4,280.8 L443.1,280.89 L443.8,280.97 L444.5,281.04 L445.2,281.1 L445.9,281.16 L446.6,281.22 L447.3,281.27 L448,281.31 L448.7,281.35 L449.4,281.39 L450.1,281.43 L450.8,281.46 L451.5,281.49 L452.2,281.51 L452.9,281.54 L453.6,281.56 L454.3,281.58 L455,281.61 L455.7,281.63 L456.4,281.65 L457.1,281.67 L457.8,281.68 L458.5,281.7 L459.2,281.71 L459.9,281.73 L460.6,281.74 L461.3,281.75 L462,281.76 L462.7,281.76 L463.4,281.77 L464.1,281.77 L464.8,281.78 L465.5,281.79 L466.2,281.79 L466.9,281.8 L467.6,281.8 L468.3,281.81 L469,281.82 L469.7,281.82 L470.4,281.83 L471.1,281.83 L471.8,281.84 L472.5,281.84 L473.2,281.85 L473.9,281.85 L474.6,281.86 L475.3,281.86 L476,281.87 L476.7,281.87 L477.4,281.88 L478.1,281.88 L478.8,281.89 L479.5,281.89 L480.2,281.9 L480.9,281.9 L481.6,281.9 L482.3,281.91 L483,281.91 L483.7,281.92 L484.4,281.92 L485.1,281.92 L485.8,281.93 L486.5,281.93 L487.2,281.93 L487.9,281.94 L488.6,281.94 L489.3,281.94 L490,281.95 L490.7,281.95 L491.4,281.95 L492.1,281.96 L492.8,281.96 L493.5,281.96 L494.2,281.96 L494.9,281.97 L495.6,281.97 L496.3,281.97 L497,281.97 L497.7,281.98 L498.4,281.98 L499.1,281.98 L499.8,281.98 L500.5,281.98 L501.2,281.99 L501.9,281.99 L502.6,281.99 L503.3,281.99 L504,281.99 L504.7,281.99 L505.4,281.99 L506.1,281.99 L506.8,282 L507.5,282 L508.2,282 L508.9,282 L509.6,282 L510.3,282 L511,282 L511.7,282 L512.4,282 L513.1,282 L513.8,282" stroke="#3a3a3a" stroke-width="0.95" fill="none" stroke-dasharray="0.9,1.5"/>
<path d="M412.3,280.25 L413,281.23 L413.7,280.72 L414.4,280.46 L415.1,281.12 L415.8,280.61 L416.5,279.97 L417.2,280.41 L417.9,279.85 L418.6,279.86 L419.3,279.62 L420,279.64 L420.7,279.64 L421.4,279.52 L422.1,279.89 L422.8,279.08 L423.5,279.54 L424.2,279.62 L424.9,279.16 L425.6,279.59 L426.3,278.49 L427,278.29 L427.7,278.5 L428.4,278.96 L429.1,278.4 L429.8,278.21 L430.5,278.14 L431.2,277.72 L431.9,277.15 L432.6,277.09 L433.3,276.66 L434,276.41 L434.7,276.62 L435.4,276.21 L436.1,276.1 L436.8,275.4 L437.5,275.71 L438.2,275.52 L438.9,275.44 L439.6,275.36 L440.3,275.18 L441,275.08 L441.7,275.48 L442.4,274.7 L443.1,274.72 L443.8,274.45 L444.5,274.46 L445.2,274.28 L445.9,273.86 L446.6,273.84 L447.3,273.52 L448,273.27 L448.7,273.11 L449.4,272.79 L450.1,272.6 L450.8,271.9 L451.5,270.91 L452.2,270.31 L452.9,269.17 L453.6,267.88 L454.3,266.14 L455,266.04 L455.7,265.72 L456.4,265.64 L457.1,266.19 L457.8,265.96 L458.5,265.43 L459.2,264.56 L459.9,263.34 L460.6,263.28 L461.3,264.07 L462,264.85 L462.7,266.13 L463.4,266.25 L464.1,268.04 L464.8,267.97 L465.5,268.43 L466.2,268.86 L466.9,269.97 L467.6,270.1 L468.3,271.19 L469,271.81 L469.7,273.31 L470.4,273.4 L471.1,274.7 L471.8,275.61 L472.5,276.14 L473.2,277.33 L473.9,277.79 L474.6,277.81 L475.3,278.51 L476,278.81 L476.7,279.85 L477.4,279.93 L478.1,280.32 L478.8,279.6 L479.5,280.33 L480.2,280.12 L480.9,280.75 L481.6,280.54 L482.3,281.15 L483,281.25 L483.7,281.26 L484.4,281.28 L485.1,281.35 L485.8,281.41 L486.5,281.47 L487.2,281.52 L487.9,281.57 L488.6,281.61 L489.3,281.65 L490,281.68 L490.7,281.71 L491.4,281.73 L492.1,281.75 L492.8,281.77 L493.5,281.78 L494.2,281.8 L494.9,281.81 L495.6,281.82 L496.3,281.84 L497,281.85 L497.7,281.86 L498.4,281.87 L499.1,281.88 L499.8,281.89 L500.5,281.9 L501.2,281.91 L501.9,281.92 L502.6,281.93 L503.3,281.94 L504,281.95 L504.7,281.95 L505.4,281.96 L506.1,281.97 L506.8,281.97 L507.5,281.98 L508.2,281.98 L508.9,281.99 L509.6,281.99 L510.3,281.99 L511,282 L511.7,282 L512.4,282 L513.1,282 L513.8,282" stroke="#2a2a2a" stroke-width="0.95" fill="none"/>
<path d="M412.3,281.52 L413,281.52 L413.7,281.52 L414.4,281.52 L415.1,281.52 L415.8,281.52 L416.5,281.52 L417.2,281.52 L417.9,281.52 L418.6,281.52 L419.3,281.52 L420,281.52 L420.7,281.52 L421.4,281.52 L422.1,281.52 L422.8,281.52 L423.5,281.52 L424.2,281.52 L424.9,281.52 L425.6,281.52 L426.3,281.52 L427,281.52 L427.7,281.52 L428.4,281.52 L429.1,281.52 L429.8,281.52 L430.5,281.52 L431.2,281.52 L431.9,281.52 L432.6,281.52 L433.3,281.52 L434,281.52 L434.7,281.52 L435.4,281.52 L436.1,281.52 L436.8,281.52 L437.5,281.52 L438.2,281.52 L438.9,281.52 L439.6,281.52 L440.3,281.52 L441,281.52 L441.7,281.52 L442.4,281.52 L443.1,281.5 L443.8,281.48 L444.5,281.43 L445.2,281.37 L445.9,281.29 L446.6,280.93 L447.3,280.89 L448,280.54 L448.7,281.23 L449.4,280.65 L450.1,280.5 L450.8,280.47 L451.5,280.24 L452.2,279.97 L452.9,279.95 L453.6,278.96 L454.3,278.58 L455,278.84 L455.7,277.94 L456.4,277.5 L457.1,277.2 L457.8,276.86 L458.5,276.17 L459.2,275.76 L459.9,275.43 L460.6,274.5 L461.3,274.18 L462,273.4 L462.7,273.59 L463.4,272.91 L464.1,273.04 L464.8,271.76 L465.5,271.54 L466.2,270.72 L466.9,270.36 L467.6,270.42 L468.3,270.11 L469,270.78 L469.7,271.47 L470.4,271.44 L471.1,272.3 L471.8,273.15 L472.5,274.41 L473.2,275.03 L473.9,276.06 L474.6,276.19 L475.3,278.32 L476,278.47 L476.7,278.38 L477.4,278.86 L478.1,279.37 L478.8,279.86 L479.5,280.31 L480.2,279.95 L480.9,280.35 L481.6,280.78 L482.3,280.9 L483,280.64 L483.7,281.51 L484.4,281.32 L485.1,281.41 L485.8,281.48 L486.5,281.55 L487.2,281.61 L487.9,281.65 L488.6,281.7 L489.3,281.73 L490,281.75 L490.7,281.77 L491.4,281.78 L492.1,281.79 L492.8,281.81 L493.5,281.82 L494.2,281.83 L494.9,281.85 L495.6,281.86 L496.3,281.87 L497,281.88 L497.7,281.89 L498.4,281.9 L499.1,281.91 L499.8,281.92 L500.5,281.92 L501.2,281.93 L501.9,281.94 L502.6,281.95 L503.3,281.95 L504,281.96 L504.7,281.97 L505.4,281.97 L506.1,281.98 L506.8,281.98 L507.5,281.98 L508.2,281.99 L508.9,281.99 L509.6,281.99 L510.3,281.99 L511,282 L511.7,282 L512.4,282 L513.1,282 L513.8,282" stroke="#000" stroke-width="0.85" fill="none"/>
<path d="M412.3,280.95 L413,281.27 L413.7,280.99 L414.4,280.69 L415.1,280.64 L415.8,280.82 L416.5,281.22 L417.2,280.82 L417.9,281.33 L418.6,281.31 L419.3,281.37 L420,281.42 L420.7,281.47 L421.4,281.5 L422.1,281.52 L422.8,281.52 L423.5,281.52 L424.2,281.51 L424.9,281.51 L425.6,281.51 L426.3,281.51 L427,281.5 L427.7,281.5 L428.4,281.5 L429.1,281.49 L429.8,281.49 L430.5,281.48 L431.2,281.47 L431.9,281.47 L432.6,281.46 L433.3,281.45 L434,281.44 L434.7,281.43 L435.4,281.42 L436.1,281.41 L436.8,281.4 L437.5,281.38 L438.2,281.37 L438.9,281.36 L439.6,281.34 L440.3,281.32 L441,281.31 L441.7,281.29 L442.4,281.39 L443.1,281.17 L443.8,280.45 L444.5,280.58 L445.2,280.99 L445.9,280.87 L446.6,280.18 L447.3,280.57 L448,280.58 L448.7,280.1 L449.4,279.99 L450.1,279.81 L450.8,279.2 L451.5,279.08 L452.2,278.65 L452.9,278.14 L453.6,278.07 L454.3,278.01 L455,277.53 L455.7,276.67 L456.4,276.88 L457.1,276.53 L457.8,275.7 L458.5,275.71 L459.2,275.32 L459.9,274.57 L460.6,274.29 L461.3,274 L462,273.49 L462.7,272.56 L463.4,272.27 L464.1,272.09 L464.8,271.61 L465.5,270.71 L466.2,271.03 L466.9,270.66 L467.6,270.5 L468.3,270.61 L469,270.34 L469.7,270.66 L470.4,270.46 L471.1,270.04 L471.8,270.43 L472.5,269.93 L473.2,270.32 L473.9,270.23 L474.6,270.49 L475.3,271.38 L476,271.69 L476.7,272.55 L477.4,273.72 L478.1,274.45 L478.8,275.12 L479.5,275.47 L480.2,275.85 L480.9,276.43 L481.6,277.13 L482.3,277.76 L483,278.26 L483.7,278.83 L484.4,279.48 L485.1,278.84 L485.8,279.87 L486.5,280.1 L487.2,279.58 L487.9,280 L488.6,280.12 L489.3,280.54 L490,280.47 L490.7,280.31 L491.4,279.78 L492.1,280.47 L492.8,280.63 L493.5,280.51 L494.2,280.72 L494.9,280.99 L495.6,281.31 L496.3,280.67 L497,281.26 L497.7,280.51 L498.4,281.04 L499.1,281.04 L499.8,281.28 L500.5,281.27 L501.2,281.17 L501.9,280.92 L502.6,281.18 L503.3,281.11 L504,281.26 L504.7,280.98 L505.4,281.05 L506.1,281.05 L506.8,281.52 L507.5,281.48 L508.2,281.66 L508.9,281.3 L509.6,281.33 L510.3,281.36 L511,281.39 L511.7,281.42 L512.4,281.45 L513.1,281.48 L513.8,281.52" stroke="#000" stroke-width="1.7" fill="none" stroke-linejoin="round"/>
<path d="M411.7,282 V257.8 H513.2" stroke="#222" stroke-width="1" fill="none"/>
<line x1="411.2" y1="282" x2="513.6" y2="282" stroke="#000" stroke-width="1.4"/>
<path d="M411.7,282 v1.9 M415.27,282 v1.9 M418.84,282 v1.9 M422.41,282 v1.9 M425.99,282 v1.9 M429.56,282 v1.9 M433.13,282 v1.9 M436.7,282 v1.9 M440.27,282 v1.9 M443.84,282 v1.9 M447.41,282 v1.9 M450.99,282 v1.9 M454.56,282 v1.9 M458.13,282 v1.9 M461.7,282 v1.9 M465.27,282 v1.9 M468.84,282 v1.9 M472.41,282 v1.9 M475.99,282 v1.9 M479.56,282 v1.9 M483.13,282 v1.9 M486.7,282 v1.9 M490.27,282 v1.9 M493.84,282 v1.9 M497.41,282 v1.9 M500.99,282 v1.9 M504.56,282 v1.9 M508.13,282 v1.9 M511.7,282 v1.9" stroke="#000" stroke-width="0.8"/>
<path d="M411.7,282 h-2.2 M411.7,279.4 h-2.2 M411.7,276.8 h-2.2 M411.7,274.19 h-2.2 M411.7,271.59 h-2.2 M411.7,268.99 h-2.2 M411.7,266.39 h-2.2 M411.7,263.78 h-2.2 M411.7,261.18 h-2.2 M411.7,258.58 h-2.2" stroke="#000" stroke-width="0.8"/>
<line x1="411.7" y1="257.8" x2="411.7" y2="282" stroke="#000" stroke-width="1.5"/>
<text class="c" x="411.7" y="291.8" text-anchor="middle" font-size="6.4">10</text>
<text class="c" x="414.6" y="288.6" font-size="6.1">0</text>
<text class="c" x="436.7" y="291.8" text-anchor="middle" font-size="6.4">10</text>
<text class="c" x="439.6" y="288.6" font-size="6.1">1</text>
<text class="c" x="461.7" y="291.8" text-anchor="middle" font-size="6.4">10</text>
<text class="c" x="464.6" y="288.6" font-size="6.1">2</text>
<text class="c" x="486.7" y="291.8" text-anchor="middle" font-size="6.4">10</text>
<text class="c" x="489.6" y="288.6" font-size="6.1">3</text>
<text class="c" x="511.7" y="291.8" text-anchor="middle" font-size="6.4">10</text>
<text class="c" x="514.6" y="288.6" font-size="6.1">4</text>
<text x="462.2" y="297.9" text-anchor="middle" font-size="6.4" class="c">CD44</text>
<text transform="translate(406.5,258) rotate(-90)" text-anchor="middle" font-size="5.7" class="c">80</text>
<text transform="translate(406.5,282) rotate(-90)" text-anchor="middle" font-size="5.7" class="c">0</text>
<text transform="translate(400.5,271.7) rotate(-90)" text-anchor="middle" font-size="7" class="c" textLength="18.4" lengthAdjust="spacingAndGlyphs">Counts</text>
<path d="M412.3,325.04 L413,324.84 L413.7,324.57 L414.4,324.22 L415.1,323.83 L415.8,323.39 L416.5,322.91 L417.2,322.33 L417.9,321.62 L418.6,320.83 L419.3,320 L420,319.17 L420.7,318.36 L421.4,317.49 L422.1,316.58 L422.8,315.71 L423.5,314.96 L424.2,314.3 L424.9,313.63 L425.6,313.06 L426.3,312.7 L427,312.72 L427.7,313.39 L428.4,314.36 L429.1,315.21 L429.8,316.02 L430.5,316.91 L431.2,318.02 L431.9,319.4 L432.6,320.91 L433.3,322.46 L434,324.11 L434.7,325.77 L435.4,327.59 L436.1,328.89 L436.8,329.73 L437.5,330.43 L438.2,330.98 L438.9,331.37 L439.6,331.62 L440.3,331.83 L441,332.02 L441.7,332.19 L442.4,332.32 L443.1,332.41 L443.8,332.47 L444.5,332.48 L445.2,332.48 L445.9,332.48 L446.6,332.48 L447.3,332.48 L448,332.48 L448.7,332.48 L449.4,332.48 L450.1,332.48 L450.8,332.48 L451.5,332.48 L452.2,332.48 L452.9,332.49 L453.6,332.52 L454.3,332.57 L455,332.64 L455.7,332.72 L456.4,332.81 L457.1,332.9 L457.8,333.01 L458.5,333.11 L459.2,333.21 L459.9,333.32 L460.6,333.45 L461.3,333.59 L462,333.75 L462.7,333.92 L463.4,334.09 L464.1,334.26 L464.8,334.43 L465.5,334.6 L466.2,334.75 L466.9,334.89 L467.6,335.01 L468.3,335.14 L469,335.27 L469.7,335.4 L470.4,335.52 L471.1,335.64 L471.8,335.74 L472.5,335.83 L473.2,335.9 L473.9,335.94 L474.6,335.96 L475.3,335.97 L476,335.98 L476.7,335.99 L477.4,336 L478.1,336.01 L478.8,336.01 L479.5,336.02 L480.2,336.03 L480.9,336.04 L481.6,336.05 L482.3,336.06 L483,336.06 L483.7,336.07 L484.4,336.08 L485.1,336.08 L485.8,336.09 L486.5,336.1 L487.2,336.1 L487.9,336.11 L488.6,336.11 L489.3,336.12 L490,336.13 L490.7,336.13 L491.4,336.14 L492.1,336.14 L492.8,336.14 L493.5,336.15 L494.2,336.15 L494.9,336.16 L495.6,336.16 L496.3,336.16 L497,336.17 L497.7,336.17 L498.4,336.17 L499.1,336.18 L499.8,336.18 L500.5,336.18 L501.2,336.18 L501.9,336.18 L502.6,336.19 L503.3,336.19 L504,336.19 L504.7,336.19 L505.4,336.19 L506.1,336.19 L506.8,336.19 L507.5,336.2 L508.2,336.2 L508.9,336.2 L509.6,336.2 L510.3,336.2 L511,336.2 L511.7,336.2 L512.4,336.2 L513.1,336.2 L513.8,336.2" stroke="#3a3a3a" stroke-width="0.95" fill="none" stroke-dasharray="0.9,1.5"/>
<path d="M412.3,334.21 L413,334.46 L413.7,334.55 L414.4,334.54 L415.1,334.52 L415.8,334.2 L416.5,335.48 L417.2,334.62 L417.9,334.44 L418.6,335.23 L419.3,334.5 L420,334.36 L420.7,334.7 L421.4,334.42 L422.1,334.57 L422.8,334.65 L423.5,334.32 L424.2,334.22 L424.9,333.61 L425.6,333.93 L426.3,333.38 L427,333.11 L427.7,332.78 L428.4,332.84 L429.1,332.41 L429.8,332.49 L430.5,332.21 L431.2,331.04 L431.9,330.73 L432.6,330.77 L433.3,329.91 L434,328.17 L434.7,327.54 L435.4,326.29 L436.1,325.21 L436.8,324.69 L437.5,323.38 L438.2,323.03 L438.9,321.77 L439.6,320.6 L440.3,319.54 L441,319.14 L441.7,318.29 L442.4,318.05 L443.1,316.94 L443.8,317.07 L444.5,316.34 L445.2,315.84 L445.9,315.67 L446.6,315.25 L447.3,314.96 L448,314.46 L448.7,314.46 L449.4,314.52 L450.1,314.62 L450.8,314.83 L451.5,315.52 L452.2,315.67 L452.9,316 L453.6,316.17 L454.3,316.86 L455,317.4 L455.7,318.61 L456.4,318.69 L457.1,320.33 L457.8,321.37 L458.5,321.91 L459.2,322.71 L459.9,323.65 L460.6,323.82 L461.3,324.88 L462,325.17 L462.7,325.67 L463.4,325.16 L464.1,326.01 L464.8,326.48 L465.5,327.44 L466.2,327.72 L466.9,328.18 L467.6,328.44 L468.3,328.83 L469,329.32 L469.7,330.4 L470.4,330.62 L471.1,330.71 L471.8,331.44 L472.5,331.84 L473.2,332.12 L473.9,332.71 L474.6,333.17 L475.3,332.76 L476,334.24 L476.7,334 L477.4,334.12 L478.1,334.49 L478.8,334.69 L479.5,334.95 L480.2,334.65 L480.9,335.63 L481.6,335.54 L482.3,335.71 L483,335.59 L483.7,335.46 L484.4,335.52 L485.1,335.58 L485.8,335.63 L486.5,335.68 L487.2,335.73 L487.9,335.77 L488.6,335.81 L489.3,335.85 L490,335.88 L490.7,335.91 L491.4,335.93 L492.1,335.95 L492.8,335.96 L493.5,335.98 L494.2,335.99 L494.9,336 L495.6,336.02 L496.3,336.03 L497,336.04 L497.7,336.06 L498.4,336.07 L499.1,336.08 L499.8,336.09 L500.5,336.1 L501.2,336.11 L501.9,336.12 L502.6,336.13 L503.3,336.14 L504,336.14 L504.7,336.15 L505.4,336.16 L506.1,336.16 L506.8,336.17 L507.5,336.18 L508.2,336.18 L508.9,336.19 L509.6,336.19 L510.3,336.19 L511,336.2 L511.7,336.2 L512.4,336.2 L513.1,336.2 L513.8,336.2" stroke="#000" stroke-width="0.85" fill="none"/>
<path d="M412.3,333.23 L413,333.3 L413.7,332.93 L414.4,333.26 L415.1,333.63 L415.8,333.71 L416.5,334.24 L417.2,334.58 L417.9,334.81 L418.6,334.75 L419.3,334.85 L420,334.6 L420.7,334.99 L421.4,334.6 L422.1,334.18 L422.8,334.47 L423.5,334.42 L424.2,333.45 L424.9,334.01 L425.6,333.2 L426.3,333.6 L427,333.26 L427.7,332.96 L428.4,333.2 L429.1,333.01 L429.8,332.5 L430.5,332.26 L431.2,331.68 L431.9,331.63 L432.6,331.17 L433.3,330.11 L434,329.4 L434.7,328.39 L435.4,327.03 L436.1,326.25 L436.8,325.53 L437.5,323.88 L438.2,323.24 L438.9,322.92 L439.6,321.58 L440.3,320.19 L441,319.66 L441.7,319.08 L442.4,318.05 L443.1,317.59 L443.8,316.85 L444.5,316.09 L445.2,315.98 L445.9,314.68 L446.6,315.62 L447.3,315.08 L448,314.22 L448.7,314.3 L449.4,313.81 L450.1,314.27 L450.8,314.34 L451.5,314.77 L452.2,315.36 L452.9,316.27 L453.6,316.44 L454.3,316.96 L455,317.76 L455.7,318.91 L456.4,319.23 L457.1,320.55 L457.8,321.61 L458.5,322.16 L459.2,323.13 L459.9,324.35 L460.6,325.01 L461.3,325.15 L462,324.99 L462.7,326.5 L463.4,326.74 L464.1,326.59 L464.8,327 L465.5,327.19 L466.2,328.48 L466.9,328.42 L467.6,328.82 L468.3,329.04 L469,329.86 L469.7,330.28 L470.4,330.5 L471.1,331 L471.8,331.45 L472.5,331.91 L473.2,331.99 L473.9,332.68 L474.6,333.03 L475.3,333.15 L476,333.77 L476.7,333.95 L477.4,334.74 L478.1,334.51 L478.8,334.68 L479.5,334.98 L480.2,335.05 L480.9,335.21 L481.6,334.68 L482.3,335.13 L483,335.35 L483.7,335.39 L484.4,335.53 L485.1,335.24 L485.8,335.31 L486.5,335.64 L487.2,335.47 L487.9,335.51 L488.6,335.55 L489.3,335.59 L490,335.63 L490.7,335.66 L491.4,335.68 L492.1,335.7 L492.8,335.71 L493.5,335.73 L494.2,335.74 L494.9,335.76 L495.6,335.77 L496.3,335.78 L497,335.8 L497.7,335.81 L498.4,335.82 L499.1,335.83 L499.8,335.84 L500.5,335.85 L501.2,335.86 L501.9,335.87 L502.6,335.88 L503.3,335.89 L504,335.9 L504.7,335.9 L505.4,335.91 L506.1,335.92 L506.8,335.92 L507.5,335.93 L508.2,335.93 L508.9,335.94 L509.6,335.94 L510.3,335.94 L511,335.95 L511.7,335.95 L512.4,335.95 L513.1,335.95 L513.8,335.95" stroke="#000" stroke-width="1.7" fill="none" stroke-linejoin="round"/>
<path d="M411.3,336.2 V328.76 H413.5 L414.1,336.2 Z" fill="#000"/>
<path d="M411.7,336.2 V311.4 H513.2" stroke="#222" stroke-width="1" fill="none"/>
<line x1="411.2" y1="336.2" x2="513.6" y2="336.2" stroke="#000" stroke-width="1.4"/>
<path d="M411.7,336.2 v1.9 M415.27,336.2 v1.9 M418.84,336.2 v1.9 M422.41,336.2 v1.9 M425.99,336.2 v1.9 M429.56,336.2 v1.9 M433.13,336.2 v1.9 M436.7,336.2 v1.9 M440.27,336.2 v1.9 M443.84,336.2 v1.9 M447.41,336.2 v1.9 M450.99,336.2 v1.9 M454.56,336.2 v1.9 M458.13,336.2 v1.9 M461.7,336.2 v1.9 M465.27,336.2 v1.9 M468.84,336.2 v1.9 M472.41,336.2 v1.9 M475.99,336.2 v1.9 M479.56,336.2 v1.9 M483.13,336.2 v1.9 M486.7,336.2 v1.9 M490.27,336.2 v1.9 M493.84,336.2 v1.9 M497.41,336.2 v1.9 M500.99,336.2 v1.9 M504.56,336.2 v1.9 M508.13,336.2 v1.9 M511.7,336.2 v1.9" stroke="#000" stroke-width="0.8"/>
<path d="M411.7,336.2 h-2.2 M411.7,333.53 h-2.2 M411.7,330.87 h-2.2 M411.7,328.2 h-2.2 M411.7,325.53 h-2.2 M411.7,322.87 h-2.2 M411.7,320.2 h-2.2 M411.7,317.53 h-2.2 M411.7,314.87 h-2.2 M411.7,312.2 h-2.2" stroke="#000" stroke-width="0.8"/>
<line x1="411.7" y1="311.4" x2="411.7" y2="336.2" stroke="#000" stroke-width="1.5"/>
<text class="c" x="411.7" y="346" text-anchor="middle" font-size="6.4">10</text>
<text class="c" x="414.6" y="342.8" font-size="6.1">0</text>
<text class="c" x="436.7" y="346" text-anchor="middle" font-size="6.4">10</text>
<text class="c" x="439.6" y="342.8" font-size="6.1">1</text>
<text class="c" x="461.7" y="346" text-anchor="middle" font-size="6.4">10</text>
<text class="c" x="464.6" y="342.8" font-size="6.1">2</text>
<text class="c" x="486.7" y="346" text-anchor="middle" font-size="6.4">10</text>
<text class="c" x="489.6" y="342.8" font-size="6.1">3</text>
<text class="c" x="511.7" y="346" text-anchor="middle" font-size="6.4">10</text>
<text class="c" x="514.6" y="342.8" font-size="6.1">4</text>
<text x="462.2" y="352.1" text-anchor="middle" font-size="6.4" class="c">CD122</text>
<text transform="translate(406.5,311.6) rotate(-90)" text-anchor="middle" font-size="5.7" class="c">50</text>
<text transform="translate(406.5,336.2) rotate(-90)" text-anchor="middle" font-size="5.7" class="c">0</text>
<text transform="translate(400.5,325.6) rotate(-90)" text-anchor="middle" font-size="7" class="c" textLength="18.4" lengthAdjust="spacingAndGlyphs">Counts</text>
<path d="M412.3,378.83 L413,378.36 L413.7,377.84 L414.4,377.29 L415.1,376.71 L415.8,376.09 L416.5,375.44 L417.2,374.71 L417.9,373.91 L418.6,373.08 L419.3,372.25 L420,371.47 L420.7,370.76 L421.4,370.09 L422.1,369.45 L422.8,368.85 L423.5,368.32 L424.2,367.82 L424.9,367.3 L425.6,366.86 L426.3,366.58 L427,366.63 L427.7,367.46 L428.4,368.63 L429.1,369.63 L429.8,370.54 L430.5,371.46 L431.2,372.41 L431.9,373.42 L432.6,374.51 L433.3,375.66 L434,376.86 L434.7,378.07 L435.4,379.32 L436.1,380.77 L436.8,382.21 L437.5,383.39 L438.2,384.06 L438.9,384.43 L439.6,384.73 L440.3,384.97 L441,385.17 L441.7,385.34 L442.4,385.49 L443.1,385.64 L443.8,385.77 L444.5,385.89 L445.2,386 L445.9,386.1 L446.6,386.2 L447.3,386.29 L448,386.37 L448.7,386.46 L449.4,386.55 L450.1,386.64 L450.8,386.73 L451.5,386.83 L452.2,386.93 L452.9,387.05 L453.6,387.17 L454.3,387.29 L455,387.42 L455.7,387.55 L456.4,387.68 L457.1,387.81 L457.8,387.94 L458.5,388.07 L459.2,388.2 L459.9,388.32 L460.6,388.43 L461.3,388.53 L462,388.63 L462.7,388.72 L463.4,388.81 L464.1,388.9 L464.8,388.99 L465.5,389.08 L466.2,389.17 L466.9,389.26 L467.6,389.33 L468.3,389.41 L469,389.47 L469.7,389.53 L470.4,389.58 L471.1,389.62 L471.8,389.64 L472.5,389.66 L473.2,389.67 L473.9,389.68 L474.6,389.68 L475.3,389.69 L476,389.7 L476.7,389.71 L477.4,389.72 L478.1,389.73 L478.8,389.73 L479.5,389.74 L480.2,389.75 L480.9,389.76 L481.6,389.76 L482.3,389.77 L483,389.78 L483.7,389.78 L484.4,389.79 L485.1,389.79 L485.8,389.8 L486.5,389.8 L487.2,389.81 L487.9,389.82 L488.6,389.82 L489.3,389.82 L490,389.83 L490.7,389.83 L491.4,389.84 L492.1,389.84 L492.8,389.85 L493.5,389.85 L494.2,389.85 L494.9,389.86 L495.6,389.86 L496.3,389.86 L497,389.87 L497.7,389.87 L498.4,389.87 L499.1,389.88 L499.8,389.88 L500.5,389.88 L501.2,389.88 L501.9,389.88 L502.6,389.89 L503.3,389.89 L504,389.89 L504.7,389.89 L505.4,389.89 L506.1,389.89 L506.8,389.89 L507.5,389.9 L508.2,389.9 L508.9,389.9 L509.6,389.9 L510.3,389.9 L511,389.9 L511.7,389.9 L512.4,389.9 L513.1,389.9 L513.8,389.9" stroke="#3a3a3a" stroke-width="0.95" fill="none" stroke-dasharray="0.9,1.5"/>
<path d="M412.3,382.84 L413,382.82 L413.7,382.98 L414.4,383.05 L415.1,382.74 L415.8,382.65 L416.5,382.67 L417.2,382.29 L417.9,381.36 L418.6,382.17 L419.3,381.92 L420,381.39 L420.7,381.57 L421.4,381.21 L422.1,380.91 L422.8,380.44 L423.5,379.75 L424.2,379.36 L424.9,379.43 L425.6,378.57 L426.3,378.22 L427,377.27 L427.7,376.85 L428.4,375.69 L429.1,374.74 L429.8,374.75 L430.5,373.99 L431.2,373.24 L431.9,373.14 L432.6,372.94 L433.3,371.96 L434,371.7 L434.7,372.27 L435.4,372.11 L436.1,372.89 L436.8,373.65 L437.5,374.08 L438.2,375.11 L438.9,375.72 L439.6,375.57 L440.3,376.32 L441,377.03 L441.7,377.39 L442.4,377.73 L443.1,378.16 L443.8,377.77 L444.5,378.81 L445.2,378.6 L445.9,379.22 L446.6,378.79 L447.3,378.55 L448,379.15 L448.7,379.44 L449.4,379.79 L450.1,379.11 L450.8,379.75 L451.5,379.6 L452.2,379.58 L452.9,380.19 L453.6,380.04 L454.3,379.83 L455,380.63 L455.7,380.66 L456.4,380.78 L457.1,381.49 L457.8,381.41 L458.5,381.33 L459.2,381.38 L459.9,382.8 L460.6,383.15 L461.3,383.65 L462,384.36 L462.7,384.96 L463.4,385.33 L464.1,385.84 L464.8,386.35 L465.5,386.53 L466.2,386.83 L466.9,387.76 L467.6,387.36 L468.3,387.72 L469,387.88 L469.7,388.68 L470.4,387.71 L471.1,388.45 L471.8,389.07 L472.5,388.43 L473.2,388.69 L473.9,389.14 L474.6,388.73 L475.3,389.01 L476,389.23 L476.7,389.3 L477.4,389.37 L478.1,389.43 L478.8,389.48 L479.5,389.53 L480.2,389.58 L480.9,389.61 L481.6,389.64 L482.3,389.65 L483,389.67 L483.7,389.68 L484.4,389.69 L485.1,389.7 L485.8,389.71 L486.5,389.72 L487.2,389.73 L487.9,389.74 L488.6,389.75 L489.3,389.76 L490,389.77 L490.7,389.77 L491.4,389.78 L492.1,389.79 L492.8,389.8 L493.5,389.8 L494.2,389.81 L494.9,389.82 L495.6,389.82 L496.3,389.83 L497,389.84 L497.7,389.84 L498.4,389.85 L499.1,389.85 L499.8,389.86 L500.5,389.86 L501.2,389.86 L501.9,389.87 L502.6,389.87 L503.3,389.88 L504,389.88 L504.7,389.88 L505.4,389.88 L506.1,389.89 L506.8,389.89 L507.5,389.89 L508.2,389.89 L508.9,389.89 L509.6,389.9 L510.3,389.9 L511,389.9 L511.7,389.9 L512.4,389.9 L513.1,389.9 L513.8,389.9" stroke="#2a2a2a" stroke-width="0.95" fill="none"/>
<path d="M412.3,381.98 L413,381.98 L413.7,382.08 L414.4,382.55 L415.1,382.46 L415.8,382.41 L416.5,382.08 L417.2,382.27 L417.9,381.73 L418.6,381.77 L419.3,381.5 L420,381.99 L420.7,381.02 L421.4,381.12 L422.1,380.32 L422.8,380.39 L423.5,379.88 L424.2,379.63 L424.9,379.69 L425.6,379.41 L426.3,378.5 L427,377.94 L427.7,377.82 L428.4,377.16 L429.1,375.54 L429.8,375.54 L430.5,374.68 L431.2,374.91 L431.9,373.63 L432.6,373.47 L433.3,373.2 L434,372.77 L434.7,372.59 L435.4,371.46 L436.1,371.3 L436.8,371.66 L437.5,372.46 L438.2,372.26 L438.9,373.08 L439.6,374.66 L440.3,375.82 L441,376.63 L441.7,376.83 L442.4,378.24 L443.1,378.33 L443.8,379.11 L444.5,380.38 L445.2,380.23 L445.9,379.38 L446.6,380.54 L447.3,380.48 L448,380.74 L448.7,381.1 L449.4,381.45 L450.1,381.41 L450.8,381.66 L451.5,381.93 L452.2,382.2 L452.9,383.12 L453.6,383.4 L454.3,383.21 L455,383.68 L455.7,384.55 L456.4,384.52 L457.1,383.77 L457.8,384.81 L458.5,385.01 L459.2,385.04 L459.9,385.22 L460.6,385.99 L461.3,386 L462,385.55 L462.7,386.52 L463.4,386.42 L464.1,386.23 L464.8,386.89 L465.5,387.08 L466.2,387.51 L466.9,387.65 L467.6,387.25 L468.3,387.58 L469,387.84 L469.7,388.22 L470.4,387.73 L471.1,387.83 L471.8,388.43 L472.5,388.84 L473.2,389.01 L473.9,388.11 L474.6,388.11 L475.3,389.16 L476,388.99 L476.7,389.72 L477.4,389.21 L478.1,389.27 L478.8,389.33 L479.5,389.37 L480.2,389.4 L480.9,389.43 L481.6,389.45 L482.3,389.47 L483,389.49 L483.7,389.51 L484.4,389.52 L485.1,389.54 L485.8,389.55 L486.5,389.57 L487.2,389.58 L487.9,389.59 L488.6,389.6 L489.3,389.61 L490,389.62 L490.7,389.63 L491.4,389.64 L492.1,389.65 L492.8,389.66 L493.5,389.67 L494.2,389.68 L494.9,389.69 L495.6,389.7 L496.3,389.71 L497,389.72 L497.7,389.73 L498.4,389.74 L499.1,389.75 L499.8,389.76 L500.5,389.77 L501.2,389.78 L501.9,389.79 L502.6,389.8 L503.3,389.81 L504,389.81 L504.7,389.82 L505.4,389.83 L506.1,389.84 L506.8,389.84 L507.5,389.85 L508.2,389.86 L508.9,389.86 L509.6,389.87 L510.3,389.88 L511,389.88 L511.7,389.89 L512.4,389.89 L513.1,389.9 L513.8,389.9" stroke="#000" stroke-width="1.7" fill="none" stroke-linejoin="round"/>
<path d="M411.3,389.9 V365.3 H414.7 L414.9,389.9 Z" fill="#000"/>
<path d="M411.7,389.9 V365.3 H513.2" stroke="#222" stroke-width="1" fill="none"/>
<line x1="411.2" y1="389.9" x2="513.6" y2="389.9" stroke="#000" stroke-width="1.4"/>
<path d="M411.7,389.9 v1.9 M415.27,389.9 v1.9 M418.84,389.9 v1.9 M422.41,389.9 v1.9 M425.99,389.9 v1.9 M429.56,389.9 v1.9 M433.13,389.9 v1.9 M436.7,389.9 v1.9 M440.27,389.9 v1.9 M443.84,389.9 v1.9 M447.41,389.9 v1.9 M450.99,389.9 v1.9 M454.56,389.9 v1.9 M458.13,389.9 v1.9 M461.7,389.9 v1.9 M465.27,389.9 v1.9 M468.84,389.9 v1.9 M472.41,389.9 v1.9 M475.99,389.9 v1.9 M479.56,389.9 v1.9 M483.13,389.9 v1.9 M486.7,389.9 v1.9 M490.27,389.9 v1.9 M493.84,389.9 v1.9 M497.41,389.9 v1.9 M500.99,389.9 v1.9 M504.56,389.9 v1.9 M508.13,389.9 v1.9 M511.7,389.9 v1.9" stroke="#000" stroke-width="0.8"/>
<path d="M411.7,389.9 h-2.2 M411.7,387.25 h-2.2 M411.7,384.61 h-2.2 M411.7,381.96 h-2.2 M411.7,379.32 h-2.2 M411.7,376.67 h-2.2 M411.7,374.03 h-2.2 M411.7,371.38 h-2.2 M411.7,368.74 h-2.2 M411.7,366.09 h-2.2" stroke="#000" stroke-width="0.8"/>
<line x1="411.7" y1="365.3" x2="411.7" y2="389.9" stroke="#000" stroke-width="1.5"/>
<text class="c" x="411.7" y="399.7" text-anchor="middle" font-size="6.4">10</text>
<text class="c" x="414.6" y="396.5" font-size="6.1">0</text>
<text class="c" x="436.7" y="399.7" text-anchor="middle" font-size="6.4">10</text>
<text class="c" x="439.6" y="396.5" font-size="6.1">1</text>
<text class="c" x="461.7" y="399.7" text-anchor="middle" font-size="6.4">10</text>
<text class="c" x="464.6" y="396.5" font-size="6.1">2</text>
<text class="c" x="486.7" y="399.7" text-anchor="middle" font-size="6.4">10</text>
<text class="c" x="489.6" y="396.5" font-size="6.1">3</text>
<text class="c" x="511.7" y="399.7" text-anchor="middle" font-size="6.4">10</text>
<text class="c" x="514.6" y="396.5" font-size="6.1">4</text>
<text x="462.2" y="405.8" text-anchor="middle" font-size="6.4" class="c">CD127</text>
<text transform="translate(406.5,365.5) rotate(-90)" text-anchor="middle" font-size="5.7" class="c">50</text>
<text transform="translate(406.5,389.9) rotate(-90)" text-anchor="middle" font-size="5.7" class="c">0</text>
<text transform="translate(400.5,379.4) rotate(-90)" text-anchor="middle" font-size="7" class="c" textLength="18.4" lengthAdjust="spacingAndGlyphs">Counts</text>
<path d="M412.3,440.44 L413,440.79 L413.7,441.09 L414.4,441.31 L415.1,441.42 L415.8,441.41 L416.5,441.35 L417.2,441.25 L417.9,441.12 L418.6,440.95 L419.3,440.76 L420,440.54 L420.7,440.27 L421.4,439.83 L422.1,439.22 L422.8,438.5 L423.5,437.7 L424.2,436.87 L424.9,435.95 L425.6,434.86 L426.3,433.65 L427,432.38 L427.7,431.06 L428.4,429.59 L429.1,428.06 L429.8,426.6 L430.5,425.34 L431.2,424.14 L431.9,423.02 L432.6,422.03 L433.3,421.25 L434,420.59 L434.7,419.98 L435.4,419.6 L436.1,419.62 L436.8,420.39 L437.5,421.65 L438.2,423.03 L438.9,424.53 L439.6,426.39 L440.3,428.24 L441,429.77 L441.7,431.15 L442.4,432.39 L443.1,433.35 L443.8,433.99 L444.5,434.51 L445.2,434.95 L445.9,435.33 L446.6,435.68 L447.3,436.01 L448,436.34 L448.7,436.64 L449.4,436.92 L450.1,437.19 L450.8,437.44 L451.5,437.69 L452.2,437.94 L452.9,438.19 L453.6,438.44 L454.3,438.67 L455,438.91 L455.7,439.13 L456.4,439.36 L457.1,439.58 L457.8,439.79 L458.5,440.01 L459.2,440.23 L459.9,440.46 L460.6,440.69 L461.3,440.91 L462,441.12 L462.7,441.31 L463.4,441.49 L464.1,441.63 L464.8,441.76 L465.5,441.88 L466.2,442 L466.9,442.11 L467.6,442.22 L468.3,442.32 L469,442.41 L469.7,442.49 L470.4,442.56 L471.1,442.61 L471.8,442.64 L472.5,442.66 L473.2,442.67 L473.9,442.68 L474.6,442.69 L475.3,442.69 L476,442.7 L476.7,442.71 L477.4,442.72 L478.1,442.73 L478.8,442.74 L479.5,442.74 L480.2,442.75 L480.9,442.76 L481.6,442.77 L482.3,442.77 L483,442.78 L483.7,442.78 L484.4,442.79 L485.1,442.8 L485.8,442.8 L486.5,442.81 L487.2,442.81 L487.9,442.82 L488.6,442.82 L489.3,442.83 L490,442.83 L490.7,442.84 L491.4,442.84 L492.1,442.85 L492.8,442.85 L493.5,442.85 L494.2,442.86 L494.9,442.86 L495.6,442.86 L496.3,442.87 L497,442.87 L497.7,442.87 L498.4,442.87 L499.1,442.88 L499.8,442.88 L500.5,442.88 L501.2,442.88 L501.9,442.89 L502.6,442.89 L503.3,442.89 L504,442.89 L504.7,442.89 L505.4,442.89 L506.1,442.89 L506.8,442.9 L507.5,442.9 L508.2,442.9 L508.9,442.9 L509.6,442.9 L510.3,442.9 L511,442.9 L511.7,442.9 L512.4,442.9 L513.1,442.9 L513.8,442.9" stroke="#3a3a3a" stroke-width="0.95" fill="none" stroke-dasharray="0.9,1.5"/>
<path d="M412.3,438.8 L413,440.23 L413.7,441.2 L414.4,441.28 L415.1,440.92 L415.8,441.33 L416.5,441.12 L417.2,441.2 L417.9,441.07 L418.6,441.52 L419.3,441.32 L420,440.97 L420.7,441.17 L421.4,441.1 L422.1,440.23 L422.8,439.83 L423.5,440.24 L424.2,439.52 L424.9,439.18 L425.6,438.79 L426.3,438.44 L427,437.93 L427.7,437.14 L428.4,435.4 L429.1,434.43 L429.8,432.89 L430.5,431.93 L431.2,429.17 L431.9,427.36 L432.6,426.02 L433.3,424.06 L434,423.16 L434.7,421.29 L435.4,419.91 L436.1,419.52 L436.8,419.63 L437.5,420.41 L438.2,421.04 L438.9,422.99 L439.6,424.53 L440.3,426.67 L441,428.02 L441.7,429.65 L442.4,431.43 L443.1,431.74 L443.8,433.27 L444.5,433.99 L445.2,434.22 L445.9,435.04 L446.6,435.35 L447.3,436.18 L448,435.77 L448.7,435.89 L449.4,436.49 L450.1,436.31 L450.8,436.48 L451.5,437 L452.2,437.62 L452.9,437.65 L453.6,437.99 L454.3,438.5 L455,438.54 L455.7,439.05 L456.4,439.81 L457.1,439.81 L457.8,439.97 L458.5,440.62 L459.2,440.91 L459.9,440.67 L460.6,440.74 L461.3,441.37 L462,441.09 L462.7,441.68 L463.4,441.9 L464.1,441.39 L464.8,441.7 L465.5,442.38 L466.2,442.41 L466.9,441.99 L467.6,442.35 L468.3,442.42 L469,442.21 L469.7,442.27 L470.4,442.32 L471.1,442.36 L471.8,442.39 L472.5,442.41 L473.2,442.43 L473.9,442.45 L474.6,442.46 L475.3,442.48 L476,442.5 L476.7,442.51 L477.4,442.53 L478.1,442.54 L478.8,442.56 L479.5,442.57 L480.2,442.59 L480.9,442.6 L481.6,442.61 L482.3,442.63 L483,442.64 L483.7,442.65 L484.4,442.66 L485.1,442.68 L485.8,442.69 L486.5,442.7 L487.2,442.71 L487.9,442.72 L488.6,442.73 L489.3,442.74 L490,442.75 L490.7,442.76 L491.4,442.77 L492.1,442.77 L492.8,442.78 L493.5,442.79 L494.2,442.8 L494.9,442.81 L495.6,442.81 L496.3,442.82 L497,442.83 L497.7,442.83 L498.4,442.84 L499.1,442.84 L499.8,442.85 L500.5,442.85 L501.2,442.86 L501.9,442.86 L502.6,442.87 L503.3,442.87 L504,442.88 L504.7,442.88 L505.4,442.88 L506.1,442.89 L506.8,442.89 L507.5,442.89 L508.2,442.89 L508.9,442.89 L509.6,442.9 L510.3,442.9 L511,442.9 L511.7,442.9 L512.4,442.9 L513.1,442.9 L513.8,442.9" stroke="#2a2a2a" stroke-width="0.95" fill="none"/>
<path d="M412.3,438.71 L413,439.52 L413.7,440.81 L414.4,441.48 L415.1,441.06 L415.8,441.78 L416.5,442.24 L417.2,441.68 L417.9,441.27 L418.6,441.14 L419.3,441.12 L420,441.95 L420.7,441.14 L421.4,441.09 L422.1,440.39 L422.8,440.66 L423.5,439.57 L424.2,439.38 L424.9,438.74 L425.6,438.39 L426.3,438.27 L427,438.18 L427.7,436.62 L428.4,435.8 L429.1,434.24 L429.8,432.47 L430.5,431.71 L431.2,429.3 L431.9,427.7 L432.6,425.8 L433.3,424.29 L434,422.89 L434.7,421.06 L435.4,419.68 L436.1,418.98 L436.8,419.22 L437.5,419.92 L438.2,420.94 L438.9,422.55 L439.6,424.09 L440.3,425.62 L441,427.63 L441.7,429.17 L442.4,430.16 L443.1,430.93 L443.8,432.68 L444.5,433.82 L445.2,433.56 L445.9,434.3 L446.6,435.14 L447.3,435.1 L448,435.4 L448.7,435.52 L449.4,436.39 L450.1,436.08 L450.8,436.78 L451.5,436.87 L452.2,437.64 L452.9,437.25 L453.6,437.89 L454.3,438.56 L455,438.5 L455.7,438.72 L456.4,438.93 L457.1,439.24 L457.8,440.32 L458.5,440.33 L459.2,440.27 L459.9,440.4 L460.6,441.01 L461.3,440.51 L462,440.87 L462.7,441.7 L463.4,441.67 L464.1,441.06 L464.8,442.04 L465.5,440.96 L466.2,441.16 L466.9,442.09 L467.6,441.66 L468.3,441.52 L469,442.29 L469.7,442.48 L470.4,441.49 L471.1,442.04 L471.8,442.5 L472.5,441.69 L473.2,441.71 L473.9,441.92 L474.6,442.09 L475.3,442.37 L476,442.59 L476.7,441.88 L477.4,441.97 L478.1,442.56 L478.8,442.42 L479.5,442.4 L480.2,442.31 L480.9,442.21 L481.6,441.76 L482.3,442.16 L483,442.18 L483.7,442.19 L484.4,442.2 L485.1,442.22 L485.8,442.23 L486.5,442.25 L487.2,442.26 L487.9,442.28 L488.6,442.29 L489.3,442.31 L490,442.32 L490.7,442.34 L491.4,442.35 L492.1,442.36 L492.8,442.37 L493.5,442.38 L494.2,442.39 L494.9,442.4 L495.6,442.4 L496.3,442.41 L497,442.41 L497.7,442.41 L498.4,442.41 L499.1,442.41 L499.8,442.41 L500.5,442.41 L501.2,442.41 L501.9,442.41 L502.6,442.41 L503.3,442.41 L504,442.41 L504.7,442.41 L505.4,442.41 L506.1,442.41 L506.8,442.41 L507.5,442.41 L508.2,442.41 L508.9,442.41 L509.6,442.41 L510.3,442.41 L511,442.41 L511.7,442.41 L512.4,442.41 L513.1,442.41 L513.8,442.41" stroke="#000" stroke-width="1.7" fill="none" stroke-linejoin="round"/>
<path d="M411.7,442.9 V418.3 H513.2" stroke="#222" stroke-width="1" fill="none"/>
<line x1="411.2" y1="442.9" x2="513.6" y2="442.9" stroke="#000" stroke-width="1.4"/>
<path d="M411.7,442.9 v1.9 M415.27,442.9 v1.9 M418.84,442.9 v1.9 M422.41,442.9 v1.9 M425.99,442.9 v1.9 M429.56,442.9 v1.9 M433.13,442.9 v1.9 M436.7,442.9 v1.9 M440.27,442.9 v1.9 M443.84,442.9 v1.9 M447.41,442.9 v1.9 M450.99,442.9 v1.9 M454.56,442.9 v1.9 M458.13,442.9 v1.9 M461.7,442.9 v1.9 M465.27,442.9 v1.9 M468.84,442.9 v1.9 M472.41,442.9 v1.9 M475.99,442.9 v1.9 M479.56,442.9 v1.9 M483.13,442.9 v1.9 M486.7,442.9 v1.9 M490.27,442.9 v1.9 M493.84,442.9 v1.9 M497.41,442.9 v1.9 M500.99,442.9 v1.9 M504.56,442.9 v1.9 M508.13,442.9 v1.9 M511.7,442.9 v1.9" stroke="#000" stroke-width="0.8"/>
<path d="M411.7,442.9 h-2.2 M411.7,440.25 h-2.2 M411.7,437.61 h-2.2 M411.7,434.96 h-2.2 M411.7,432.32 h-2.2 M411.7,429.67 h-2.2 M411.7,427.03 h-2.2 M411.7,424.38 h-2.2 M411.7,421.74 h-2.2 M411.7,419.09 h-2.2" stroke="#000" stroke-width="0.8"/>
<line x1="411.7" y1="418.3" x2="411.7" y2="442.9" stroke="#000" stroke-width="1.5"/>
<text class="c" x="411.7" y="452.7" text-anchor="middle" font-size="6.4">10</text>
<text class="c" x="414.6" y="449.5" font-size="6.1">0</text>
<text class="c" x="436.7" y="452.7" text-anchor="middle" font-size="6.4">10</text>
<text class="c" x="439.6" y="449.5" font-size="6.1">1</text>
<text class="c" x="461.7" y="452.7" text-anchor="middle" font-size="6.4">10</text>
<text class="c" x="464.6" y="449.5" font-size="6.1">2</text>
<text class="c" x="486.7" y="452.7" text-anchor="middle" font-size="6.4">10</text>
<text class="c" x="489.6" y="449.5" font-size="6.1">3</text>
<text class="c" x="511.7" y="452.7" text-anchor="middle" font-size="6.4">10</text>
<text class="c" x="514.6" y="449.5" font-size="6.1">4</text>
<text x="462.2" y="458.8" text-anchor="middle" font-size="6.4" class="c">GRAN. B</text>
<text transform="translate(406.5,418.5) rotate(-90)" text-anchor="middle" font-size="5.7" class="c">70</text>
<text transform="translate(406.5,442.9) rotate(-90)" text-anchor="middle" font-size="5.7" class="c">0</text>
<text transform="translate(400.5,432.4) rotate(-90)" text-anchor="middle" font-size="7" class="c" textLength="18.4" lengthAdjust="spacingAndGlyphs">Counts</text>
</svg></body></html>
